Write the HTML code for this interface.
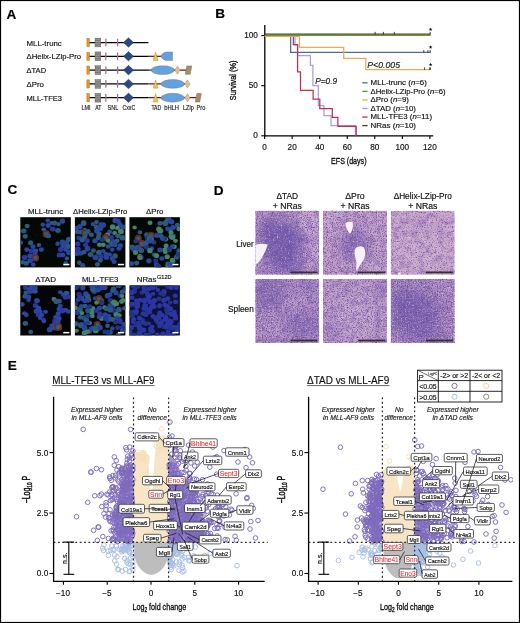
<!DOCTYPE html><html><head><meta charset="utf-8"><title>Figure</title><style>html,body{margin:0;padding:0;background:#fff;width:520px;height:623px;overflow:hidden}svg{display:block;font-family:"Liberation Sans",sans-serif;will-change:transform}</style></head><body><svg width="520" height="623" viewBox="0 0 520 623" font-family="Liberation Sans, sans-serif"><defs><filter id="soft" x="-5%" y="-5%" width="110%" height="110%"><feGaussianBlur stdDeviation="0.7"/></filter><clipPath id="tc00"><rect x="20.30" y="217.20" width="50.5" height="50.2"/></clipPath><clipPath id="tc01"><rect x="20.30" y="285.30" width="50.5" height="50.2"/></clipPath><clipPath id="tc10"><rect x="74.90" y="217.20" width="50.5" height="50.2"/></clipPath><clipPath id="tc11"><rect x="74.90" y="285.30" width="50.5" height="50.2"/></clipPath><clipPath id="tc20"><rect x="129.40" y="217.20" width="50.5" height="50.2"/></clipPath><clipPath id="tc21"><rect x="129.40" y="285.30" width="50.5" height="50.2"/></clipPath><filter id="hx0" x="0" y="0" width="100%" height="100%" color-interpolation-filters="sRGB"><feTurbulence type="fractalNoise" baseFrequency="0.8" numOctaves="1" seed="3" result="n"/><feColorMatrix in="n" type="matrix" values="0 0 0 0 0.44  0 0 0 0 0.30  0 0 0 0 0.64  3.4 0 0 0 -1.55"/><feGaussianBlur stdDeviation="0.3"/></filter><filter id="hy0" x="0" y="0" width="100%" height="100%" color-interpolation-filters="sRGB"><feTurbulence type="fractalNoise" baseFrequency="0.75" numOctaves="1" seed="5" result="n"/><feColorMatrix in="n" type="matrix" values="0 0 0 0 0.94  0 0 0 0 0.84  0 0 0 0 0.94  0 2.4 0 0 -1.35"/></filter><filter id="hz0" x="0" y="0" width="100%" height="100%" color-interpolation-filters="sRGB"><feTurbulence type="fractalNoise" baseFrequency="0.16" numOctaves="2" seed="9" result="n"/><feColorMatrix in="n" type="matrix" values="0 0 0 0 0.36  0 0 0 0 0.26  0 0 0 0 0.62  0 0 2.2 0 -0.95"/></filter><filter id="hx1" x="0" y="0" width="100%" height="100%" color-interpolation-filters="sRGB"><feTurbulence type="fractalNoise" baseFrequency="0.8" numOctaves="1" seed="14" result="n"/><feColorMatrix in="n" type="matrix" values="0 0 0 0 0.44  0 0 0 0 0.30  0 0 0 0 0.64  3.4 0 0 0 -1.6"/><feGaussianBlur stdDeviation="0.3"/></filter><filter id="hy1" x="0" y="0" width="100%" height="100%" color-interpolation-filters="sRGB"><feTurbulence type="fractalNoise" baseFrequency="0.75" numOctaves="1" seed="12" result="n"/><feColorMatrix in="n" type="matrix" values="0 0 0 0 0.94  0 0 0 0 0.84  0 0 0 0 0.94  0 2.4 0 0 -1.35"/></filter><filter id="hz1" x="0" y="0" width="100%" height="100%" color-interpolation-filters="sRGB"><feTurbulence type="fractalNoise" baseFrequency="0.16" numOctaves="2" seed="14" result="n"/><feColorMatrix in="n" type="matrix" values="0 0 0 0 0.36  0 0 0 0 0.26  0 0 0 0 0.62  0 0 2.2 0 -0.95"/></filter><filter id="hx2" x="0" y="0" width="100%" height="100%" color-interpolation-filters="sRGB"><feTurbulence type="fractalNoise" baseFrequency="0.8" numOctaves="1" seed="25" result="n"/><feColorMatrix in="n" type="matrix" values="0 0 0 0 0.44  0 0 0 0 0.30  0 0 0 0 0.64  3.4 0 0 0 -1.78"/><feGaussianBlur stdDeviation="0.3"/></filter><filter id="hy2" x="0" y="0" width="100%" height="100%" color-interpolation-filters="sRGB"><feTurbulence type="fractalNoise" baseFrequency="0.75" numOctaves="1" seed="19" result="n"/><feColorMatrix in="n" type="matrix" values="0 0 0 0 0.94  0 0 0 0 0.84  0 0 0 0 0.94  0 2.4 0 0 -1.35"/></filter><filter id="hz2" x="0" y="0" width="100%" height="100%" color-interpolation-filters="sRGB"><feTurbulence type="fractalNoise" baseFrequency="0.16" numOctaves="2" seed="19" result="n"/><feColorMatrix in="n" type="matrix" values="0 0 0 0 0.36  0 0 0 0 0.26  0 0 0 0 0.62  0 0 2.2 0 -0.95"/></filter><filter id="hx3" x="0" y="0" width="100%" height="100%" color-interpolation-filters="sRGB"><feTurbulence type="fractalNoise" baseFrequency="0.8" numOctaves="1" seed="36" result="n"/><feColorMatrix in="n" type="matrix" values="0 0 0 0 0.44  0 0 0 0 0.30  0 0 0 0 0.64  3.4 0 0 0 -1.55"/><feGaussianBlur stdDeviation="0.3"/></filter><filter id="hy3" x="0" y="0" width="100%" height="100%" color-interpolation-filters="sRGB"><feTurbulence type="fractalNoise" baseFrequency="0.75" numOctaves="1" seed="26" result="n"/><feColorMatrix in="n" type="matrix" values="0 0 0 0 0.94  0 0 0 0 0.84  0 0 0 0 0.94  0 2.4 0 0 -1.35"/></filter><filter id="hz3" x="0" y="0" width="100%" height="100%" color-interpolation-filters="sRGB"><feTurbulence type="fractalNoise" baseFrequency="0.16" numOctaves="2" seed="24" result="n"/><feColorMatrix in="n" type="matrix" values="0 0 0 0 0.36  0 0 0 0 0.26  0 0 0 0 0.62  0 0 2.2 0 -0.95"/></filter><filter id="hx4" x="0" y="0" width="100%" height="100%" color-interpolation-filters="sRGB"><feTurbulence type="fractalNoise" baseFrequency="0.8" numOctaves="1" seed="47" result="n"/><feColorMatrix in="n" type="matrix" values="0 0 0 0 0.44  0 0 0 0 0.30  0 0 0 0 0.64  3.4 0 0 0 -1.62"/><feGaussianBlur stdDeviation="0.3"/></filter><filter id="hy4" x="0" y="0" width="100%" height="100%" color-interpolation-filters="sRGB"><feTurbulence type="fractalNoise" baseFrequency="0.75" numOctaves="1" seed="33" result="n"/><feColorMatrix in="n" type="matrix" values="0 0 0 0 0.94  0 0 0 0 0.84  0 0 0 0 0.94  0 2.4 0 0 -1.35"/></filter><filter id="hz4" x="0" y="0" width="100%" height="100%" color-interpolation-filters="sRGB"><feTurbulence type="fractalNoise" baseFrequency="0.16" numOctaves="2" seed="29" result="n"/><feColorMatrix in="n" type="matrix" values="0 0 0 0 0.36  0 0 0 0 0.26  0 0 0 0 0.62  0 0 2.2 0 -0.95"/></filter><filter id="hx5" x="0" y="0" width="100%" height="100%" color-interpolation-filters="sRGB"><feTurbulence type="fractalNoise" baseFrequency="0.8" numOctaves="1" seed="58" result="n"/><feColorMatrix in="n" type="matrix" values="0 0 0 0 0.44  0 0 0 0 0.30  0 0 0 0 0.64  3.4 0 0 0 -1.5"/><feGaussianBlur stdDeviation="0.3"/></filter><filter id="hy5" x="0" y="0" width="100%" height="100%" color-interpolation-filters="sRGB"><feTurbulence type="fractalNoise" baseFrequency="0.75" numOctaves="1" seed="40" result="n"/><feColorMatrix in="n" type="matrix" values="0 0 0 0 0.94  0 0 0 0 0.84  0 0 0 0 0.94  0 2.4 0 0 -1.35"/></filter><filter id="hz5" x="0" y="0" width="100%" height="100%" color-interpolation-filters="sRGB"><feTurbulence type="fractalNoise" baseFrequency="0.16" numOctaves="2" seed="34" result="n"/><feColorMatrix in="n" type="matrix" values="0 0 0 0 0.36  0 0 0 0 0.26  0 0 0 0 0.62  0 0 2.2 0 -0.95"/></filter><filter id="blob" x="-50%" y="-50%" width="200%" height="200%"><feGaussianBlur stdDeviation="5"/></filter><filter id="wblur" x="-20%" y="-20%" width="140%" height="140%"><feGaussianBlur stdDeviation="0.6"/></filter><clipPath id="hd00"><rect x="255.30" y="210.80" width="63.9" height="64.0"/></clipPath><clipPath id="hd10"><rect x="323.00" y="210.80" width="63.9" height="64.0"/></clipPath><clipPath id="hd20"><rect x="390.80" y="210.80" width="63.9" height="64.0"/></clipPath><clipPath id="hd01"><rect x="255.30" y="278.90" width="63.9" height="64.0"/></clipPath><clipPath id="hd11"><rect x="323.00" y="278.90" width="63.9" height="64.0"/></clipPath><clipPath id="hd21"><rect x="390.80" y="278.90" width="63.9" height="64.0"/></clipPath><filter id="pblur" x="-2%" y="-2%" width="104%" height="104%"><feGaussianBlur stdDeviation="0.28"/></filter><clipPath id="pc0"><rect x="54.3" y="392" width="211.1" height="188.7"/></clipPath><clipPath id="pc1"><rect x="309.3" y="392" width="203.8" height="188.7"/></clipPath></defs><rect x="0.50" y="0.50" width="519.00" height="622.00" fill="#fff" stroke="#000" stroke-width="1.2"/>
<text x="6.60" y="18.50" font-size="13.6" stroke="#000" stroke-width="0.16" font-weight="bold">A</text>
<text x="215.20" y="18.10" font-size="13.6" stroke="#000" stroke-width="0.16" font-weight="bold">B</text>
<text x="7.40" y="194.40" font-size="13.6" stroke="#000" stroke-width="0.16" font-weight="bold">C</text>
<text x="213.80" y="195.00" font-size="13.6" stroke="#000" stroke-width="0.16" font-weight="bold">D</text>
<text x="7.80" y="369.80" font-size="13.6" stroke="#000" stroke-width="0.16" font-weight="bold">E</text>
<text x="26.50" y="45.50" font-size="7.8" fill="#111" stroke="#111" stroke-width="0.16" textLength="35.30" lengthAdjust="spacingAndGlyphs">MLL-trunc</text>
<text x="26.50" y="59.20" font-size="7.8" fill="#111" stroke="#111" stroke-width="0.16" textLength="54.60" lengthAdjust="spacingAndGlyphs">ΔHelix-LZip-Pro</text>
<text x="26.50" y="73.00" font-size="7.8" fill="#111" stroke="#111" stroke-width="0.16" textLength="19.60" lengthAdjust="spacingAndGlyphs">ΔTAD</text>
<text x="26.50" y="86.80" font-size="7.8" fill="#111" stroke="#111" stroke-width="0.16" textLength="17.40" lengthAdjust="spacingAndGlyphs">ΔPro</text>
<text x="26.50" y="100.60" font-size="7.8" fill="#111" stroke="#111" stroke-width="0.16" textLength="35.40" lengthAdjust="spacingAndGlyphs">MLL-TFE3</text>
<line x1="89.30" y1="42.50" x2="148.40" y2="42.50" stroke="#000" stroke-width="1.25"/>
<rect x="86.90" y="38.40" width="2.50" height="8.20" fill="#e8961c" stroke="#9a6010" stroke-width="0.4"/>
<rect x="95.00" y="38.10" width="5.80" height="8.80" fill="#7c7c7c" stroke="#5a5a5a" stroke-width="0.4"/>
<line x1="95.20" y1="39.30" x2="100.60" y2="39.30" stroke="#a8a8a8" stroke-width="0.55"/>
<line x1="95.20" y1="41.50" x2="100.60" y2="41.50" stroke="#a8a8a8" stroke-width="0.55"/>
<line x1="95.20" y1="43.70" x2="100.60" y2="43.70" stroke="#a8a8a8" stroke-width="0.55"/>
<line x1="95.20" y1="45.90" x2="100.60" y2="45.90" stroke="#a8a8a8" stroke-width="0.55"/>
<rect x="105.20" y="38.70" width="1.30" height="7.60" fill="#a87090"/>
<rect x="116.90" y="38.70" width="1.30" height="7.60" fill="#a87090"/>
<path d="M123.40 42.50L128.50 37.70L133.60 42.50L128.50 47.30Z" fill="#2a4a80" stroke="#1a2e55" stroke-width="0.4"/>
<line x1="89.30" y1="56.31" x2="148.80" y2="56.31" stroke="#000" stroke-width="1.25"/>
<line x1="148.80" y1="56.31" x2="161.50" y2="56.31" stroke="#6a1420" stroke-width="1.25"/>
<rect x="86.90" y="52.21" width="2.50" height="8.20" fill="#e8961c" stroke="#9a6010" stroke-width="0.4"/>
<rect x="95.00" y="51.91" width="5.80" height="8.80" fill="#7c7c7c" stroke="#5a5a5a" stroke-width="0.4"/>
<line x1="95.20" y1="53.11" x2="100.60" y2="53.11" stroke="#a8a8a8" stroke-width="0.55"/>
<line x1="95.20" y1="55.31" x2="100.60" y2="55.31" stroke="#a8a8a8" stroke-width="0.55"/>
<line x1="95.20" y1="57.51" x2="100.60" y2="57.51" stroke="#a8a8a8" stroke-width="0.55"/>
<line x1="95.20" y1="59.71" x2="100.60" y2="59.71" stroke="#a8a8a8" stroke-width="0.55"/>
<rect x="105.20" y="52.51" width="1.30" height="7.60" fill="#a87090"/>
<rect x="116.90" y="52.51" width="1.30" height="7.60" fill="#a87090"/>
<path d="M123.40 56.31L128.50 51.51L133.60 56.31L128.50 61.11Z" fill="#2a4a80" stroke="#1a2e55" stroke-width="0.4"/>
<path d="M155.6 52.11L158.1 60.51L153.2 60.51Z" fill="#f2c44a" stroke="#a08030" stroke-width="0.4"/>
<path d="M172.5 52.01L172.5 60.61L166.5 60.61C163.5 60.61 161.5 57.81 160.8 56.31C161.5 54.81 163.5 52.01 166.5 52.01Z" fill="#62a2e2" stroke="#7a6a50" stroke-width="0.4"/>
<line x1="89.30" y1="70.12" x2="149.50" y2="70.12" stroke="#000" stroke-width="1.25"/>
<line x1="149.50" y1="70.12" x2="186.00" y2="70.12" stroke="#6a1420" stroke-width="1.25"/>
<rect x="86.90" y="66.02" width="2.50" height="8.20" fill="#e8961c" stroke="#9a6010" stroke-width="0.4"/>
<rect x="95.00" y="65.72" width="5.80" height="8.80" fill="#7c7c7c" stroke="#5a5a5a" stroke-width="0.4"/>
<line x1="95.20" y1="66.92" x2="100.60" y2="66.92" stroke="#a8a8a8" stroke-width="0.55"/>
<line x1="95.20" y1="69.12" x2="100.60" y2="69.12" stroke="#a8a8a8" stroke-width="0.55"/>
<line x1="95.20" y1="71.32" x2="100.60" y2="71.32" stroke="#a8a8a8" stroke-width="0.55"/>
<line x1="95.20" y1="73.52" x2="100.60" y2="73.52" stroke="#a8a8a8" stroke-width="0.55"/>
<rect x="105.20" y="66.32" width="1.30" height="7.60" fill="#a87090"/>
<rect x="116.90" y="66.32" width="1.30" height="7.60" fill="#a87090"/>
<path d="M123.40 70.12L128.50 65.32L133.60 70.12L128.50 74.92Z" fill="#2a4a80" stroke="#1a2e55" stroke-width="0.4"/>
<ellipse cx="162.65" cy="70.12" rx="11.65" ry="4.4" fill="#62a2e2" stroke="#7a6a50" stroke-width="0.4"/>
<path d="M174.70 70.12L177.40 66.02L180.10 70.12L177.40 74.22Z" fill="#e2c08e" stroke="#9a7a50" stroke-width="0.4"/>
<path d="M186.80 65.92L191.80 65.92L190.20 74.32L185.20 74.32Z" fill="#a88e6a" stroke="#6a5a40" stroke-width="0.4"/>
<line x1="89.30" y1="83.93" x2="148.50" y2="83.93" stroke="#000" stroke-width="1.25"/>
<line x1="148.50" y1="83.93" x2="185.00" y2="83.93" stroke="#6a1420" stroke-width="1.25"/>
<rect x="86.90" y="79.83" width="2.50" height="8.20" fill="#e8961c" stroke="#9a6010" stroke-width="0.4"/>
<rect x="95.00" y="79.53" width="5.80" height="8.80" fill="#7c7c7c" stroke="#5a5a5a" stroke-width="0.4"/>
<line x1="95.20" y1="80.73" x2="100.60" y2="80.73" stroke="#a8a8a8" stroke-width="0.55"/>
<line x1="95.20" y1="82.93" x2="100.60" y2="82.93" stroke="#a8a8a8" stroke-width="0.55"/>
<line x1="95.20" y1="85.13" x2="100.60" y2="85.13" stroke="#a8a8a8" stroke-width="0.55"/>
<line x1="95.20" y1="87.33" x2="100.60" y2="87.33" stroke="#a8a8a8" stroke-width="0.55"/>
<rect x="105.20" y="80.13" width="1.30" height="7.60" fill="#a87090"/>
<rect x="116.90" y="80.13" width="1.30" height="7.60" fill="#a87090"/>
<path d="M123.40 83.93L128.50 79.13L133.60 83.93L128.50 88.73Z" fill="#2a4a80" stroke="#1a2e55" stroke-width="0.4"/>
<path d="M155.6 79.73L158.1 88.13L153.2 88.13Z" fill="#f2c44a" stroke="#a08030" stroke-width="0.4"/>
<ellipse cx="172.70" cy="83.93" rx="11.80" ry="4.4" fill="#62a2e2" stroke="#7a6a50" stroke-width="0.4"/>
<path d="M184.70 83.93L187.40 79.83L190.10 83.93L187.40 88.03Z" fill="#e2c08e" stroke="#9a7a50" stroke-width="0.4"/>
<line x1="89.30" y1="97.74" x2="148.50" y2="97.74" stroke="#000" stroke-width="1.25"/>
<line x1="148.50" y1="97.74" x2="196.00" y2="97.74" stroke="#6a1420" stroke-width="1.25"/>
<rect x="86.90" y="93.64" width="2.50" height="8.20" fill="#e8961c" stroke="#9a6010" stroke-width="0.4"/>
<rect x="95.00" y="93.34" width="5.80" height="8.80" fill="#7c7c7c" stroke="#5a5a5a" stroke-width="0.4"/>
<line x1="95.20" y1="94.54" x2="100.60" y2="94.54" stroke="#a8a8a8" stroke-width="0.55"/>
<line x1="95.20" y1="96.74" x2="100.60" y2="96.74" stroke="#a8a8a8" stroke-width="0.55"/>
<line x1="95.20" y1="98.94" x2="100.60" y2="98.94" stroke="#a8a8a8" stroke-width="0.55"/>
<line x1="95.20" y1="101.14" x2="100.60" y2="101.14" stroke="#a8a8a8" stroke-width="0.55"/>
<rect x="105.20" y="93.94" width="1.30" height="7.60" fill="#a87090"/>
<rect x="116.90" y="93.94" width="1.30" height="7.60" fill="#a87090"/>
<path d="M123.40 97.74L128.50 92.94L133.60 97.74L128.50 102.54Z" fill="#2a4a80" stroke="#1a2e55" stroke-width="0.4"/>
<path d="M155.6 93.54L158.1 101.94L153.2 101.94Z" fill="#f2c44a" stroke="#a08030" stroke-width="0.4"/>
<ellipse cx="172.70" cy="97.74" rx="11.80" ry="4.4" fill="#62a2e2" stroke="#7a6a50" stroke-width="0.4"/>
<path d="M184.70 97.74L187.40 93.64L190.10 97.74L187.40 101.84Z" fill="#e2c08e" stroke="#9a7a50" stroke-width="0.4"/>
<path d="M196.80 93.54L201.40 93.54L199.80 101.94L195.20 101.94Z" fill="#a88e6a" stroke="#6a5a40" stroke-width="0.4"/>
<text x="81.40" y="110.20" font-size="6.4" fill="#222" stroke="#222" stroke-width="0.16" textLength="9.20" lengthAdjust="spacingAndGlyphs">LMI</text>
<text x="95.20" y="110.20" font-size="6.4" fill="#222" stroke="#222" stroke-width="0.16" textLength="6.20" lengthAdjust="spacingAndGlyphs">AT</text>
<text x="107.60" y="110.20" font-size="6.4" fill="#222" stroke="#222" stroke-width="0.16" textLength="10.80" lengthAdjust="spacingAndGlyphs">SNL</text>
<text x="122.40" y="110.20" font-size="6.4" fill="#222" stroke="#222" stroke-width="0.16" textLength="12.80" lengthAdjust="spacingAndGlyphs">CxxC</text>
<text x="151.40" y="110.20" font-size="6.4" fill="#222" stroke="#222" stroke-width="0.16" textLength="9.80" lengthAdjust="spacingAndGlyphs">TAD</text>
<text x="164.20" y="110.20" font-size="6.4" fill="#222" stroke="#222" stroke-width="0.16" textLength="14.80" lengthAdjust="spacingAndGlyphs">bHLH</text>
<text x="183.00" y="110.20" font-size="6.4" fill="#222" stroke="#222" stroke-width="0.16" textLength="10.80" lengthAdjust="spacingAndGlyphs">LZip</text>
<text x="196.50" y="110.20" font-size="6.4" fill="#222" stroke="#222" stroke-width="0.16" textLength="8.80" lengthAdjust="spacingAndGlyphs">Pro</text>
<line x1="264.80" y1="25.00" x2="264.80" y2="136.40" stroke="#000" stroke-width="1.3"/>
<line x1="264.20" y1="135.80" x2="433.20" y2="135.80" stroke="#000" stroke-width="1.3"/>
<line x1="261.20" y1="35.60" x2="264.80" y2="35.60" stroke="#000" stroke-width="1.1"/>
<text x="257.90" y="38.10" font-size="8.2" fill="#111" stroke="#111" stroke-width="0.16" text-anchor="end">100</text>
<line x1="261.20" y1="85.70" x2="264.80" y2="85.70" stroke="#000" stroke-width="1.1"/>
<text x="257.90" y="88.20" font-size="8.2" fill="#111" stroke="#111" stroke-width="0.16" text-anchor="end">50</text>
<line x1="261.20" y1="135.80" x2="264.80" y2="135.80" stroke="#000" stroke-width="1.1"/>
<text x="257.90" y="138.30" font-size="8.2" fill="#111" stroke="#111" stroke-width="0.16" text-anchor="end">0</text>
<line x1="264.60" y1="135.80" x2="264.60" y2="139.00" stroke="#000" stroke-width="1.1"/>
<text x="264.60" y="150.30" font-size="8.2" fill="#111" stroke="#111" stroke-width="0.16" text-anchor="middle">0</text>
<line x1="292.15" y1="135.80" x2="292.15" y2="139.00" stroke="#000" stroke-width="1.1"/>
<text x="292.15" y="150.30" font-size="8.2" fill="#111" stroke="#111" stroke-width="0.16" text-anchor="middle">20</text>
<line x1="319.70" y1="135.80" x2="319.70" y2="139.00" stroke="#000" stroke-width="1.1"/>
<text x="319.70" y="150.30" font-size="8.2" fill="#111" stroke="#111" stroke-width="0.16" text-anchor="middle">40</text>
<line x1="347.25" y1="135.80" x2="347.25" y2="139.00" stroke="#000" stroke-width="1.1"/>
<text x="347.25" y="150.30" font-size="8.2" fill="#111" stroke="#111" stroke-width="0.16" text-anchor="middle">60</text>
<line x1="374.80" y1="135.80" x2="374.80" y2="139.00" stroke="#000" stroke-width="1.1"/>
<text x="374.80" y="150.30" font-size="8.2" fill="#111" stroke="#111" stroke-width="0.16" text-anchor="middle">80</text>
<line x1="402.35" y1="135.80" x2="402.35" y2="139.00" stroke="#000" stroke-width="1.1"/>
<text x="402.35" y="150.30" font-size="8.2" fill="#111" stroke="#111" stroke-width="0.16" text-anchor="middle">100</text>
<line x1="429.90" y1="135.80" x2="429.90" y2="139.00" stroke="#000" stroke-width="1.1"/>
<text x="429.90" y="150.30" font-size="8.2" fill="#111" stroke="#111" stroke-width="0.16" text-anchor="middle">120</text>
<text x="235.60" y="80.40" font-size="9.4" fill="#111" stroke="#111" stroke-width="0.35" text-anchor="middle" textLength="39.50" lengthAdjust="spacingAndGlyphs" transform="rotate(-90 235.60 80.40)">Survival (%)</text>
<text x="348.80" y="163.80" font-size="9.4" fill="#111" stroke="#111" stroke-width="0.35" text-anchor="middle" textLength="35.40" lengthAdjust="spacingAndGlyphs">EFS (days)</text>
<path d="M264.80 36.40 L295.00 36.40 L295.00 44.80 L297.50 44.80 L297.50 55.70 L310.40 55.70 L310.40 65.40 L312.90 65.40 L312.90 85.50 L318.30 85.50 L318.30 105.60 L324.00 105.60 L324.00 115.50 L331.00 115.50 L331.00 125.70 L355.40 125.70 L355.40 135.20" fill="none" stroke="#a4a0dc" stroke-width="1.25" stroke-linejoin="miter"/>
<path d="M264.80 36.40 L293.35 36.40 L293.35 44.60 L297.60 44.60 L297.60 71.80 L300.50 71.80 L300.50 90.30 L313.10 90.30 L313.10 99.20 L319.80 99.20 L319.80 108.50 L332.30 108.50 L332.30 117.40 L337.90 117.40 L337.90 126.30 L356.20 126.30 L356.20 135.20" fill="none" stroke="#c22e52" stroke-width="1.25" stroke-linejoin="miter"/>
<path d="M264.80 36.40 L290.65 36.40 L290.65 52.30 L430.50 52.30" fill="none" stroke="#4d6aa6" stroke-width="1.25" stroke-linejoin="miter"/>
<path d="M264.80 36.40 L299.50 36.40 L299.50 47.30 L343.70 47.30 L343.70 58.40 L365.80 58.40 L365.80 69.60 L430.30 69.60" fill="none" stroke="#f0a848" stroke-width="1.25" stroke-linejoin="miter"/>
<path d="M264.80 35.30 L430.50 35.30" fill="none" stroke="#4aa63a" stroke-width="1.25" stroke-linejoin="miter"/>
<path d="M264.80 34.10 L430.50 34.10" fill="none" stroke="#603a18" stroke-width="1.25" stroke-linejoin="miter"/>
<line x1="423.80" y1="50.10" x2="423.80" y2="52.60" stroke="#111" stroke-width="0.8"/>
<line x1="427.90" y1="50.10" x2="427.90" y2="52.60" stroke="#111" stroke-width="0.8"/>
<line x1="424.60" y1="67.40" x2="424.60" y2="69.90" stroke="#111" stroke-width="0.8"/>
<line x1="429.90" y1="67.40" x2="429.90" y2="69.90" stroke="#111" stroke-width="0.8"/>
<line x1="375.10" y1="31.90" x2="375.10" y2="34.40" stroke="#111" stroke-width="0.8"/>
<line x1="383.40" y1="31.90" x2="383.40" y2="34.40" stroke="#111" stroke-width="0.8"/>
<line x1="394.30" y1="31.90" x2="394.30" y2="34.40" stroke="#111" stroke-width="0.8"/>
<line x1="430.20" y1="31.90" x2="430.20" y2="34.40" stroke="#111" stroke-width="0.8"/>
<line x1="430.20" y1="50.10" x2="430.20" y2="52.60" stroke="#111" stroke-width="0.8"/>
<line x1="430.20" y1="67.40" x2="430.20" y2="69.90" stroke="#111" stroke-width="0.8"/>
<polygon points="430.60,27.50 431.07,28.75 432.41,28.81 431.36,29.65 431.72,30.94 430.60,30.20 429.48,30.94 429.84,29.65 428.79,28.81 430.13,28.75" fill="#111"/>
<polygon points="430.60,45.30 431.07,46.55 432.41,46.61 431.36,47.45 431.72,48.74 430.60,48.00 429.48,48.74 429.84,47.45 428.79,46.61 430.13,46.55" fill="#111"/>
<polygon points="430.60,62.70 431.07,63.95 432.41,64.01 431.36,64.85 431.72,66.14 430.60,65.40 429.48,66.14 429.84,64.85 428.79,64.01 430.13,63.95" fill="#111"/>
<text x="367.30" y="67.70" font-size="8.4" fill="#222" stroke="#222" stroke-width="0.16" font-style="italic" textLength="32.80" lengthAdjust="spacingAndGlyphs">P&lt;0.005</text>
<text x="315.20" y="83.90" font-size="8.4" fill="#222" stroke="#222" stroke-width="0.16" font-style="italic" textLength="22.00" lengthAdjust="spacingAndGlyphs">P=0.9</text>
<line x1="362.20" y1="82.80" x2="367.60" y2="82.80" stroke="#4d6aa6" stroke-width="1.3"/>
<text x="370.60" y="85.20" font-size="7.8" fill="#111" stroke="#111" stroke-width="0.16" textLength="56.30" lengthAdjust="spacingAndGlyphs">MLL-trunc (<tspan font-style="italic">n</tspan>=6)</text>
<line x1="362.20" y1="91.36" x2="367.60" y2="91.36" stroke="#4aa63a" stroke-width="1.3"/>
<text x="370.60" y="93.76" font-size="7.8" fill="#111" stroke="#111" stroke-width="0.16" textLength="75.00" lengthAdjust="spacingAndGlyphs">ΔHelix-LZip-Pro (<tspan font-style="italic">n</tspan>=6)</text>
<line x1="362.20" y1="99.92" x2="367.60" y2="99.92" stroke="#f0a848" stroke-width="1.3"/>
<text x="370.60" y="102.32" font-size="7.8" fill="#111" stroke="#111" stroke-width="0.16" textLength="38.40" lengthAdjust="spacingAndGlyphs">ΔPro (<tspan font-style="italic">n</tspan>=9)</text>
<line x1="362.20" y1="108.48" x2="367.60" y2="108.48" stroke="#a4a0dc" stroke-width="1.3"/>
<text x="370.60" y="110.88" font-size="7.8" fill="#111" stroke="#111" stroke-width="0.16" textLength="45.40" lengthAdjust="spacingAndGlyphs">ΔTAD (<tspan font-style="italic">n</tspan>=10)</text>
<line x1="362.20" y1="117.04" x2="367.60" y2="117.04" stroke="#c22e52" stroke-width="1.3"/>
<text x="370.60" y="119.44" font-size="7.8" fill="#111" stroke="#111" stroke-width="0.16" textLength="61.50" lengthAdjust="spacingAndGlyphs">MLL-TFE3 (<tspan font-style="italic">n</tspan>=11)</text>
<line x1="362.20" y1="125.60" x2="367.60" y2="125.60" stroke="#603a18" stroke-width="1.3"/>
<text x="370.60" y="128.00" font-size="7.8" fill="#111" stroke="#111" stroke-width="0.16" textLength="45.40" lengthAdjust="spacingAndGlyphs">NRas (<tspan font-style="italic">n</tspan>=10)</text>
<text x="45.55" y="214.30" font-size="7.8" fill="#111" stroke="#111" stroke-width="0.16" text-anchor="middle" textLength="35.20" lengthAdjust="spacingAndGlyphs">MLL-trunc</text>
<text x="100.15" y="214.30" font-size="7.8" fill="#111" stroke="#111" stroke-width="0.16" text-anchor="middle" textLength="54.20" lengthAdjust="spacingAndGlyphs">ΔHelix-LZip-Pro</text>
<text x="154.65" y="214.30" font-size="7.8" fill="#111" stroke="#111" stroke-width="0.16" text-anchor="middle" textLength="17.40" lengthAdjust="spacingAndGlyphs">ΔPro</text>
<text x="45.55" y="282.40" font-size="7.8" fill="#111" stroke="#111" stroke-width="0.16" text-anchor="middle" textLength="20.80" lengthAdjust="spacingAndGlyphs">ΔTAD</text>
<text x="100.15" y="282.40" font-size="7.8" fill="#111" stroke="#111" stroke-width="0.16" text-anchor="middle" textLength="36.40" lengthAdjust="spacingAndGlyphs">MLL-TFE3</text>
<text x="136.80" y="282.40" font-size="7.8" fill="#111" stroke="#111" stroke-width="0.16" textLength="19.60" lengthAdjust="spacingAndGlyphs">NRas</text>
<text x="157.00" y="279.20" font-size="5.4" fill="#111" stroke="#111" stroke-width="0.16" textLength="14.60" lengthAdjust="spacingAndGlyphs">G12D</text>
<rect x="20.30" y="217.20" width="50.50" height="50.20" fill="#040804"/>
<g clip-path="url(#tc00)"><g filter="url(#soft)"><ellipse cx="27.2" cy="226.0" rx="2.5" ry="2.2" fill="#2c587e"/><ellipse cx="23.7" cy="230.9" rx="2.7" ry="2.3" fill="#2c587e"/><ellipse cx="25.2" cy="236.3" rx="2.6" ry="2.4" fill="#2c587e"/><ellipse cx="42.8" cy="224.6" rx="2.3" ry="2.2" fill="#2a449c"/><ellipse cx="47.8" cy="220.6" rx="2.3" ry="2.1" fill="#2a449c"/><ellipse cx="51.7" cy="223.1" rx="2.3" ry="2.0" fill="#2c587e"/><ellipse cx="54.6" cy="223.1" rx="2.6" ry="2.5" fill="#2c587e"/><ellipse cx="58.5" cy="224.1" rx="2.4" ry="2.1" fill="#2c587e"/><ellipse cx="62.5" cy="221.1" rx="2.7" ry="2.7" fill="#2a449c"/><ellipse cx="48.2" cy="225.5" rx="2.6" ry="2.4" fill="#2a449c"/><ellipse cx="52.7" cy="229.0" rx="2.9" ry="2.5" fill="#2e36a2"/><ellipse cx="58.0" cy="230.4" rx="2.8" ry="2.5" fill="#2c587e"/><ellipse cx="43.8" cy="229.5" rx="2.4" ry="2.1" fill="#2c587e"/><circle cx="46.3" cy="233.9" r="3.7" fill="#6a2c1c"/><circle cx="46.3" cy="233.9" r="2.1" fill="#3a5a70"/><ellipse cx="48.2" cy="235.8" rx="2.8" ry="2.4" fill="#2c587e"/><ellipse cx="30.6" cy="242.7" rx="2.6" ry="2.5" fill="#2c587e"/><ellipse cx="33.0" cy="246.6" rx="2.5" ry="2.4" fill="#2a449c"/><ellipse cx="38.9" cy="245.1" rx="2.3" ry="2.0" fill="#2c587e"/><ellipse cx="26.7" cy="249.6" rx="2.4" ry="2.3" fill="#2a449c"/><ellipse cx="31.1" cy="251.0" rx="2.6" ry="2.3" fill="#2e36a2"/><ellipse cx="35.5" cy="251.0" rx="2.7" ry="2.4" fill="#2a449c"/><ellipse cx="41.4" cy="249.6" rx="2.5" ry="2.4" fill="#2a449c"/><ellipse cx="30.1" cy="255.9" rx="2.7" ry="2.4" fill="#2a449c"/><ellipse cx="35.0" cy="254.5" rx="2.6" ry="2.5" fill="#2a449c"/><ellipse cx="24.7" cy="257.4" rx="2.8" ry="2.7" fill="#2e36a2"/><circle cx="35.5" cy="257.9" r="3.7" fill="#6a2c1c"/><circle cx="35.5" cy="257.9" r="2.1" fill="#3a5a70"/><ellipse cx="30.1" cy="260.8" rx="2.9" ry="2.5" fill="#2a449c"/><ellipse cx="26.2" cy="263.3" rx="2.6" ry="2.5" fill="#2c587e"/><ellipse cx="22.8" cy="262.3" rx="2.4" ry="2.2" fill="#2c587e"/><ellipse cx="57.6" cy="243.7" rx="2.3" ry="2.2" fill="#2a449c"/><ellipse cx="62.5" cy="242.2" rx="2.8" ry="2.6" fill="#2a449c"/><ellipse cx="66.4" cy="242.7" rx="2.8" ry="2.5" fill="#2a449c"/><ellipse cx="68.8" cy="239.3" rx="2.7" ry="2.6" fill="#2c587e"/><ellipse cx="62.9" cy="246.1" rx="2.6" ry="2.4" fill="#2a449c"/><ellipse cx="67.8" cy="246.6" rx="2.8" ry="2.8" fill="#2c587e"/><ellipse cx="60.5" cy="249.6" rx="2.6" ry="2.5" fill="#2e36a2"/><ellipse cx="65.4" cy="249.6" rx="2.3" ry="2.2" fill="#2a449c"/><ellipse cx="68.8" cy="252.5" rx="2.7" ry="2.7" fill="#2a449c"/><ellipse cx="59.5" cy="254.9" rx="2.8" ry="2.5" fill="#2e36a2"/><ellipse cx="62.9" cy="254.9" rx="2.5" ry="2.4" fill="#2a449c"/><ellipse cx="66.9" cy="258.4" rx="2.3" ry="2.1" fill="#2c587e"/><ellipse cx="20.8" cy="242.7" rx="2.4" ry="2.1" fill="#2a449c"/><ellipse cx="65.8" cy="263.2" rx="2.3" ry="2.3" fill="#2a449c"/><ellipse cx="33.3" cy="264.7" rx="2.4" ry="2.1" fill="#2a449c"/></g></g>
<rect x="63.30" y="263.80" width="6.00" height="1.50" fill="#fff"/>
<rect x="20.30" y="285.30" width="50.50" height="50.20" fill="#050406"/>
<g clip-path="url(#tc01)"><g filter="url(#soft)"><ellipse cx="25.4" cy="287.4" rx="2.5" ry="2.5" fill="#2e36a2"/><ellipse cx="28.6" cy="289.0" rx="2.3" ry="2.2" fill="#2a449c"/><ellipse cx="31.7" cy="287.4" rx="2.6" ry="2.6" fill="#2a449c"/><ellipse cx="34.9" cy="287.9" rx="2.8" ry="2.7" fill="#2a449c"/><ellipse cx="25.9" cy="292.7" rx="2.5" ry="2.3" fill="#2c587e"/><ellipse cx="29.6" cy="291.6" rx="2.5" ry="2.5" fill="#2a449c"/><ellipse cx="32.8" cy="291.1" rx="2.9" ry="2.5" fill="#2a449c"/><ellipse cx="35.4" cy="291.6" rx="2.4" ry="2.1" fill="#2c587e"/><ellipse cx="24.8" cy="296.4" rx="2.4" ry="2.3" fill="#2c587e"/><ellipse cx="28.6" cy="296.9" rx="2.7" ry="2.4" fill="#2a449c"/><ellipse cx="28.6" cy="300.1" rx="2.3" ry="2.1" fill="#2a449c"/><ellipse cx="22.2" cy="304.3" rx="2.5" ry="2.4" fill="#2a449c"/><ellipse cx="37.0" cy="300.6" rx="2.9" ry="2.7" fill="#2a449c"/><ellipse cx="35.4" cy="305.4" rx="2.6" ry="2.5" fill="#2e36a2"/><ellipse cx="38.6" cy="308.1" rx="2.7" ry="2.3" fill="#2a449c"/><ellipse cx="36.5" cy="311.2" rx="2.8" ry="2.7" fill="#2a449c"/><ellipse cx="39.7" cy="311.8" rx="2.8" ry="2.7" fill="#2a449c"/><ellipse cx="38.1" cy="314.9" rx="2.5" ry="2.3" fill="#2e36a2"/><ellipse cx="41.8" cy="314.9" rx="2.4" ry="2.2" fill="#2a449c"/><ellipse cx="40.2" cy="318.1" rx="2.3" ry="2.0" fill="#2a449c"/><ellipse cx="43.4" cy="319.7" rx="2.4" ry="2.1" fill="#2e36a2"/><ellipse cx="45.5" cy="311.8" rx="2.5" ry="2.1" fill="#2a449c"/><ellipse cx="43.9" cy="321.3" rx="2.3" ry="2.0" fill="#2a449c"/><ellipse cx="24.3" cy="313.3" rx="2.4" ry="2.1" fill="#2a449c"/><ellipse cx="26.4" cy="314.9" rx="2.3" ry="2.3" fill="#2a449c"/><ellipse cx="25.4" cy="323.4" rx="2.7" ry="2.3" fill="#2c587e"/><ellipse cx="30.7" cy="331.9" rx="2.5" ry="2.2" fill="#2c587e"/><ellipse cx="54.0" cy="299.1" rx="2.5" ry="2.2" fill="#44826c"/><ellipse cx="56.1" cy="301.2" rx="2.8" ry="2.8" fill="#2c587e"/><ellipse cx="59.2" cy="301.2" rx="2.6" ry="2.4" fill="#2c587e"/><ellipse cx="60.3" cy="292.2" rx="2.4" ry="2.0" fill="#2a449c"/><ellipse cx="63.5" cy="294.8" rx="2.5" ry="2.2" fill="#2a449c"/><ellipse cx="66.6" cy="293.2" rx="2.8" ry="2.4" fill="#2c587e"/><ellipse cx="65.1" cy="297.5" rx="2.3" ry="2.3" fill="#2e36a2"/><ellipse cx="68.2" cy="296.9" rx="2.6" ry="2.3" fill="#2e36a2"/><ellipse cx="60.3" cy="305.9" rx="2.6" ry="2.2" fill="#2a449c"/><ellipse cx="59.2" cy="309.1" rx="2.6" ry="2.6" fill="#2a449c"/><ellipse cx="62.4" cy="310.7" rx="2.8" ry="2.7" fill="#2e36a2"/><ellipse cx="65.6" cy="310.0" rx="2.5" ry="2.2" fill="#2a449c"/><ellipse cx="68.2" cy="311.5" rx="2.4" ry="2.3" fill="#2a449c"/><ellipse cx="58.2" cy="313.7" rx="2.6" ry="2.5" fill="#2a449c"/><ellipse cx="55.5" cy="317.1" rx="2.5" ry="2.2" fill="#2a449c"/><ellipse cx="58.7" cy="318.6" rx="2.8" ry="2.8" fill="#2a449c"/><ellipse cx="55.0" cy="321.3" rx="2.8" ry="2.7" fill="#2e36a2"/><ellipse cx="57.7" cy="322.9" rx="2.8" ry="2.7" fill="#2a449c"/><ellipse cx="54.0" cy="325.0" rx="2.4" ry="2.3" fill="#2a449c"/><ellipse cx="51.8" cy="325.5" rx="2.5" ry="2.1" fill="#2a449c"/><ellipse cx="50.8" cy="328.2" rx="2.3" ry="2.1" fill="#2a449c"/><ellipse cx="55.0" cy="328.2" rx="2.5" ry="2.3" fill="#2c587e"/><ellipse cx="49.7" cy="329.7" rx="2.9" ry="2.6" fill="#2a449c"/><circle cx="58.2" cy="327.1" r="4.1" fill="#6a2c1c"/><circle cx="58.2" cy="327.1" r="2.5" fill="#3a5a70"/></g></g>
<rect x="63.30" y="331.90" width="6.00" height="1.50" fill="#fff"/>
<rect x="74.90" y="217.20" width="50.50" height="50.20" fill="#050a05"/>
<g clip-path="url(#tc10)"><g filter="url(#soft)"><ellipse cx="83.7" cy="223.1" rx="2.9" ry="2.9" fill="#2c587e"/><ellipse cx="93.0" cy="224.1" rx="2.5" ry="2.2" fill="#2a449c"/><ellipse cx="96.5" cy="222.1" rx="2.4" ry="2.1" fill="#2c587e"/><ellipse cx="100.9" cy="224.6" rx="2.4" ry="2.3" fill="#2a449c"/><ellipse cx="103.3" cy="225.0" rx="2.8" ry="2.8" fill="#2a449c"/><ellipse cx="96.5" cy="227.0" rx="2.6" ry="2.5" fill="#2c587e"/><ellipse cx="100.4" cy="228.5" rx="2.8" ry="2.4" fill="#2a449c"/><ellipse cx="115.1" cy="220.6" rx="2.7" ry="2.7" fill="#2a449c"/><ellipse cx="118.0" cy="221.1" rx="2.8" ry="2.7" fill="#2a449c"/><ellipse cx="120.0" cy="224.6" rx="2.6" ry="2.3" fill="#2a449c"/><ellipse cx="122.9" cy="227.0" rx="2.8" ry="2.5" fill="#2a449c"/><ellipse cx="112.6" cy="227.0" rx="2.8" ry="2.8" fill="#44826c"/><ellipse cx="117.5" cy="228.0" rx="2.5" ry="2.3" fill="#44826c"/><ellipse cx="121.0" cy="231.4" rx="2.9" ry="2.7" fill="#44826c"/><ellipse cx="114.6" cy="232.9" rx="2.4" ry="2.1" fill="#44826c"/><ellipse cx="109.7" cy="231.9" rx="2.4" ry="2.4" fill="#2a449c"/><ellipse cx="118.0" cy="235.8" rx="2.8" ry="2.4" fill="#2c587e"/><ellipse cx="107.3" cy="235.3" rx="2.8" ry="2.8" fill="#44826c"/><ellipse cx="111.2" cy="237.3" rx="2.7" ry="2.4" fill="#2e36a2"/><circle cx="105.8" cy="237.8" r="3.8" fill="#6a2c1c"/><circle cx="105.8" cy="237.8" r="2.2" fill="#3a5a70"/><ellipse cx="108.2" cy="240.7" rx="2.4" ry="2.0" fill="#44826c"/><ellipse cx="96.9" cy="230.9" rx="2.9" ry="2.7" fill="#2a449c"/><ellipse cx="98.9" cy="233.9" rx="2.6" ry="2.6" fill="#2c587e"/><ellipse cx="98.4" cy="237.8" rx="2.6" ry="2.5" fill="#2c587e"/><ellipse cx="95.0" cy="240.7" rx="2.8" ry="2.5" fill="#2a449c"/><ellipse cx="101.9" cy="239.7" rx="2.5" ry="2.2" fill="#223684"/><ellipse cx="99.4" cy="244.7" rx="2.4" ry="2.3" fill="#44826c"/><ellipse cx="103.3" cy="244.7" rx="2.5" ry="2.2" fill="#44826c"/><ellipse cx="113.1" cy="241.2" rx="2.4" ry="2.3" fill="#2a449c"/><ellipse cx="117.1" cy="240.7" rx="2.5" ry="2.3" fill="#2c587e"/><ellipse cx="111.2" cy="244.2" rx="2.7" ry="2.6" fill="#2c587e"/><ellipse cx="115.1" cy="244.7" rx="2.6" ry="2.5" fill="#2a449c"/><ellipse cx="120.5" cy="245.6" rx="2.6" ry="2.4" fill="#2a449c"/><ellipse cx="119.0" cy="248.6" rx="2.6" ry="2.2" fill="#2a449c"/><ellipse cx="108.2" cy="246.6" rx="2.6" ry="2.2" fill="#2a449c"/><ellipse cx="112.2" cy="249.6" rx="2.3" ry="2.2" fill="#2a449c"/><ellipse cx="76.9" cy="228.0" rx="2.4" ry="2.2" fill="#2a449c"/><ellipse cx="79.8" cy="226.5" rx="2.7" ry="2.6" fill="#2a449c"/><ellipse cx="77.4" cy="231.9" rx="2.5" ry="2.3" fill="#2c587e"/><ellipse cx="80.8" cy="231.9" rx="2.6" ry="2.5" fill="#2c587e"/><ellipse cx="84.7" cy="229.9" rx="2.4" ry="2.2" fill="#2c587e"/><circle cx="85.2" cy="232.9" r="3.6" fill="#6a2c1c"/><circle cx="85.2" cy="232.9" r="2.0" fill="#3a5a70"/><ellipse cx="88.1" cy="231.4" rx="2.5" ry="2.4" fill="#2c587e"/><ellipse cx="78.8" cy="237.8" rx="2.6" ry="2.4" fill="#2e36a2"/><ellipse cx="82.3" cy="239.7" rx="2.8" ry="2.7" fill="#2c587e"/><ellipse cx="84.7" cy="236.8" rx="2.6" ry="2.4" fill="#2c587e"/><ellipse cx="87.2" cy="240.7" rx="2.6" ry="2.4" fill="#2e36a2"/><ellipse cx="77.8" cy="243.7" rx="2.7" ry="2.5" fill="#2e36a2"/><ellipse cx="85.7" cy="245.1" rx="2.6" ry="2.4" fill="#2e36a2"/><ellipse cx="77.8" cy="249.1" rx="2.9" ry="2.7" fill="#2e36a2"/><ellipse cx="87.6" cy="248.6" rx="2.8" ry="2.8" fill="#2a449c"/><ellipse cx="93.5" cy="250.5" rx="2.5" ry="2.3" fill="#2c587e"/><ellipse cx="98.9" cy="252.5" rx="2.9" ry="2.8" fill="#2c587e"/><ellipse cx="103.3" cy="251.0" rx="2.4" ry="2.1" fill="#2a449c"/><ellipse cx="105.8" cy="254.0" rx="2.6" ry="2.2" fill="#2a449c"/><ellipse cx="109.7" cy="254.5" rx="2.4" ry="2.1" fill="#2a449c"/><ellipse cx="115.1" cy="255.9" rx="2.7" ry="2.6" fill="#2c587e"/><ellipse cx="76.9" cy="253.5" rx="2.8" ry="2.5" fill="#2a449c"/><ellipse cx="80.8" cy="253.0" rx="2.7" ry="2.6" fill="#2a449c"/><ellipse cx="84.2" cy="252.0" rx="2.4" ry="2.3" fill="#2c587e"/><ellipse cx="90.6" cy="254.5" rx="2.9" ry="2.5" fill="#2c587e"/><ellipse cx="95.5" cy="257.4" rx="2.9" ry="2.6" fill="#2a449c"/><ellipse cx="100.9" cy="256.4" rx="2.6" ry="2.6" fill="#2e36a2"/><ellipse cx="106.3" cy="257.4" rx="2.8" ry="2.4" fill="#2a449c"/><ellipse cx="112.2" cy="258.4" rx="2.6" ry="2.4" fill="#2a449c"/><ellipse cx="114.1" cy="261.8" rx="2.5" ry="2.2" fill="#2a449c"/><ellipse cx="100.4" cy="260.3" rx="2.5" ry="2.4" fill="#2c587e"/><ellipse cx="79.3" cy="262.8" rx="2.3" ry="2.2" fill="#2c587e"/><ellipse cx="82.7" cy="265.2" rx="2.6" ry="2.2" fill="#2a449c"/><ellipse cx="97.4" cy="264.3" rx="2.5" ry="2.4" fill="#2c587e"/><ellipse cx="91.4" cy="234.7" rx="2.6" ry="2.2" fill="#2c587e"/><ellipse cx="122.4" cy="237.7" rx="2.9" ry="2.8" fill="#2c587e"/></g></g>
<rect x="117.90" y="263.80" width="6.00" height="1.50" fill="#fff"/>
<rect x="74.90" y="285.30" width="50.50" height="50.20" fill="#060806"/>
<g clip-path="url(#tc11)"><g filter="url(#soft)"><ellipse cx="76.0" cy="288.0" rx="2.4" ry="2.1" fill="#2a449c"/><ellipse cx="82.8" cy="288.0" rx="2.6" ry="2.4" fill="#2a449c"/><ellipse cx="79.2" cy="294.5" rx="2.9" ry="2.5" fill="#223684"/><ellipse cx="77.5" cy="286.8" rx="2.5" ry="2.2" fill="#223684"/><ellipse cx="92.1" cy="286.2" rx="2.9" ry="2.5" fill="#2a449c"/><ellipse cx="92.0" cy="289.6" rx="2.3" ry="2.0" fill="#2a449c"/><ellipse cx="94.5" cy="291.7" rx="2.5" ry="2.5" fill="#223684"/><ellipse cx="85.8" cy="293.9" rx="2.8" ry="2.7" fill="#2a449c"/><ellipse cx="93.7" cy="289.9" rx="2.9" ry="2.9" fill="#2c587e"/><ellipse cx="104.5" cy="288.0" rx="2.5" ry="2.2" fill="#2a449c"/><ellipse cx="100.4" cy="287.7" rx="2.9" ry="2.8" fill="#2a449c"/><ellipse cx="96.7" cy="285.8" rx="2.3" ry="2.2" fill="#2a449c"/><ellipse cx="98.3" cy="288.4" rx="2.5" ry="2.3" fill="#223684"/><ellipse cx="98.0" cy="290.3" rx="2.5" ry="2.2" fill="#2a449c"/><ellipse cx="105.4" cy="287.8" rx="2.3" ry="2.1" fill="#2a449c"/><ellipse cx="112.6" cy="290.8" rx="2.5" ry="2.5" fill="#2a449c"/><ellipse cx="110.0" cy="294.7" rx="2.4" ry="2.4" fill="#2a449c"/><ellipse cx="113.5" cy="289.6" rx="2.4" ry="2.2" fill="#2c587e"/><ellipse cx="113.6" cy="289.2" rx="2.8" ry="2.7" fill="#2c587e"/><ellipse cx="125.2" cy="288.7" rx="2.6" ry="2.2" fill="#223684"/><ellipse cx="122.4" cy="291.7" rx="2.6" ry="2.3" fill="#2c587e"/><ellipse cx="118.8" cy="285.8" rx="2.9" ry="2.5" fill="#2a449c"/><ellipse cx="116.0" cy="292.7" rx="2.5" ry="2.5" fill="#2a449c"/><ellipse cx="75.8" cy="303.8" rx="2.3" ry="2.1" fill="#223684"/><ellipse cx="81.7" cy="298.2" rx="2.8" ry="2.7" fill="#2a449c"/><ellipse cx="77.9" cy="300.0" rx="2.3" ry="2.0" fill="#2a449c"/><ellipse cx="79.4" cy="298.0" rx="2.3" ry="2.3" fill="#2e36a2"/><ellipse cx="84.7" cy="300.8" rx="2.5" ry="2.4" fill="#2a449c"/><ellipse cx="88.1" cy="298.9" rx="2.8" ry="2.6" fill="#2a449c"/><ellipse cx="88.9" cy="300.1" rx="2.5" ry="2.4" fill="#2c587e"/><ellipse cx="87.0" cy="300.4" rx="2.7" ry="2.4" fill="#2a449c"/><ellipse cx="87.7" cy="296.2" rx="2.7" ry="2.5" fill="#2c587e"/><ellipse cx="95.3" cy="298.4" rx="2.5" ry="2.1" fill="#2a449c"/><ellipse cx="101.0" cy="300.7" rx="2.8" ry="2.7" fill="#44826c"/><ellipse cx="101.7" cy="302.5" rx="2.7" ry="2.7" fill="#223684"/><circle cx="99.0" cy="298.6" r="3.5" fill="#6a2c1c"/><circle cx="99.0" cy="298.6" r="1.9" fill="#3a5a70"/><ellipse cx="96.6" cy="302.6" rx="2.4" ry="2.2" fill="#44826c"/><ellipse cx="113.6" cy="304.3" rx="2.9" ry="2.9" fill="#44826c"/><ellipse cx="112.6" cy="303.5" rx="2.5" ry="2.2" fill="#2a449c"/><ellipse cx="110.5" cy="300.4" rx="2.6" ry="2.4" fill="#223684"/><ellipse cx="113.3" cy="303.6" rx="2.9" ry="2.5" fill="#44826c"/><ellipse cx="114.2" cy="302.2" rx="2.8" ry="2.7" fill="#44826c"/><ellipse cx="107.5" cy="295.7" rx="2.8" ry="2.7" fill="#2a449c"/><ellipse cx="116.4" cy="303.7" rx="2.7" ry="2.4" fill="#44826c"/><ellipse cx="121.6" cy="301.6" rx="2.5" ry="2.3" fill="#44826c"/><ellipse cx="120.2" cy="295.4" rx="2.8" ry="2.4" fill="#223684"/><ellipse cx="122.9" cy="300.4" rx="2.4" ry="2.3" fill="#44826c"/><ellipse cx="122.0" cy="296.0" rx="2.4" ry="2.1" fill="#44826c"/><ellipse cx="75.7" cy="308.0" rx="2.3" ry="2.2" fill="#44826c"/><ellipse cx="77.0" cy="312.8" rx="2.5" ry="2.5" fill="#2e36a2"/><ellipse cx="79.9" cy="309.2" rx="2.8" ry="2.8" fill="#2c587e"/><ellipse cx="81.8" cy="313.1" rx="2.5" ry="2.1" fill="#44826c"/><ellipse cx="81.4" cy="306.2" rx="2.4" ry="2.2" fill="#2a449c"/><ellipse cx="92.5" cy="308.4" rx="2.7" ry="2.5" fill="#44826c"/><ellipse cx="85.1" cy="306.0" rx="2.4" ry="2.2" fill="#2c587e"/><ellipse cx="91.8" cy="312.3" rx="2.7" ry="2.5" fill="#44826c"/><ellipse cx="87.9" cy="310.6" rx="2.7" ry="2.7" fill="#2c587e"/><ellipse cx="89.7" cy="306.6" rx="2.7" ry="2.3" fill="#223684"/><ellipse cx="105.0" cy="314.8" rx="2.8" ry="2.5" fill="#2a449c"/><ellipse cx="99.7" cy="313.6" rx="2.6" ry="2.4" fill="#2e36a2"/><ellipse cx="99.6" cy="308.1" rx="2.7" ry="2.4" fill="#2a449c"/><ellipse cx="104.7" cy="307.5" rx="2.4" ry="2.2" fill="#44826c"/><ellipse cx="96.5" cy="310.6" rx="2.4" ry="2.4" fill="#2e36a2"/><ellipse cx="113.5" cy="310.5" rx="2.6" ry="2.4" fill="#223684"/><ellipse cx="112.3" cy="307.7" rx="2.5" ry="2.5" fill="#223684"/><ellipse cx="110.1" cy="305.6" rx="2.6" ry="2.3" fill="#2a449c"/><ellipse cx="110.2" cy="309.9" rx="2.8" ry="2.6" fill="#2c587e"/><ellipse cx="106.6" cy="308.8" rx="2.9" ry="2.5" fill="#2c587e"/><ellipse cx="115.3" cy="312.9" rx="2.6" ry="2.5" fill="#223684"/><ellipse cx="116.5" cy="314.7" rx="2.8" ry="2.8" fill="#44826c"/><ellipse cx="124.4" cy="308.3" rx="2.3" ry="2.1" fill="#2c587e"/><ellipse cx="119.3" cy="315.4" rx="2.4" ry="2.1" fill="#44826c"/><ellipse cx="118.9" cy="309.7" rx="2.9" ry="2.7" fill="#2c587e"/><ellipse cx="75.9" cy="323.8" rx="2.9" ry="2.6" fill="#2c587e"/><ellipse cx="84.3" cy="317.9" rx="2.8" ry="2.6" fill="#2a449c"/><ellipse cx="80.1" cy="317.3" rx="2.5" ry="2.4" fill="#2c587e"/><ellipse cx="84.6" cy="324.3" rx="2.9" ry="2.5" fill="#223684"/><ellipse cx="81.3" cy="324.6" rx="2.7" ry="2.5" fill="#2e36a2"/><ellipse cx="92.3" cy="315.9" rx="2.4" ry="2.2" fill="#44826c"/><ellipse cx="89.6" cy="323.0" rx="2.4" ry="2.1" fill="#44826c"/><ellipse cx="87.9" cy="315.9" rx="2.5" ry="2.3" fill="#223684"/><ellipse cx="86.3" cy="320.2" rx="2.7" ry="2.4" fill="#2c587e"/><ellipse cx="88.0" cy="322.8" rx="2.3" ry="2.1" fill="#2e36a2"/><ellipse cx="101.7" cy="318.4" rx="2.7" ry="2.4" fill="#44826c"/><ellipse cx="99.1" cy="317.1" rx="2.5" ry="2.2" fill="#2a449c"/><ellipse cx="97.2" cy="324.5" rx="2.8" ry="2.6" fill="#2c587e"/><circle cx="97.3" cy="324.5" r="3.5" fill="#6a2c1c"/><circle cx="97.3" cy="324.5" r="1.9" fill="#3a5a70"/><ellipse cx="99.6" cy="316.8" rx="2.4" ry="2.1" fill="#2a449c"/><ellipse cx="108.7" cy="316.3" rx="2.6" ry="2.5" fill="#2a449c"/><ellipse cx="107.8" cy="321.1" rx="2.4" ry="2.1" fill="#223684"/><ellipse cx="112.8" cy="319.6" rx="2.7" ry="2.5" fill="#2c587e"/><ellipse cx="110.5" cy="319.2" rx="2.5" ry="2.2" fill="#2c587e"/><ellipse cx="105.8" cy="318.2" rx="2.9" ry="2.6" fill="#2e36a2"/><ellipse cx="120.4" cy="321.7" rx="2.6" ry="2.4" fill="#223684"/><ellipse cx="117.5" cy="318.1" rx="2.5" ry="2.5" fill="#2a449c"/><ellipse cx="119.3" cy="319.9" rx="2.9" ry="2.6" fill="#2e36a2"/><ellipse cx="123.9" cy="324.2" rx="2.4" ry="2.3" fill="#2a449c"/><ellipse cx="115.6" cy="322.5" rx="2.4" ry="2.1" fill="#223684"/><ellipse cx="80.8" cy="325.5" rx="2.8" ry="2.6" fill="#2c587e"/><ellipse cx="84.3" cy="333.7" rx="2.8" ry="2.5" fill="#223684"/><ellipse cx="84.7" cy="328.0" rx="2.8" ry="2.6" fill="#2a449c"/><ellipse cx="76.5" cy="330.7" rx="2.4" ry="2.0" fill="#44826c"/><ellipse cx="84.4" cy="332.7" rx="2.6" ry="2.5" fill="#44826c"/><ellipse cx="89.6" cy="331.0" rx="2.8" ry="2.5" fill="#2a449c"/><ellipse cx="92.9" cy="327.8" rx="2.7" ry="2.4" fill="#223684"/><ellipse cx="91.5" cy="328.5" rx="2.6" ry="2.3" fill="#2a449c"/><ellipse cx="87.5" cy="331.8" rx="2.5" ry="2.3" fill="#44826c"/><ellipse cx="95.8" cy="330.7" rx="2.9" ry="2.5" fill="#44826c"/><ellipse cx="99.0" cy="327.7" rx="2.6" ry="2.5" fill="#44826c"/><ellipse cx="95.2" cy="328.5" rx="2.9" ry="2.5" fill="#2c587e"/><ellipse cx="104.8" cy="331.9" rx="2.4" ry="2.4" fill="#223684"/><ellipse cx="99.9" cy="327.8" rx="2.9" ry="2.7" fill="#2a449c"/><ellipse cx="112.3" cy="328.5" rx="2.3" ry="2.3" fill="#2a449c"/><ellipse cx="110.2" cy="332.2" rx="2.5" ry="2.5" fill="#2c587e"/><ellipse cx="107.8" cy="332.2" rx="2.7" ry="2.6" fill="#223684"/><ellipse cx="107.5" cy="325.8" rx="2.4" ry="2.3" fill="#2c587e"/><ellipse cx="122.2" cy="327.4" rx="2.4" ry="2.2" fill="#223684"/><ellipse cx="122.8" cy="330.5" rx="2.8" ry="2.7" fill="#2a449c"/><ellipse cx="125.1" cy="328.6" rx="2.4" ry="2.1" fill="#223684"/><ellipse cx="117.6" cy="327.7" rx="2.5" ry="2.4" fill="#223684"/><ellipse cx="118.3" cy="335.0" rx="2.5" ry="2.2" fill="#2c587e"/></g></g>
<rect x="117.90" y="331.90" width="6.00" height="1.50" fill="#fff"/>
<rect x="129.40" y="217.20" width="50.50" height="50.20" fill="#040804"/>
<g clip-path="url(#tc20)"><g filter="url(#soft)"><ellipse cx="150.0" cy="222.8" rx="2.5" ry="2.3" fill="#44826c"/><ellipse cx="168.2" cy="218.4" rx="2.9" ry="2.7" fill="#2c587e"/><ellipse cx="165.3" cy="223.5" rx="2.8" ry="2.6" fill="#2c587e"/><ellipse cx="163.9" cy="223.0" rx="2.3" ry="2.1" fill="#2c587e"/><ellipse cx="166.4" cy="221.7" rx="2.6" ry="2.5" fill="#2c587e"/><ellipse cx="159.9" cy="223.4" rx="2.5" ry="2.4" fill="#2c587e"/><ellipse cx="177.5" cy="225.0" rx="2.6" ry="2.3" fill="#2c587e"/><ellipse cx="171.6" cy="222.0" rx="2.8" ry="2.4" fill="#2a449c"/><ellipse cx="171.1" cy="221.5" rx="2.8" ry="2.4" fill="#2a449c"/><ellipse cx="134.6" cy="227.6" rx="2.3" ry="2.0" fill="#44826c"/><ellipse cx="146.9" cy="235.0" rx="2.8" ry="2.7" fill="#2c587e"/><ellipse cx="140.0" cy="232.3" rx="2.3" ry="2.1" fill="#2c587e"/><circle cx="151.0" cy="235.8" r="3.8" fill="#6a2c1c"/><circle cx="151.0" cy="235.8" r="2.2" fill="#3a5a70"/><ellipse cx="157.0" cy="235.4" rx="2.8" ry="2.4" fill="#2a449c"/><ellipse cx="159.5" cy="232.2" rx="2.6" ry="2.3" fill="#223684"/><ellipse cx="158.9" cy="228.9" rx="2.8" ry="2.5" fill="#44826c"/><ellipse cx="160.4" cy="230.8" rx="2.9" ry="2.6" fill="#44826c"/><ellipse cx="161.3" cy="236.2" rx="2.4" ry="2.3" fill="#2c587e"/><ellipse cx="167.9" cy="228.7" rx="2.6" ry="2.3" fill="#2c587e"/><ellipse cx="169.0" cy="229.3" rx="2.7" ry="2.3" fill="#2a449c"/><ellipse cx="173.0" cy="227.6" rx="2.8" ry="2.6" fill="#2a449c"/><ellipse cx="171.4" cy="236.6" rx="2.8" ry="2.6" fill="#44826c"/><ellipse cx="178.8" cy="228.9" rx="2.5" ry="2.3" fill="#44826c"/><ellipse cx="171.0" cy="232.6" rx="2.5" ry="2.5" fill="#44826c"/><ellipse cx="173.4" cy="236.0" rx="2.4" ry="2.3" fill="#2c587e"/><circle cx="138.3" cy="238.3" r="3.5" fill="#6a2c1c"/><circle cx="138.3" cy="238.3" r="1.9" fill="#3a5a70"/><ellipse cx="135.8" cy="241.2" rx="2.4" ry="2.2" fill="#223684"/><ellipse cx="132.1" cy="247.2" rx="2.8" ry="2.6" fill="#2c587e"/><ellipse cx="147.2" cy="241.7" rx="2.5" ry="2.5" fill="#2a449c"/><ellipse cx="147.0" cy="237.8" rx="2.4" ry="2.2" fill="#223684"/><circle cx="142.1" cy="243.7" r="3.8" fill="#6a2c1c"/><circle cx="142.1" cy="243.7" r="2.2" fill="#3a5a70"/><ellipse cx="145.4" cy="243.9" rx="2.8" ry="2.7" fill="#2c587e"/><ellipse cx="149.9" cy="238.8" rx="2.7" ry="2.4" fill="#44826c"/><ellipse cx="154.0" cy="242.4" rx="2.5" ry="2.2" fill="#223684"/><ellipse cx="150.9" cy="239.6" rx="2.8" ry="2.7" fill="#44826c"/><ellipse cx="149.8" cy="237.3" rx="2.7" ry="2.4" fill="#2c587e"/><ellipse cx="150.7" cy="240.9" rx="2.6" ry="2.5" fill="#2a449c"/><ellipse cx="165.6" cy="239.3" rx="2.6" ry="2.3" fill="#44826c"/><ellipse cx="164.5" cy="238.6" rx="2.6" ry="2.5" fill="#223684"/><ellipse cx="162.2" cy="238.8" rx="2.4" ry="2.1" fill="#2a449c"/><ellipse cx="166.1" cy="246.0" rx="2.5" ry="2.4" fill="#44826c"/><ellipse cx="172.5" cy="237.4" rx="2.8" ry="2.5" fill="#44826c"/><ellipse cx="175.5" cy="240.8" rx="2.4" ry="2.1" fill="#44826c"/><ellipse cx="174.3" cy="246.7" rx="2.5" ry="2.3" fill="#44826c"/><ellipse cx="172.3" cy="246.4" rx="2.4" ry="2.2" fill="#2a449c"/><ellipse cx="133.5" cy="249.7" rx="2.4" ry="2.4" fill="#2a449c"/><ellipse cx="137.3" cy="247.4" rx="2.7" ry="2.4" fill="#2c587e"/><ellipse cx="138.9" cy="248.7" rx="2.9" ry="2.5" fill="#2a449c"/><ellipse cx="135.5" cy="252.4" rx="2.5" ry="2.5" fill="#44826c"/><ellipse cx="141.3" cy="250.4" rx="2.8" ry="2.7" fill="#2c587e"/><ellipse cx="140.0" cy="256.2" rx="2.6" ry="2.3" fill="#44826c"/><ellipse cx="146.7" cy="247.4" rx="2.7" ry="2.3" fill="#223684"/><ellipse cx="154.3" cy="254.8" rx="2.4" ry="2.2" fill="#2c587e"/><ellipse cx="151.9" cy="248.4" rx="2.3" ry="2.1" fill="#2a449c"/><ellipse cx="150.0" cy="250.7" rx="2.8" ry="2.6" fill="#44826c"/><ellipse cx="156.6" cy="255.8" rx="2.6" ry="2.5" fill="#44826c"/><ellipse cx="165.3" cy="251.7" rx="2.6" ry="2.2" fill="#44826c"/><ellipse cx="165.0" cy="250.0" rx="2.7" ry="2.4" fill="#44826c"/><ellipse cx="169.4" cy="249.5" rx="2.7" ry="2.7" fill="#223684"/><ellipse cx="159.9" cy="249.9" rx="2.6" ry="2.4" fill="#2a449c"/><ellipse cx="167.2" cy="256.8" rx="2.7" ry="2.5" fill="#44826c"/><ellipse cx="178.7" cy="250.6" rx="2.4" ry="2.3" fill="#2a449c"/><ellipse cx="179.0" cy="253.7" rx="2.8" ry="2.7" fill="#44826c"/><ellipse cx="176.5" cy="257.1" rx="2.7" ry="2.7" fill="#2c587e"/><ellipse cx="178.3" cy="254.3" rx="2.7" ry="2.6" fill="#223684"/><ellipse cx="136.7" cy="263.1" rx="2.6" ry="2.3" fill="#2c587e"/><ellipse cx="131.5" cy="263.6" rx="2.7" ry="2.3" fill="#2a449c"/><ellipse cx="141.0" cy="257.6" rx="2.6" ry="2.5" fill="#2a449c"/><ellipse cx="148.9" cy="260.8" rx="2.7" ry="2.6" fill="#2a449c"/><ellipse cx="139.8" cy="257.8" rx="2.5" ry="2.2" fill="#44826c"/><ellipse cx="156.6" cy="264.8" rx="2.6" ry="2.4" fill="#2a449c"/><ellipse cx="155.6" cy="261.0" rx="2.5" ry="2.4" fill="#223684"/><ellipse cx="157.9" cy="266.3" rx="2.9" ry="2.5" fill="#2a449c"/><ellipse cx="158.4" cy="266.5" rx="2.7" ry="2.6" fill="#223684"/><ellipse cx="161.8" cy="258.5" rx="2.5" ry="2.3" fill="#2a449c"/><ellipse cx="168.3" cy="265.5" rx="2.9" ry="2.5" fill="#44826c"/><ellipse cx="168.0" cy="263.7" rx="2.6" ry="2.3" fill="#2c587e"/><ellipse cx="170.8" cy="265.0" rx="2.8" ry="2.7" fill="#2a449c"/><ellipse cx="173.0" cy="261.6" rx="2.6" ry="2.3" fill="#2a449c"/><ellipse cx="172.4" cy="260.2" rx="2.6" ry="2.5" fill="#44826c"/></g></g>
<rect x="172.40" y="263.80" width="6.00" height="1.50" fill="#fff"/>
<rect x="129.40" y="285.30" width="50.50" height="50.20" fill="#0e1238"/>
<g clip-path="url(#tc21)"><g filter="url(#soft)"><ellipse cx="134.6" cy="291.7" rx="2.4" ry="2.1" fill="#223684"/><ellipse cx="134.7" cy="289.4" rx="2.3" ry="2.1" fill="#223684"/><ellipse cx="131.5" cy="292.2" rx="2.8" ry="2.8" fill="#2a36a4"/><ellipse cx="137.1" cy="286.5" rx="2.8" ry="2.4" fill="#223684"/><ellipse cx="133.0" cy="285.9" rx="2.4" ry="2.3" fill="#2a36a4"/><ellipse cx="133.4" cy="285.4" rx="2.2" ry="2.1" fill="#2a36a4"/><ellipse cx="146.6" cy="288.8" rx="2.4" ry="2.4" fill="#2a36a4"/><ellipse cx="141.8" cy="292.7" rx="2.2" ry="2.1" fill="#223684"/><ellipse cx="144.8" cy="287.5" rx="2.4" ry="2.1" fill="#223684"/><ellipse cx="143.5" cy="287.4" rx="2.2" ry="2.1" fill="#2a36a4"/><ellipse cx="147.3" cy="293.4" rx="2.5" ry="2.2" fill="#2e36a2"/><ellipse cx="144.2" cy="290.9" rx="2.5" ry="2.4" fill="#2a36a4"/><ellipse cx="149.2" cy="288.8" rx="2.3" ry="2.2" fill="#2e36a2"/><ellipse cx="157.8" cy="290.0" rx="2.3" ry="2.0" fill="#2a36a4"/><ellipse cx="155.1" cy="286.6" rx="2.7" ry="2.5" fill="#223684"/><ellipse cx="153.2" cy="293.8" rx="2.3" ry="2.0" fill="#2a36a4"/><ellipse cx="153.4" cy="287.8" rx="2.3" ry="2.1" fill="#2a36a4"/><ellipse cx="151.5" cy="285.3" rx="2.5" ry="2.2" fill="#2e36a2"/><ellipse cx="152.4" cy="287.8" rx="2.3" ry="2.2" fill="#2a36a4"/><ellipse cx="164.0" cy="291.7" rx="2.6" ry="2.6" fill="#2e36a2"/><ellipse cx="163.4" cy="294.6" rx="2.5" ry="2.2" fill="#223684"/><ellipse cx="160.3" cy="293.6" rx="2.2" ry="2.1" fill="#223684"/><ellipse cx="167.6" cy="286.7" rx="2.4" ry="2.3" fill="#223684"/><ellipse cx="170.0" cy="285.4" rx="2.2" ry="2.2" fill="#223684"/><ellipse cx="176.4" cy="287.8" rx="2.4" ry="2.3" fill="#2a36a4"/><ellipse cx="171.2" cy="287.6" rx="2.7" ry="2.5" fill="#2e36a2"/><ellipse cx="130.9" cy="304.4" rx="2.2" ry="2.2" fill="#2e36a2"/><ellipse cx="131.1" cy="304.3" rx="2.5" ry="2.4" fill="#2e36a2"/><ellipse cx="137.3" cy="302.1" rx="2.4" ry="2.1" fill="#223684"/><ellipse cx="137.4" cy="303.8" rx="2.7" ry="2.4" fill="#2a36a4"/><ellipse cx="136.4" cy="300.7" rx="2.3" ry="2.1" fill="#2e36a2"/><ellipse cx="133.8" cy="304.2" rx="2.6" ry="2.2" fill="#2e36a2"/><ellipse cx="132.1" cy="297.7" rx="2.5" ry="2.3" fill="#2a36a4"/><ellipse cx="140.1" cy="300.0" rx="2.5" ry="2.2" fill="#2a36a4"/><ellipse cx="144.5" cy="300.3" rx="2.6" ry="2.6" fill="#2e36a2"/><ellipse cx="148.2" cy="295.4" rx="2.7" ry="2.4" fill="#223684"/><ellipse cx="144.2" cy="301.0" rx="2.6" ry="2.4" fill="#2e36a2"/><ellipse cx="148.0" cy="299.1" rx="2.7" ry="2.3" fill="#2a36a4"/><ellipse cx="149.2" cy="296.1" rx="2.7" ry="2.7" fill="#2e36a2"/><ellipse cx="149.9" cy="301.5" rx="2.5" ry="2.3" fill="#2e36a2"/><ellipse cx="159.0" cy="298.7" rx="2.5" ry="2.3" fill="#223684"/><ellipse cx="154.8" cy="300.2" rx="2.2" ry="2.2" fill="#223684"/><ellipse cx="149.9" cy="302.6" rx="2.3" ry="2.0" fill="#2e36a2"/><ellipse cx="153.0" cy="304.0" rx="2.3" ry="2.0" fill="#2a36a4"/><ellipse cx="154.4" cy="300.6" rx="2.7" ry="2.3" fill="#2e36a2"/><ellipse cx="164.1" cy="299.6" rx="2.3" ry="2.2" fill="#2e36a2"/><ellipse cx="168.0" cy="298.3" rx="2.3" ry="2.0" fill="#223684"/><ellipse cx="163.8" cy="300.4" rx="2.6" ry="2.4" fill="#2a36a4"/><ellipse cx="164.8" cy="305.1" rx="2.5" ry="2.4" fill="#2e36a2"/><ellipse cx="167.7" cy="298.7" rx="2.3" ry="2.2" fill="#2a36a4"/><ellipse cx="175.7" cy="301.7" rx="2.6" ry="2.3" fill="#2e36a2"/><ellipse cx="170.2" cy="302.6" rx="2.3" ry="2.1" fill="#223684"/><ellipse cx="175.3" cy="295.8" rx="2.5" ry="2.2" fill="#2a36a4"/><ellipse cx="131.3" cy="314.6" rx="2.3" ry="2.1" fill="#2e36a2"/><ellipse cx="136.0" cy="313.3" rx="2.3" ry="2.1" fill="#223684"/><ellipse cx="135.6" cy="311.6" rx="2.7" ry="2.4" fill="#2e36a2"/><ellipse cx="136.4" cy="311.4" rx="2.5" ry="2.4" fill="#2e36a2"/><ellipse cx="131.5" cy="312.1" rx="2.3" ry="2.2" fill="#2a36a4"/><ellipse cx="137.1" cy="306.4" rx="2.8" ry="2.5" fill="#2a36a4"/><ellipse cx="129.8" cy="313.2" rx="2.5" ry="2.4" fill="#223684"/><ellipse cx="143.2" cy="313.6" rx="2.5" ry="2.3" fill="#2e36a2"/><ellipse cx="145.2" cy="308.0" rx="2.8" ry="2.7" fill="#2a36a4"/><ellipse cx="143.8" cy="308.6" rx="2.4" ry="2.1" fill="#2a36a4"/><ellipse cx="146.0" cy="314.8" rx="2.4" ry="2.2" fill="#2a36a4"/><ellipse cx="145.2" cy="305.8" rx="2.8" ry="2.7" fill="#2a36a4"/><ellipse cx="147.7" cy="311.2" rx="2.7" ry="2.7" fill="#223684"/><ellipse cx="149.7" cy="309.3" rx="2.7" ry="2.3" fill="#2e36a2"/><ellipse cx="159.1" cy="315.2" rx="2.5" ry="2.5" fill="#2a36a4"/><ellipse cx="153.8" cy="306.4" rx="2.8" ry="2.4" fill="#2e36a2"/><ellipse cx="151.7" cy="306.9" rx="2.5" ry="2.3" fill="#2a36a4"/><ellipse cx="149.6" cy="312.2" rx="2.4" ry="2.2" fill="#2a36a4"/><ellipse cx="159.4" cy="306.3" rx="2.2" ry="2.1" fill="#223684"/><ellipse cx="159.9" cy="312.6" rx="2.5" ry="2.1" fill="#2a36a4"/><ellipse cx="167.1" cy="307.3" rx="2.3" ry="2.3" fill="#2a36a4"/><ellipse cx="167.5" cy="312.5" rx="2.7" ry="2.6" fill="#223684"/><ellipse cx="167.1" cy="306.2" rx="2.6" ry="2.5" fill="#2e36a2"/><ellipse cx="166.9" cy="310.0" rx="2.7" ry="2.7" fill="#223684"/><ellipse cx="162.3" cy="315.1" rx="2.2" ry="2.1" fill="#2e36a2"/><ellipse cx="159.8" cy="305.5" rx="2.4" ry="2.2" fill="#2e36a2"/><ellipse cx="170.6" cy="308.5" rx="2.4" ry="2.2" fill="#2e36a2"/><ellipse cx="171.5" cy="314.0" rx="2.8" ry="2.6" fill="#2a36a4"/><ellipse cx="170.4" cy="309.1" rx="2.4" ry="2.2" fill="#2e36a2"/><ellipse cx="174.2" cy="312.2" rx="2.5" ry="2.4" fill="#2a36a4"/><ellipse cx="133.1" cy="321.9" rx="2.4" ry="2.1" fill="#2e36a2"/><ellipse cx="133.6" cy="319.3" rx="2.6" ry="2.2" fill="#2e36a2"/><ellipse cx="138.9" cy="323.3" rx="2.6" ry="2.5" fill="#2e36a2"/><ellipse cx="132.4" cy="316.0" rx="2.5" ry="2.2" fill="#223684"/><ellipse cx="136.5" cy="323.7" rx="2.5" ry="2.3" fill="#2a36a4"/><ellipse cx="135.5" cy="325.2" rx="2.3" ry="2.0" fill="#223684"/><ellipse cx="142.6" cy="319.7" rx="2.3" ry="2.0" fill="#223684"/><ellipse cx="143.3" cy="322.3" rx="2.4" ry="2.2" fill="#2e36a2"/><ellipse cx="148.6" cy="323.5" rx="2.3" ry="2.0" fill="#2a36a4"/><ellipse cx="139.5" cy="318.1" rx="2.5" ry="2.5" fill="#2a36a4"/><ellipse cx="145.4" cy="323.6" rx="2.6" ry="2.4" fill="#223684"/><ellipse cx="139.9" cy="323.8" rx="2.6" ry="2.3" fill="#223684"/><ellipse cx="155.4" cy="318.2" rx="2.6" ry="2.4" fill="#223684"/><ellipse cx="157.8" cy="322.3" rx="2.5" ry="2.4" fill="#223684"/><ellipse cx="153.1" cy="316.3" rx="2.5" ry="2.2" fill="#2e36a2"/><ellipse cx="157.7" cy="317.4" rx="2.3" ry="2.1" fill="#2e36a2"/><ellipse cx="159.0" cy="317.8" rx="2.5" ry="2.3" fill="#2e36a2"/><ellipse cx="156.4" cy="320.1" rx="2.6" ry="2.2" fill="#2a36a4"/><ellipse cx="167.3" cy="323.4" rx="2.4" ry="2.4" fill="#2a36a4"/><ellipse cx="160.6" cy="323.5" rx="2.3" ry="2.2" fill="#2e36a2"/><ellipse cx="162.1" cy="321.2" rx="2.5" ry="2.2" fill="#223684"/><ellipse cx="168.6" cy="320.7" rx="2.8" ry="2.5" fill="#2a36a4"/><ellipse cx="165.7" cy="317.3" rx="2.7" ry="2.3" fill="#2a36a4"/><ellipse cx="161.5" cy="322.5" rx="2.2" ry="2.2" fill="#2a36a4"/><ellipse cx="165.4" cy="319.5" rx="2.5" ry="2.1" fill="#2e36a2"/><ellipse cx="170.3" cy="325.4" rx="2.4" ry="2.2" fill="#2a36a4"/><ellipse cx="170.9" cy="321.8" rx="2.6" ry="2.3" fill="#2e36a2"/><ellipse cx="171.4" cy="321.4" rx="2.3" ry="2.3" fill="#2a36a4"/><ellipse cx="175.0" cy="315.6" rx="2.6" ry="2.3" fill="#2a36a4"/><ellipse cx="179.8" cy="324.1" rx="2.4" ry="2.2" fill="#2a36a4"/><ellipse cx="175.5" cy="318.0" rx="2.6" ry="2.5" fill="#2e36a2"/><ellipse cx="139.0" cy="333.2" rx="2.7" ry="2.6" fill="#223684"/><ellipse cx="139.1" cy="328.0" rx="2.5" ry="2.4" fill="#2a36a4"/><ellipse cx="131.4" cy="327.3" rx="2.6" ry="2.6" fill="#2a36a4"/><ellipse cx="129.9" cy="331.1" rx="2.5" ry="2.4" fill="#223684"/><ellipse cx="134.0" cy="335.0" rx="2.6" ry="2.6" fill="#223684"/><ellipse cx="130.0" cy="331.5" rx="2.3" ry="2.2" fill="#2a36a4"/><ellipse cx="130.6" cy="335.1" rx="2.2" ry="2.1" fill="#2a36a4"/><ellipse cx="146.0" cy="335.1" rx="2.6" ry="2.4" fill="#2e36a2"/><ellipse cx="143.5" cy="330.0" rx="2.8" ry="2.6" fill="#2a36a4"/><ellipse cx="149.3" cy="335.4" rx="2.5" ry="2.4" fill="#2a36a4"/><ellipse cx="139.9" cy="328.0" rx="2.7" ry="2.6" fill="#2a36a4"/><ellipse cx="148.6" cy="334.5" rx="2.4" ry="2.2" fill="#223684"/><ellipse cx="140.0" cy="333.4" rx="2.5" ry="2.4" fill="#2e36a2"/><ellipse cx="159.6" cy="326.0" rx="2.4" ry="2.2" fill="#2a36a4"/><ellipse cx="157.2" cy="334.9" rx="2.5" ry="2.3" fill="#2e36a2"/><ellipse cx="152.6" cy="331.4" rx="2.4" ry="2.3" fill="#2e36a2"/><ellipse cx="150.7" cy="328.7" rx="2.7" ry="2.5" fill="#2a36a4"/><ellipse cx="150.9" cy="330.3" rx="2.5" ry="2.2" fill="#2a36a4"/><ellipse cx="152.0" cy="326.9" rx="2.4" ry="2.1" fill="#2e36a2"/><ellipse cx="166.9" cy="327.4" rx="2.5" ry="2.4" fill="#2a36a4"/><ellipse cx="169.1" cy="327.7" rx="2.3" ry="2.2" fill="#223684"/><ellipse cx="168.5" cy="334.4" rx="2.4" ry="2.3" fill="#2a36a4"/><ellipse cx="164.2" cy="326.4" rx="2.7" ry="2.7" fill="#223684"/><ellipse cx="168.2" cy="331.8" rx="2.3" ry="2.1" fill="#2a36a4"/><ellipse cx="163.1" cy="333.7" rx="2.7" ry="2.3" fill="#2a36a4"/><ellipse cx="166.0" cy="326.9" rx="2.2" ry="2.1" fill="#2a36a4"/><ellipse cx="177.0" cy="331.0" rx="2.5" ry="2.5" fill="#2a36a4"/><ellipse cx="178.6" cy="328.1" rx="2.7" ry="2.5" fill="#2a36a4"/><ellipse cx="171.4" cy="328.2" rx="2.8" ry="2.6" fill="#223684"/><ellipse cx="173.2" cy="327.1" rx="2.5" ry="2.4" fill="#2a36a4"/><ellipse cx="173.0" cy="334.5" rx="2.4" ry="2.2" fill="#2a36a4"/><ellipse cx="179.7" cy="326.0" rx="2.6" ry="2.3" fill="#223684"/><ellipse cx="176.5" cy="327.6" rx="2.8" ry="2.6" fill="#2a36a4"/></g></g>
<rect x="172.40" y="331.90" width="6.00" height="1.50" fill="#fff"/>
<text x="287.30" y="199.30" font-size="8.2" fill="#111" stroke="#111" stroke-width="0.16" text-anchor="middle" textLength="21.60" lengthAdjust="spacingAndGlyphs">ΔTAD</text>
<text x="287.30" y="209.40" font-size="8.2" fill="#111" stroke="#111" stroke-width="0.16" text-anchor="middle" textLength="29.10" lengthAdjust="spacingAndGlyphs">+ NRas</text>
<text x="355.00" y="199.30" font-size="8.2" fill="#111" stroke="#111" stroke-width="0.16" text-anchor="middle" textLength="19.40" lengthAdjust="spacingAndGlyphs">ΔPro</text>
<text x="355.00" y="209.40" font-size="8.2" fill="#111" stroke="#111" stroke-width="0.16" text-anchor="middle" textLength="29.10" lengthAdjust="spacingAndGlyphs">+ NRas</text>
<text x="422.80" y="199.30" font-size="8.2" fill="#111" stroke="#111" stroke-width="0.16" text-anchor="middle" textLength="58.30" lengthAdjust="spacingAndGlyphs">ΔHelix-LZip-Pro</text>
<text x="422.80" y="209.40" font-size="8.2" fill="#111" stroke="#111" stroke-width="0.16" text-anchor="middle" textLength="29.10" lengthAdjust="spacingAndGlyphs">+ NRas</text>
<text x="253.80" y="247.20" font-size="8.2" fill="#111" stroke="#111" stroke-width="0.16" text-anchor="end" textLength="17.50" lengthAdjust="spacingAndGlyphs">Liver</text>
<text x="253.80" y="311.90" font-size="8.2" fill="#111" stroke="#111" stroke-width="0.16" text-anchor="end" textLength="25.80" lengthAdjust="spacingAndGlyphs">Spleen</text>
<g clip-path="url(#hd00)"><rect x="255.30" y="210.80" width="63.9" height="64.0" fill="#b898c4"/><ellipse cx="279.3" cy="242.8" rx="20" ry="22" fill="#6c58ac" opacity="0.75" filter="url(#blob)"/><ellipse cx="267.3" cy="224.8" rx="10" ry="9" fill="#6c58ac" opacity="0.5" filter="url(#blob)"/><ellipse cx="289.3" cy="264.8" rx="18" ry="10" fill="#6c58ac" opacity="0.6" filter="url(#blob)"/><ellipse cx="295.3" cy="238.8" rx="10" ry="14" fill="#6c58ac" opacity="0.4" filter="url(#blob)"/><ellipse cx="311.3" cy="222.8" rx="12" ry="14" fill="#dcc2e0" opacity="0.55" filter="url(#blob)"/><ellipse cx="315.3" cy="256.8" rx="8" ry="16" fill="#dcc2e0" opacity="0.45" filter="url(#blob)"/><ellipse cx="259.3" cy="214.8" rx="6" ry="6" fill="#dcc2e0" opacity="0.3" filter="url(#blob)"/><rect x="255.30" y="210.80" width="63.9" height="64.0" fill="#000" filter="url(#hz0)" opacity="0.45"/><rect x="255.30" y="210.80" width="63.9" height="64.0" fill="#000" filter="url(#hx0)"/><rect x="255.30" y="210.80" width="63.9" height="64.0" fill="#000" filter="url(#hy0)"/><path d="M255.3 245.0 C258.5 243.8 263.5 243.2 267.8 244.6 C266 250.5 262.5 257.5 258.3 262.8 L255.3 264.6 Z" fill="#fbf8fc" opacity="0.95" filter="url(#wblur)"/></g>
<rect x="290.30" y="271.50" width="27.20" height="1.80" fill="#333"/>
<g clip-path="url(#hd10)"><rect x="323.00" y="210.80" width="63.9" height="64.0" fill="#c2a0c6"/><ellipse cx="355.0" cy="246.8" rx="14" ry="16" fill="#6c58ac" opacity="0.55" filter="url(#blob)"/><ellipse cx="349.0" cy="230.8" rx="8" ry="8" fill="#6c58ac" opacity="0.3" filter="url(#blob)"/><ellipse cx="331.0" cy="222.8" rx="12" ry="14" fill="#dcc2e0" opacity="0.35" filter="url(#blob)"/><ellipse cx="379.0" cy="266.8" rx="10" ry="10" fill="#dcc2e0" opacity="0.3" filter="url(#blob)"/><ellipse cx="379.0" cy="224.8" rx="10" ry="12" fill="#dcc2e0" opacity="0.25" filter="url(#blob)"/><rect x="323.00" y="210.80" width="63.9" height="64.0" fill="#000" filter="url(#hz1)" opacity="0.45"/><rect x="323.00" y="210.80" width="63.9" height="64.0" fill="#000" filter="url(#hx1)"/><rect x="323.00" y="210.80" width="63.9" height="64.0" fill="#000" filter="url(#hy1)"/><path d="M345.5 223.5 C346.5 221.5 350.5 221 352.5 222.5 C353.5 226 352.5 231 350 233.5 C347.8 232 346 228 345.5 223.5 Z" fill="#fbf8fc" opacity="0.97" filter="url(#wblur)"/><path d="M355 249 C357 246 361.5 245.5 364 247.5 C366 251 365.5 257 363 261 C361 264 359.5 266 358.3 268 C357.6 269.5 357 270.5 356.3 271 C356 269 356.5 266 356.5 262 C355.5 258 353.5 253 355 249 Z" fill="#fbf8fc" opacity="0.95" filter="url(#wblur)"/></g>
<rect x="358.00" y="271.50" width="27.20" height="1.80" fill="#333"/>
<g clip-path="url(#hd20)"><rect x="390.80" y="210.80" width="63.9" height="64.0" fill="#caa8ca"/><ellipse cx="420.8" cy="225.8" rx="6" ry="5" fill="#6c58ac" opacity="0.3" filter="url(#blob)"/><ellipse cx="422.8" cy="250.8" rx="26" ry="20" fill="#dcc2e0" opacity="0.15" filter="url(#blob)"/><rect x="390.80" y="210.80" width="63.9" height="64.0" fill="#000" filter="url(#hz2)" opacity="0.45"/><rect x="390.80" y="210.80" width="63.9" height="64.0" fill="#000" filter="url(#hx2)"/><rect x="390.80" y="210.80" width="63.9" height="64.0" fill="#000" filter="url(#hy2)"/><path d="M399.2 274 m-1.6 0 a1.6 1.6 0 1 0 3.2 0 a1.6 1.6 0 1 0 -3.2 0 Z" fill="#fbf8fc" opacity="0.9" filter="url(#wblur)"/></g>
<rect x="425.80" y="271.50" width="27.20" height="1.80" fill="#333"/>
<g clip-path="url(#hd01)"><rect x="255.30" y="278.90" width="63.9" height="64.0" fill="#b294c2"/><ellipse cx="269.3" cy="292.9" rx="18" ry="16" fill="#6c58ac" opacity="0.45" filter="url(#blob)"/><ellipse cx="301.3" cy="324.9" rx="18" ry="16" fill="#6c58ac" opacity="0.35" filter="url(#blob)"/><ellipse cx="305.3" cy="288.9" rx="10" ry="8" fill="#6c58ac" opacity="0.3" filter="url(#blob)"/><ellipse cx="295.3" cy="300.9" rx="14" ry="12" fill="#dcc2e0" opacity="0.25" filter="url(#blob)"/><ellipse cx="275.3" cy="328.9" rx="12" ry="10" fill="#dcc2e0" opacity="0.2" filter="url(#blob)"/><rect x="255.30" y="278.90" width="63.9" height="64.0" fill="#000" filter="url(#hz3)" opacity="0.45"/><rect x="255.30" y="278.90" width="63.9" height="64.0" fill="#000" filter="url(#hx3)"/><rect x="255.30" y="278.90" width="63.9" height="64.0" fill="#000" filter="url(#hy3)"/></g>
<rect x="290.30" y="339.60" width="27.20" height="1.80" fill="#333"/>
<g clip-path="url(#hd11)"><rect x="323.00" y="278.90" width="63.9" height="64.0" fill="#be9ec6"/><ellipse cx="381.0" cy="286.9" rx="8" ry="8" fill="#6c58ac" opacity="0.35" filter="url(#blob)"/><ellipse cx="333.0" cy="328.9" rx="12" ry="12" fill="#6c58ac" opacity="0.25" filter="url(#blob)"/><ellipse cx="353.0" cy="318.9" rx="22" ry="20" fill="#dcc2e0" opacity="0.3" filter="url(#blob)"/><rect x="323.00" y="278.90" width="63.9" height="64.0" fill="#000" filter="url(#hz4)" opacity="0.45"/><rect x="323.00" y="278.90" width="63.9" height="64.0" fill="#000" filter="url(#hx4)"/><rect x="323.00" y="278.90" width="63.9" height="64.0" fill="#000" filter="url(#hy4)"/></g>
<rect x="358.00" y="339.60" width="27.20" height="1.80" fill="#333"/>
<g clip-path="url(#hd21)"><rect x="390.80" y="278.90" width="63.9" height="64.0" fill="#ae90c0"/><ellipse cx="414.8" cy="314.9" rx="24" ry="22" fill="#6c58ac" opacity="0.6" filter="url(#blob)"/><ellipse cx="402.8" cy="298.9" rx="12" ry="12" fill="#6c58ac" opacity="0.4" filter="url(#blob)"/><ellipse cx="430.8" cy="336.9" rx="18" ry="8" fill="#6c58ac" opacity="0.4" filter="url(#blob)"/><ellipse cx="446.8" cy="286.9" rx="10" ry="10" fill="#dcc2e0" opacity="0.3" filter="url(#blob)"/><ellipse cx="448.8" cy="334.9" rx="8" ry="8" fill="#dcc2e0" opacity="0.2" filter="url(#blob)"/><rect x="390.80" y="278.90" width="63.9" height="64.0" fill="#000" filter="url(#hz5)" opacity="0.45"/><rect x="390.80" y="278.90" width="63.9" height="64.0" fill="#000" filter="url(#hx5)"/><rect x="390.80" y="278.90" width="63.9" height="64.0" fill="#000" filter="url(#hy5)"/></g>
<rect x="425.80" y="339.60" width="27.20" height="1.80" fill="#333"/>
<g clip-path="url(#pc0)">
<path d="M133.9 542.3 L133.9 455 C135.5 451 139.5 452 141.5 452 C144.5 451 146 452 148.2 456 L149.6 480 L151.4 505 L153.1 480 L154.6 458 C155.5 448 156.5 440 158.5 436.5 C160.5 434 164.5 434.5 166.5 437.5 L168.2 440 L168.2 542.3 Z" fill="#f8e5c6"/>
<g fill="none" stroke="#f6dfbb" stroke-width="0.9" filter="url(#pblur)"><circle cx="140.9" cy="457.6" r="2.3"/><circle cx="146.6" cy="456.7" r="2.3"/><circle cx="141.6" cy="457.9" r="2.3"/><circle cx="137.7" cy="457.1" r="2.3"/><circle cx="143.1" cy="459.9" r="2.3"/><circle cx="136.6" cy="455.0" r="2.3"/><circle cx="136.6" cy="460.1" r="2.3"/><circle cx="143.8" cy="452.4" r="2.3"/><circle cx="147.3" cy="461.6" r="2.3"/><circle cx="143.3" cy="458.2" r="2.3"/><circle cx="137.4" cy="452.2" r="2.3"/><circle cx="141.8" cy="452.6" r="2.3"/><circle cx="137.8" cy="454.4" r="2.3"/><circle cx="135.9" cy="456.6" r="2.3"/><circle cx="160.3" cy="449.6" r="2.3"/><circle cx="161.2" cy="446.6" r="2.3"/><circle cx="161.0" cy="446.9" r="2.3"/><circle cx="160.5" cy="441.2" r="2.3"/><circle cx="166.5" cy="451.9" r="2.3"/><circle cx="164.7" cy="447.6" r="2.3"/><circle cx="159.0" cy="440.4" r="2.3"/><circle cx="158.7" cy="438.1" r="2.3"/><circle cx="163.9" cy="443.0" r="2.3"/><circle cx="164.8" cy="442.8" r="2.3"/><circle cx="166.0" cy="449.7" r="2.3"/><circle cx="155.5" cy="440.1" r="2.3"/><circle cx="165.5" cy="444.0" r="2.3"/><circle cx="166.3" cy="443.0" r="2.3"/><circle cx="156.3" cy="446.4" r="2.3"/><circle cx="164.1" cy="441.0" r="2.3"/><circle cx="161.5" cy="428.8" r="2.3"/><circle cx="168.5" cy="422.0" r="2.3"/><circle cx="143.6" cy="453.6" r="2.3"/><circle cx="147.0" cy="458.0" r="2.3"/></g>
<path d="M133.8 542.3 L168.29999999999998 542.3 L167.6 558 C166.2 566.5 158.5 574.8 151.2 574.8 C144.0 574.8 136.6 566.5 135.0 558 Z" fill="#bdbdbd"/>
<g fill="none" stroke="#a9bfe2" stroke-width="0.95" filter="url(#pblur)"><circle cx="124.2" cy="547.1" r="2.3"/><circle cx="128.2" cy="549.0" r="2.3"/><circle cx="122.8" cy="545.7" r="2.3"/><circle cx="122.1" cy="571.0" r="2.3"/><circle cx="121.2" cy="549.5" r="2.3"/><circle cx="132.5" cy="556.6" r="2.3"/><circle cx="125.4" cy="544.3" r="2.3"/><circle cx="125.5" cy="569.4" r="2.3"/><circle cx="130.7" cy="564.2" r="2.3"/><circle cx="125.3" cy="547.8" r="2.3"/><circle cx="131.3" cy="546.2" r="2.3"/><circle cx="114.7" cy="560.9" r="2.3"/><circle cx="125.0" cy="544.4" r="2.3"/><circle cx="129.6" cy="552.7" r="2.3"/><circle cx="129.0" cy="547.6" r="2.3"/><circle cx="123.0" cy="551.1" r="2.3"/><circle cx="129.9" cy="571.1" r="2.3"/><circle cx="121.5" cy="549.1" r="2.3"/><circle cx="132.8" cy="569.9" r="2.3"/><circle cx="113.0" cy="549.5" r="2.3"/><circle cx="123.3" cy="550.5" r="2.3"/><circle cx="124.0" cy="549.2" r="2.3"/><circle cx="116.1" cy="545.8" r="2.3"/><circle cx="121.8" cy="551.8" r="2.3"/><circle cx="129.3" cy="550.8" r="2.3"/><circle cx="128.8" cy="551.7" r="2.3"/><circle cx="132.9" cy="554.4" r="2.3"/><circle cx="132.1" cy="545.5" r="2.3"/><circle cx="117.7" cy="569.4" r="2.3"/><circle cx="114.0" cy="550.0" r="2.3"/><circle cx="132.8" cy="562.3" r="2.3"/><circle cx="126.6" cy="546.1" r="2.3"/><circle cx="126.9" cy="562.2" r="2.3"/><circle cx="117.0" cy="556.7" r="2.3"/><circle cx="132.9" cy="566.3" r="2.3"/><circle cx="127.1" cy="560.5" r="2.3"/><circle cx="108.3" cy="555.4" r="2.3"/><circle cx="119.3" cy="549.4" r="2.3"/><circle cx="116.4" cy="546.0" r="2.3"/><circle cx="125.9" cy="544.3" r="2.3"/><circle cx="114.7" cy="555.0" r="2.3"/><circle cx="131.4" cy="543.8" r="2.3"/><circle cx="128.7" cy="545.2" r="2.3"/><circle cx="128.3" cy="563.9" r="2.3"/><circle cx="122.4" cy="549.3" r="2.3"/><circle cx="129.4" cy="571.7" r="2.3"/><circle cx="130.6" cy="557.9" r="2.3"/><circle cx="102.7" cy="548.1" r="2.3"/><circle cx="125.4" cy="550.5" r="2.3"/><circle cx="111.8" cy="546.0" r="2.3"/><circle cx="128.1" cy="549.6" r="2.3"/><circle cx="124.7" cy="558.4" r="2.3"/><circle cx="110.7" cy="550.5" r="2.3"/><circle cx="104.0" cy="544.9" r="2.3"/><circle cx="108.1" cy="550.9" r="2.3"/><circle cx="168.9" cy="559.1" r="2.3"/><circle cx="173.6" cy="545.6" r="2.3"/><circle cx="172.7" cy="563.7" r="2.3"/><circle cx="170.9" cy="551.0" r="2.3"/><circle cx="195.4" cy="547.1" r="2.3"/><circle cx="173.4" cy="553.1" r="2.3"/><circle cx="174.3" cy="548.7" r="2.3"/><circle cx="173.4" cy="552.9" r="2.3"/><circle cx="182.5" cy="551.1" r="2.3"/><circle cx="171.8" cy="548.9" r="2.3"/><circle cx="175.4" cy="544.6" r="2.3"/><circle cx="173.3" cy="545.9" r="2.3"/><circle cx="175.5" cy="546.8" r="2.3"/><circle cx="181.9" cy="555.9" r="2.3"/><circle cx="179.3" cy="562.0" r="2.3"/><circle cx="172.6" cy="544.8" r="2.3"/><circle cx="193.7" cy="555.9" r="2.3"/><circle cx="186.2" cy="547.4" r="2.3"/><circle cx="171.3" cy="555.6" r="2.3"/><circle cx="172.2" cy="554.1" r="2.3"/><circle cx="176.7" cy="554.2" r="2.3"/><circle cx="173.7" cy="546.3" r="2.3"/><circle cx="204.7" cy="555.5" r="2.3"/><circle cx="170.0" cy="546.9" r="2.3"/><circle cx="170.6" cy="555.5" r="2.3"/><circle cx="170.7" cy="567.4" r="2.3"/><circle cx="196.7" cy="557.5" r="2.3"/><circle cx="184.0" cy="571.0" r="2.3"/><circle cx="170.9" cy="546.4" r="2.3"/><circle cx="171.0" cy="565.3" r="2.3"/><circle cx="196.8" cy="560.2" r="2.3"/><circle cx="170.1" cy="556.0" r="2.3"/><circle cx="172.8" cy="564.7" r="2.3"/><circle cx="169.7" cy="558.9" r="2.3"/><circle cx="179.8" cy="550.9" r="2.3"/><circle cx="172.7" cy="559.7" r="2.3"/><circle cx="171.2" cy="562.6" r="2.3"/><circle cx="184.4" cy="557.5" r="2.3"/><circle cx="168.9" cy="545.7" r="2.3"/><circle cx="181.3" cy="553.6" r="2.3"/><circle cx="175.4" cy="548.0" r="2.3"/><circle cx="175.7" cy="550.3" r="2.3"/><circle cx="169.4" cy="557.9" r="2.3"/><circle cx="171.3" cy="569.6" r="2.3"/><circle cx="179.0" cy="570.3" r="2.3"/><circle cx="175.8" cy="553.6" r="2.3"/><circle cx="180.3" cy="549.0" r="2.3"/><circle cx="171.9" cy="550.1" r="2.3"/><circle cx="176.8" cy="544.4" r="2.3"/><circle cx="186.2" cy="548.9" r="2.3"/><circle cx="180.2" cy="545.0" r="2.3"/><circle cx="169.0" cy="557.8" r="2.3"/><circle cx="171.3" cy="562.6" r="2.3"/><circle cx="188.3" cy="557.6" r="2.3"/><circle cx="171.5" cy="545.3" r="2.3"/><circle cx="170.6" cy="563.8" r="2.3"/><circle cx="170.9" cy="557.2" r="2.3"/><circle cx="182.0" cy="565.2" r="2.3"/><circle cx="182.2" cy="559.0" r="2.3"/><circle cx="178.2" cy="548.8" r="2.3"/><circle cx="177.3" cy="554.1" r="2.3"/><circle cx="190.5" cy="546.5" r="2.3"/><circle cx="169.7" cy="563.5" r="2.3"/><circle cx="169.7" cy="552.3" r="2.3"/><circle cx="169.4" cy="548.0" r="2.3"/><circle cx="174.1" cy="549.5" r="2.3"/><circle cx="175.8" cy="550.5" r="2.3"/><circle cx="170.1" cy="549.1" r="2.3"/><circle cx="183.0" cy="546.2" r="2.3"/><circle cx="170.3" cy="547.0" r="2.3"/><circle cx="176.0" cy="547.0" r="2.3"/><circle cx="176.1" cy="553.3" r="2.3"/><circle cx="173.8" cy="565.8" r="2.3"/><circle cx="181.5" cy="543.8" r="2.3"/><circle cx="169.0" cy="553.1" r="2.3"/><circle cx="174.9" cy="544.8" r="2.3"/><circle cx="172.5" cy="544.8" r="2.3"/><circle cx="170.0" cy="548.4" r="2.3"/><circle cx="169.3" cy="557.2" r="2.3"/><circle cx="171.1" cy="547.5" r="2.3"/><circle cx="182.2" cy="572.0" r="2.3"/><circle cx="174.5" cy="548.0" r="2.3"/><circle cx="176.6" cy="561.9" r="2.3"/><circle cx="173.3" cy="546.5" r="2.3"/><circle cx="178.2" cy="552.7" r="2.3"/><circle cx="182.9" cy="547.1" r="2.3"/><circle cx="179.2" cy="564.4" r="2.3"/><circle cx="176.0" cy="547.2" r="2.3"/><circle cx="198.3" cy="560.8" r="2.3"/><circle cx="170.2" cy="555.7" r="2.3"/><circle cx="172.5" cy="546.4" r="2.3"/><circle cx="168.9" cy="559.2" r="2.3"/><circle cx="172.9" cy="547.7" r="2.3"/><circle cx="188.7" cy="560.2" r="2.3"/><circle cx="170.6" cy="554.7" r="2.3"/><circle cx="237.0" cy="565.6" r="2.3"/><circle cx="116.6" cy="564.2" r="2.3"/><circle cx="210.2" cy="553.2" r="2.3"/><circle cx="103.5" cy="550.4" r="2.3"/><circle cx="118.6" cy="569.5" r="2.3"/><circle cx="182.5" cy="567.6" r="2.3"/><circle cx="189.4" cy="561.0" r="2.3"/></g>
<path d="M168.9 541.8 L168.9 452 C172 456 176 462 180 470 C186 482 194 494 200 506 C204 516 206 530 205 541.8 Z" fill="#a395d0"/>
<path d="M133.2 541.8 L133.2 462 C130 466 127 472 124 480 C120 490 117 500 116 512 C115.5 524 116 534 117 541.8 Z" fill="#a395d0"/>
<g fill="none" stroke="#7d6abd" stroke-width="0.95" filter="url(#pblur)"><circle cx="114.2" cy="523.1" r="2.3"/><circle cx="126.2" cy="519.8" r="2.3"/><circle cx="126.6" cy="478.9" r="2.3"/><circle cx="129.8" cy="447.0" r="2.3"/><circle cx="127.3" cy="465.3" r="2.3"/><circle cx="116.1" cy="507.7" r="2.3"/><circle cx="132.8" cy="469.3" r="2.3"/><circle cx="128.2" cy="541.7" r="2.3"/><circle cx="125.9" cy="490.4" r="2.3"/><circle cx="130.8" cy="530.7" r="2.3"/><circle cx="110.0" cy="518.0" r="2.3"/><circle cx="111.8" cy="494.5" r="2.3"/><circle cx="114.3" cy="456.9" r="2.3"/><circle cx="123.8" cy="476.6" r="2.3"/><circle cx="128.7" cy="467.2" r="2.3"/><circle cx="132.3" cy="501.3" r="2.3"/><circle cx="132.3" cy="503.2" r="2.3"/><circle cx="116.8" cy="508.3" r="2.3"/><circle cx="101.8" cy="506.6" r="2.3"/><circle cx="125.1" cy="482.6" r="2.3"/><circle cx="117.4" cy="539.7" r="2.3"/><circle cx="122.6" cy="534.4" r="2.3"/><circle cx="123.0" cy="513.5" r="2.3"/><circle cx="115.6" cy="513.0" r="2.3"/><circle cx="130.9" cy="488.8" r="2.3"/><circle cx="129.7" cy="487.7" r="2.3"/><circle cx="121.9" cy="471.3" r="2.3"/><circle cx="125.2" cy="474.0" r="2.3"/><circle cx="113.1" cy="530.0" r="2.3"/><circle cx="122.0" cy="489.3" r="2.3"/><circle cx="122.5" cy="469.6" r="2.3"/><circle cx="125.4" cy="488.3" r="2.3"/><circle cx="126.3" cy="530.8" r="2.3"/><circle cx="125.2" cy="510.0" r="2.3"/><circle cx="122.4" cy="485.8" r="2.3"/><circle cx="127.9" cy="489.4" r="2.3"/><circle cx="118.8" cy="538.8" r="2.3"/><circle cx="122.2" cy="468.5" r="2.3"/><circle cx="119.5" cy="514.7" r="2.3"/><circle cx="121.8" cy="473.6" r="2.3"/><circle cx="130.9" cy="526.5" r="2.3"/><circle cx="121.3" cy="499.7" r="2.3"/><circle cx="126.5" cy="480.6" r="2.3"/><circle cx="126.7" cy="489.8" r="2.3"/><circle cx="126.1" cy="531.7" r="2.3"/><circle cx="126.3" cy="522.9" r="2.3"/><circle cx="126.6" cy="449.9" r="2.3"/><circle cx="122.9" cy="487.8" r="2.3"/><circle cx="127.0" cy="486.6" r="2.3"/><circle cx="129.3" cy="458.0" r="2.3"/><circle cx="116.3" cy="499.4" r="2.3"/><circle cx="120.6" cy="496.1" r="2.3"/><circle cx="124.6" cy="499.7" r="2.3"/><circle cx="126.5" cy="519.4" r="2.3"/><circle cx="132.9" cy="450.9" r="2.3"/><circle cx="122.0" cy="469.9" r="2.3"/><circle cx="122.3" cy="473.0" r="2.3"/><circle cx="114.6" cy="516.7" r="2.3"/><circle cx="114.7" cy="497.8" r="2.3"/><circle cx="115.5" cy="514.3" r="2.3"/><circle cx="111.2" cy="480.3" r="2.3"/><circle cx="124.9" cy="534.6" r="2.3"/><circle cx="129.4" cy="470.0" r="2.3"/><circle cx="131.9" cy="455.2" r="2.3"/><circle cx="118.7" cy="526.1" r="2.3"/><circle cx="127.7" cy="531.4" r="2.3"/><circle cx="118.9" cy="473.9" r="2.3"/><circle cx="130.3" cy="541.6" r="2.3"/><circle cx="112.8" cy="499.1" r="2.3"/><circle cx="115.4" cy="537.2" r="2.3"/><circle cx="131.5" cy="491.6" r="2.3"/><circle cx="131.8" cy="532.0" r="2.3"/><circle cx="130.4" cy="497.3" r="2.3"/><circle cx="112.1" cy="539.5" r="2.3"/><circle cx="122.5" cy="528.6" r="2.3"/><circle cx="124.0" cy="526.4" r="2.3"/><circle cx="122.2" cy="531.4" r="2.3"/><circle cx="127.7" cy="456.1" r="2.3"/><circle cx="106.0" cy="502.7" r="2.3"/><circle cx="128.6" cy="534.2" r="2.3"/><circle cx="115.3" cy="478.0" r="2.3"/><circle cx="131.9" cy="521.5" r="2.3"/><circle cx="113.9" cy="527.3" r="2.3"/><circle cx="124.8" cy="490.3" r="2.3"/><circle cx="114.3" cy="539.3" r="2.3"/><circle cx="127.5" cy="508.8" r="2.3"/><circle cx="129.1" cy="474.2" r="2.3"/><circle cx="131.1" cy="516.2" r="2.3"/><circle cx="121.1" cy="513.8" r="2.3"/><circle cx="123.1" cy="481.7" r="2.3"/><circle cx="129.4" cy="461.3" r="2.3"/><circle cx="118.9" cy="481.9" r="2.3"/><circle cx="132.1" cy="497.6" r="2.3"/><circle cx="125.8" cy="531.4" r="2.3"/><circle cx="119.6" cy="472.0" r="2.3"/><circle cx="116.7" cy="525.0" r="2.3"/><circle cx="121.7" cy="527.4" r="2.3"/><circle cx="131.7" cy="510.8" r="2.3"/><circle cx="123.7" cy="483.9" r="2.3"/><circle cx="113.4" cy="486.9" r="2.3"/><circle cx="130.3" cy="517.2" r="2.3"/><circle cx="112.3" cy="515.1" r="2.3"/><circle cx="119.2" cy="530.6" r="2.3"/><circle cx="132.3" cy="530.2" r="2.3"/><circle cx="129.9" cy="500.4" r="2.3"/><circle cx="129.7" cy="520.3" r="2.3"/><circle cx="111.1" cy="530.7" r="2.3"/><circle cx="123.9" cy="486.0" r="2.3"/><circle cx="123.1" cy="529.4" r="2.3"/><circle cx="132.5" cy="470.3" r="2.3"/><circle cx="109.1" cy="513.6" r="2.3"/><circle cx="115.9" cy="526.5" r="2.3"/><circle cx="112.3" cy="491.9" r="2.3"/><circle cx="131.2" cy="517.4" r="2.3"/><circle cx="131.4" cy="453.8" r="2.3"/><circle cx="120.0" cy="486.2" r="2.3"/><circle cx="119.9" cy="508.4" r="2.3"/><circle cx="121.5" cy="531.8" r="2.3"/><circle cx="117.7" cy="492.8" r="2.3"/><circle cx="111.9" cy="487.4" r="2.3"/><circle cx="119.0" cy="494.6" r="2.3"/><circle cx="117.0" cy="470.0" r="2.3"/><circle cx="120.0" cy="504.7" r="2.3"/><circle cx="124.5" cy="468.3" r="2.3"/><circle cx="127.5" cy="497.2" r="2.3"/><circle cx="125.8" cy="519.9" r="2.3"/><circle cx="129.8" cy="519.9" r="2.3"/><circle cx="131.8" cy="483.8" r="2.3"/><circle cx="115.0" cy="512.0" r="2.3"/><circle cx="126.6" cy="523.3" r="2.3"/><circle cx="123.3" cy="485.8" r="2.3"/><circle cx="123.1" cy="522.1" r="2.3"/><circle cx="114.3" cy="516.2" r="2.3"/><circle cx="98.7" cy="527.1" r="2.3"/><circle cx="131.0" cy="477.0" r="2.3"/><circle cx="120.8" cy="535.1" r="2.3"/><circle cx="125.1" cy="529.3" r="2.3"/><circle cx="126.3" cy="480.3" r="2.3"/><circle cx="126.8" cy="463.3" r="2.3"/><circle cx="129.3" cy="482.0" r="2.3"/><circle cx="106.9" cy="494.2" r="2.3"/><circle cx="117.6" cy="501.7" r="2.3"/><circle cx="114.7" cy="532.7" r="2.3"/><circle cx="129.5" cy="510.8" r="2.3"/><circle cx="131.4" cy="496.3" r="2.3"/><circle cx="117.0" cy="517.0" r="2.3"/><circle cx="127.1" cy="503.2" r="2.3"/><circle cx="119.5" cy="532.8" r="2.3"/><circle cx="127.8" cy="529.5" r="2.3"/><circle cx="119.4" cy="509.5" r="2.3"/><circle cx="114.3" cy="465.3" r="2.3"/><circle cx="127.5" cy="473.1" r="2.3"/><circle cx="118.1" cy="508.8" r="2.3"/><circle cx="102.8" cy="536.5" r="2.3"/><circle cx="126.9" cy="511.7" r="2.3"/><circle cx="131.7" cy="530.6" r="2.3"/><circle cx="126.0" cy="473.6" r="2.3"/><circle cx="129.1" cy="466.1" r="2.3"/><circle cx="121.7" cy="494.7" r="2.3"/><circle cx="126.2" cy="475.1" r="2.3"/><circle cx="119.4" cy="509.7" r="2.3"/><circle cx="122.2" cy="511.4" r="2.3"/><circle cx="125.5" cy="507.7" r="2.3"/><circle cx="113.4" cy="531.0" r="2.3"/><circle cx="127.2" cy="499.7" r="2.3"/><circle cx="127.6" cy="535.6" r="2.3"/><circle cx="115.3" cy="516.8" r="2.3"/><circle cx="123.2" cy="478.2" r="2.3"/><circle cx="127.2" cy="479.8" r="2.3"/><circle cx="128.7" cy="474.5" r="2.3"/><circle cx="122.9" cy="490.5" r="2.3"/><circle cx="129.3" cy="521.2" r="2.3"/><circle cx="119.8" cy="501.9" r="2.3"/><circle cx="122.6" cy="508.0" r="2.3"/><circle cx="119.3" cy="533.4" r="2.3"/><circle cx="121.9" cy="519.7" r="2.3"/><circle cx="122.9" cy="487.2" r="2.3"/><circle cx="120.4" cy="508.2" r="2.3"/><circle cx="121.3" cy="483.8" r="2.3"/><circle cx="116.0" cy="514.7" r="2.3"/><circle cx="132.4" cy="535.6" r="2.3"/><circle cx="117.1" cy="520.8" r="2.3"/><circle cx="128.1" cy="539.2" r="2.3"/><circle cx="119.0" cy="526.0" r="2.3"/><circle cx="130.8" cy="473.9" r="2.3"/><circle cx="117.7" cy="541.5" r="2.3"/><circle cx="126.5" cy="514.4" r="2.3"/><circle cx="129.6" cy="484.9" r="2.3"/><circle cx="128.3" cy="516.2" r="2.3"/><circle cx="125.6" cy="526.3" r="2.3"/><circle cx="130.3" cy="498.7" r="2.3"/><circle cx="126.4" cy="526.7" r="2.3"/><circle cx="124.4" cy="507.4" r="2.3"/><circle cx="87.7" cy="502.3" r="2.3"/><circle cx="130.7" cy="486.5" r="2.3"/><circle cx="125.1" cy="505.0" r="2.3"/><circle cx="113.8" cy="490.0" r="2.3"/><circle cx="104.0" cy="513.7" r="2.3"/><circle cx="122.0" cy="517.1" r="2.3"/><circle cx="128.4" cy="512.5" r="2.3"/><circle cx="121.5" cy="472.4" r="2.3"/><circle cx="97.4" cy="540.4" r="2.3"/><circle cx="130.3" cy="539.1" r="2.3"/><circle cx="130.1" cy="519.6" r="2.3"/><circle cx="115.3" cy="487.6" r="2.3"/><circle cx="124.5" cy="538.6" r="2.3"/><circle cx="126.5" cy="539.8" r="2.3"/><circle cx="126.1" cy="482.6" r="2.3"/><circle cx="123.2" cy="539.2" r="2.3"/><circle cx="117.3" cy="520.4" r="2.3"/><circle cx="127.9" cy="483.1" r="2.3"/><circle cx="115.2" cy="519.0" r="2.3"/><circle cx="128.2" cy="472.4" r="2.3"/><circle cx="126.2" cy="519.3" r="2.3"/><circle cx="119.5" cy="507.9" r="2.3"/><circle cx="129.7" cy="517.0" r="2.3"/><circle cx="119.6" cy="510.1" r="2.3"/><circle cx="131.5" cy="505.8" r="2.3"/><circle cx="117.8" cy="530.5" r="2.3"/><circle cx="120.9" cy="533.9" r="2.3"/><circle cx="126.2" cy="496.3" r="2.3"/><circle cx="124.3" cy="468.8" r="2.3"/><circle cx="131.9" cy="484.4" r="2.3"/><circle cx="109.9" cy="478.4" r="2.3"/><circle cx="122.7" cy="500.0" r="2.3"/><circle cx="132.3" cy="484.1" r="2.3"/><circle cx="123.8" cy="521.7" r="2.3"/><circle cx="122.2" cy="504.2" r="2.3"/><circle cx="112.5" cy="522.0" r="2.3"/><circle cx="115.4" cy="518.5" r="2.3"/><circle cx="112.0" cy="499.8" r="2.3"/><circle cx="115.2" cy="515.4" r="2.3"/><circle cx="122.4" cy="509.1" r="2.3"/><circle cx="115.1" cy="494.6" r="2.3"/><circle cx="117.5" cy="479.8" r="2.3"/><circle cx="118.7" cy="466.7" r="2.3"/><circle cx="109.5" cy="520.2" r="2.3"/><circle cx="127.6" cy="511.7" r="2.3"/><circle cx="131.8" cy="506.5" r="2.3"/><circle cx="127.2" cy="512.4" r="2.3"/><circle cx="131.9" cy="531.9" r="2.3"/><circle cx="125.1" cy="499.7" r="2.3"/><circle cx="129.2" cy="529.5" r="2.3"/><circle cx="110.4" cy="500.5" r="2.3"/><circle cx="127.3" cy="459.2" r="2.3"/><circle cx="116.5" cy="531.6" r="2.3"/><circle cx="121.7" cy="468.2" r="2.3"/><circle cx="115.9" cy="522.6" r="2.3"/><circle cx="125.8" cy="529.8" r="2.3"/><circle cx="125.0" cy="501.5" r="2.3"/><circle cx="124.1" cy="483.1" r="2.3"/><circle cx="112.9" cy="475.5" r="2.3"/><circle cx="122.6" cy="504.1" r="2.3"/><circle cx="125.8" cy="447.7" r="2.3"/><circle cx="121.8" cy="534.4" r="2.3"/><circle cx="128.5" cy="483.8" r="2.3"/><circle cx="120.5" cy="514.5" r="2.3"/><circle cx="127.6" cy="471.3" r="2.3"/><circle cx="121.0" cy="519.4" r="2.3"/><circle cx="131.4" cy="509.3" r="2.3"/><circle cx="116.5" cy="506.4" r="2.3"/><circle cx="123.5" cy="486.2" r="2.3"/><circle cx="110.0" cy="509.8" r="2.3"/><circle cx="132.6" cy="458.3" r="2.3"/><circle cx="132.8" cy="533.2" r="2.3"/><circle cx="123.1" cy="475.6" r="2.3"/><circle cx="118.6" cy="492.0" r="2.3"/><circle cx="127.4" cy="496.6" r="2.3"/><circle cx="106.0" cy="509.8" r="2.3"/><circle cx="127.9" cy="480.6" r="2.3"/><circle cx="117.3" cy="529.2" r="2.3"/><circle cx="116.0" cy="489.0" r="2.3"/><circle cx="126.0" cy="492.9" r="2.3"/><circle cx="108.7" cy="517.6" r="2.3"/><circle cx="130.6" cy="465.0" r="2.3"/><circle cx="114.7" cy="513.8" r="2.3"/><circle cx="120.3" cy="502.9" r="2.3"/><circle cx="116.7" cy="517.1" r="2.3"/><circle cx="126.7" cy="484.6" r="2.3"/><circle cx="129.2" cy="521.4" r="2.3"/><circle cx="122.1" cy="479.5" r="2.3"/><circle cx="132.6" cy="523.2" r="2.3"/><circle cx="116.3" cy="510.6" r="2.3"/><circle cx="118.7" cy="526.0" r="2.3"/><circle cx="126.3" cy="466.7" r="2.3"/><circle cx="132.8" cy="479.6" r="2.3"/><circle cx="128.3" cy="471.6" r="2.3"/><circle cx="108.4" cy="538.4" r="2.3"/><circle cx="126.8" cy="539.8" r="2.3"/><circle cx="127.7" cy="517.5" r="2.3"/><circle cx="112.8" cy="538.9" r="2.3"/><circle cx="119.6" cy="526.6" r="2.3"/><circle cx="129.5" cy="472.0" r="2.3"/><circle cx="108.0" cy="494.9" r="2.3"/><circle cx="132.9" cy="466.1" r="2.3"/><circle cx="126.8" cy="541.1" r="2.3"/><circle cx="131.4" cy="530.6" r="2.3"/><circle cx="130.3" cy="495.5" r="2.3"/><circle cx="123.5" cy="492.0" r="2.3"/><circle cx="129.4" cy="519.9" r="2.3"/><circle cx="129.2" cy="472.9" r="2.3"/><circle cx="185.9" cy="466.5" r="2.3"/><circle cx="197.9" cy="509.7" r="2.3"/><circle cx="180.6" cy="518.0" r="2.3"/><circle cx="173.9" cy="482.1" r="2.3"/><circle cx="175.1" cy="447.7" r="2.3"/><circle cx="196.7" cy="488.8" r="2.3"/><circle cx="201.0" cy="502.1" r="2.3"/><circle cx="194.7" cy="466.0" r="2.3"/><circle cx="203.3" cy="527.1" r="2.3"/><circle cx="171.4" cy="484.0" r="2.3"/><circle cx="173.8" cy="530.6" r="2.3"/><circle cx="182.8" cy="488.6" r="2.3"/><circle cx="169.8" cy="527.6" r="2.3"/><circle cx="174.9" cy="509.1" r="2.3"/><circle cx="172.3" cy="484.3" r="2.3"/><circle cx="180.9" cy="533.8" r="2.3"/><circle cx="198.8" cy="540.8" r="2.3"/><circle cx="173.1" cy="522.4" r="2.3"/><circle cx="189.2" cy="538.2" r="2.3"/><circle cx="176.2" cy="489.0" r="2.3"/><circle cx="221.2" cy="502.9" r="2.3"/><circle cx="170.5" cy="476.0" r="2.3"/><circle cx="206.6" cy="540.9" r="2.3"/><circle cx="178.3" cy="504.1" r="2.3"/><circle cx="187.7" cy="539.0" r="2.3"/><circle cx="196.8" cy="529.1" r="2.3"/><circle cx="193.2" cy="532.2" r="2.3"/><circle cx="219.2" cy="507.4" r="2.3"/><circle cx="174.9" cy="516.6" r="2.3"/><circle cx="203.9" cy="513.9" r="2.3"/><circle cx="225.1" cy="539.6" r="2.3"/><circle cx="219.7" cy="520.7" r="2.3"/><circle cx="202.7" cy="527.2" r="2.3"/><circle cx="174.4" cy="485.1" r="2.3"/><circle cx="194.0" cy="518.4" r="2.3"/><circle cx="208.7" cy="504.5" r="2.3"/><circle cx="169.5" cy="445.4" r="2.3"/><circle cx="180.0" cy="478.0" r="2.3"/><circle cx="189.6" cy="518.2" r="2.3"/><circle cx="196.6" cy="540.1" r="2.3"/><circle cx="175.1" cy="495.1" r="2.3"/><circle cx="217.2" cy="536.0" r="2.3"/><circle cx="175.3" cy="489.3" r="2.3"/><circle cx="207.9" cy="489.4" r="2.3"/><circle cx="175.1" cy="475.9" r="2.3"/><circle cx="184.3" cy="487.4" r="2.3"/><circle cx="173.7" cy="497.0" r="2.3"/><circle cx="193.7" cy="492.0" r="2.3"/><circle cx="188.6" cy="445.2" r="2.3"/><circle cx="195.7" cy="511.0" r="2.3"/><circle cx="190.5" cy="507.7" r="2.3"/><circle cx="191.5" cy="487.3" r="2.3"/><circle cx="185.4" cy="483.8" r="2.3"/><circle cx="197.2" cy="494.6" r="2.3"/><circle cx="189.6" cy="503.9" r="2.3"/><circle cx="205.6" cy="495.7" r="2.3"/><circle cx="185.3" cy="506.8" r="2.3"/><circle cx="177.5" cy="541.4" r="2.3"/><circle cx="179.9" cy="525.9" r="2.3"/><circle cx="194.9" cy="492.9" r="2.3"/><circle cx="173.5" cy="525.6" r="2.3"/><circle cx="196.5" cy="479.4" r="2.3"/><circle cx="194.8" cy="493.3" r="2.3"/><circle cx="194.2" cy="524.8" r="2.3"/><circle cx="170.6" cy="540.3" r="2.3"/><circle cx="195.3" cy="519.7" r="2.3"/><circle cx="190.7" cy="503.8" r="2.3"/><circle cx="186.0" cy="482.1" r="2.3"/><circle cx="178.9" cy="498.6" r="2.3"/><circle cx="169.7" cy="514.1" r="2.3"/><circle cx="183.9" cy="510.0" r="2.3"/><circle cx="173.4" cy="500.7" r="2.3"/><circle cx="191.3" cy="513.4" r="2.3"/><circle cx="211.7" cy="538.4" r="2.3"/><circle cx="170.1" cy="464.4" r="2.3"/><circle cx="186.2" cy="526.4" r="2.3"/><circle cx="180.4" cy="450.8" r="2.3"/><circle cx="192.3" cy="522.9" r="2.3"/><circle cx="186.0" cy="503.2" r="2.3"/><circle cx="183.1" cy="497.0" r="2.3"/><circle cx="211.8" cy="536.4" r="2.3"/><circle cx="176.7" cy="534.6" r="2.3"/><circle cx="177.9" cy="502.2" r="2.3"/><circle cx="180.0" cy="454.9" r="2.3"/><circle cx="214.6" cy="512.9" r="2.3"/><circle cx="169.3" cy="467.8" r="2.3"/><circle cx="179.0" cy="503.0" r="2.3"/><circle cx="205.9" cy="537.9" r="2.3"/><circle cx="171.5" cy="511.9" r="2.3"/><circle cx="186.1" cy="470.2" r="2.3"/><circle cx="218.1" cy="516.8" r="2.3"/><circle cx="226.1" cy="511.1" r="2.3"/><circle cx="185.8" cy="510.7" r="2.3"/><circle cx="190.9" cy="496.7" r="2.3"/><circle cx="194.6" cy="512.8" r="2.3"/><circle cx="177.2" cy="488.9" r="2.3"/><circle cx="185.1" cy="512.5" r="2.3"/><circle cx="189.6" cy="473.4" r="2.3"/><circle cx="175.8" cy="486.0" r="2.3"/><circle cx="198.0" cy="483.7" r="2.3"/><circle cx="193.6" cy="494.0" r="2.3"/><circle cx="176.7" cy="538.0" r="2.3"/><circle cx="170.5" cy="475.8" r="2.3"/><circle cx="189.3" cy="485.5" r="2.3"/><circle cx="211.7" cy="522.5" r="2.3"/><circle cx="190.1" cy="531.1" r="2.3"/><circle cx="182.7" cy="498.0" r="2.3"/><circle cx="191.8" cy="493.6" r="2.3"/><circle cx="189.3" cy="524.2" r="2.3"/><circle cx="191.3" cy="487.4" r="2.3"/><circle cx="175.5" cy="457.6" r="2.3"/><circle cx="202.5" cy="510.2" r="2.3"/><circle cx="175.9" cy="541.5" r="2.3"/><circle cx="177.7" cy="532.5" r="2.3"/><circle cx="195.7" cy="508.4" r="2.3"/><circle cx="183.2" cy="459.3" r="2.3"/><circle cx="183.3" cy="536.0" r="2.3"/><circle cx="174.0" cy="500.4" r="2.3"/><circle cx="185.3" cy="460.6" r="2.3"/><circle cx="181.2" cy="532.0" r="2.3"/><circle cx="190.4" cy="488.2" r="2.3"/><circle cx="178.0" cy="484.6" r="2.3"/><circle cx="200.9" cy="532.9" r="2.3"/><circle cx="181.7" cy="528.1" r="2.3"/><circle cx="250.8" cy="521.6" r="2.3"/><circle cx="189.1" cy="526.4" r="2.3"/><circle cx="190.0" cy="473.5" r="2.3"/><circle cx="190.7" cy="497.4" r="2.3"/><circle cx="227.3" cy="539.9" r="2.3"/><circle cx="232.0" cy="510.2" r="2.3"/><circle cx="197.4" cy="534.1" r="2.3"/><circle cx="185.7" cy="523.8" r="2.3"/><circle cx="175.0" cy="478.4" r="2.3"/><circle cx="197.0" cy="514.1" r="2.3"/><circle cx="176.6" cy="511.4" r="2.3"/><circle cx="181.4" cy="527.6" r="2.3"/><circle cx="202.9" cy="536.8" r="2.3"/><circle cx="175.6" cy="535.1" r="2.3"/><circle cx="189.8" cy="506.0" r="2.3"/><circle cx="187.6" cy="527.6" r="2.3"/><circle cx="184.1" cy="472.4" r="2.3"/><circle cx="202.8" cy="508.8" r="2.3"/><circle cx="213.2" cy="494.5" r="2.3"/><circle cx="169.2" cy="531.0" r="2.3"/><circle cx="206.1" cy="495.9" r="2.3"/><circle cx="188.7" cy="510.3" r="2.3"/><circle cx="189.8" cy="477.9" r="2.3"/><circle cx="182.1" cy="531.3" r="2.3"/><circle cx="170.6" cy="527.1" r="2.3"/><circle cx="199.3" cy="522.9" r="2.3"/><circle cx="171.5" cy="489.6" r="2.3"/><circle cx="251.7" cy="505.4" r="2.3"/><circle cx="184.0" cy="521.3" r="2.3"/><circle cx="199.5" cy="523.1" r="2.3"/><circle cx="208.4" cy="492.0" r="2.3"/><circle cx="171.3" cy="519.4" r="2.3"/><circle cx="191.9" cy="524.6" r="2.3"/><circle cx="187.5" cy="502.9" r="2.3"/><circle cx="188.7" cy="514.3" r="2.3"/><circle cx="216.9" cy="524.6" r="2.3"/><circle cx="177.1" cy="465.3" r="2.3"/><circle cx="184.9" cy="484.9" r="2.3"/><circle cx="173.7" cy="492.2" r="2.3"/><circle cx="217.3" cy="495.2" r="2.3"/><circle cx="187.8" cy="509.0" r="2.3"/><circle cx="214.7" cy="528.5" r="2.3"/><circle cx="175.3" cy="527.3" r="2.3"/><circle cx="179.8" cy="497.9" r="2.3"/><circle cx="196.6" cy="536.9" r="2.3"/><circle cx="179.2" cy="534.0" r="2.3"/><circle cx="172.7" cy="465.0" r="2.3"/><circle cx="181.7" cy="472.5" r="2.3"/><circle cx="175.5" cy="525.9" r="2.3"/><circle cx="218.2" cy="506.3" r="2.3"/><circle cx="193.9" cy="539.6" r="2.3"/><circle cx="169.8" cy="483.1" r="2.3"/><circle cx="184.6" cy="527.6" r="2.3"/><circle cx="178.1" cy="500.9" r="2.3"/><circle cx="173.1" cy="532.2" r="2.3"/><circle cx="193.4" cy="523.1" r="2.3"/><circle cx="179.3" cy="512.0" r="2.3"/><circle cx="179.3" cy="532.3" r="2.3"/><circle cx="183.1" cy="517.0" r="2.3"/><circle cx="231.1" cy="509.1" r="2.3"/><circle cx="170.4" cy="485.3" r="2.3"/><circle cx="169.3" cy="507.5" r="2.3"/><circle cx="180.1" cy="488.1" r="2.3"/><circle cx="180.9" cy="509.0" r="2.3"/><circle cx="208.0" cy="533.5" r="2.3"/><circle cx="203.1" cy="521.1" r="2.3"/><circle cx="202.9" cy="494.4" r="2.3"/><circle cx="193.1" cy="541.0" r="2.3"/><circle cx="177.8" cy="541.6" r="2.3"/><circle cx="173.3" cy="511.2" r="2.3"/><circle cx="207.9" cy="525.5" r="2.3"/><circle cx="180.5" cy="479.0" r="2.3"/><circle cx="184.7" cy="511.7" r="2.3"/><circle cx="170.4" cy="521.7" r="2.3"/><circle cx="196.4" cy="489.9" r="2.3"/><circle cx="184.4" cy="531.3" r="2.3"/><circle cx="171.0" cy="522.8" r="2.3"/><circle cx="186.3" cy="528.1" r="2.3"/><circle cx="173.6" cy="473.2" r="2.3"/><circle cx="184.8" cy="533.9" r="2.3"/><circle cx="169.6" cy="511.7" r="2.3"/><circle cx="199.3" cy="535.8" r="2.3"/><circle cx="186.4" cy="523.2" r="2.3"/><circle cx="207.5" cy="484.0" r="2.3"/><circle cx="177.0" cy="489.6" r="2.3"/><circle cx="177.3" cy="460.1" r="2.3"/><circle cx="204.0" cy="504.1" r="2.3"/><circle cx="186.0" cy="483.2" r="2.3"/><circle cx="217.2" cy="527.7" r="2.3"/><circle cx="203.3" cy="523.6" r="2.3"/><circle cx="186.3" cy="515.6" r="2.3"/><circle cx="187.5" cy="517.4" r="2.3"/><circle cx="210.5" cy="522.7" r="2.3"/><circle cx="181.8" cy="510.7" r="2.3"/><circle cx="187.1" cy="532.2" r="2.3"/><circle cx="216.7" cy="474.2" r="2.3"/><circle cx="181.7" cy="489.4" r="2.3"/><circle cx="195.7" cy="496.3" r="2.3"/><circle cx="178.4" cy="441.4" r="2.3"/><circle cx="220.1" cy="524.4" r="2.3"/><circle cx="169.6" cy="521.3" r="2.3"/><circle cx="181.5" cy="486.5" r="2.3"/><circle cx="171.3" cy="497.8" r="2.3"/><circle cx="170.4" cy="527.8" r="2.3"/><circle cx="185.8" cy="483.5" r="2.3"/><circle cx="177.5" cy="496.4" r="2.3"/><circle cx="217.4" cy="507.5" r="2.3"/><circle cx="171.5" cy="473.2" r="2.3"/><circle cx="179.7" cy="515.2" r="2.3"/><circle cx="175.8" cy="488.6" r="2.3"/><circle cx="190.9" cy="462.9" r="2.3"/><circle cx="197.4" cy="515.9" r="2.3"/><circle cx="236.3" cy="540.2" r="2.3"/><circle cx="180.1" cy="536.8" r="2.3"/><circle cx="171.9" cy="502.2" r="2.3"/><circle cx="183.3" cy="495.8" r="2.3"/><circle cx="211.4" cy="540.9" r="2.3"/><circle cx="184.7" cy="504.9" r="2.3"/><circle cx="176.3" cy="496.6" r="2.3"/><circle cx="206.2" cy="507.7" r="2.3"/><circle cx="173.3" cy="515.8" r="2.3"/><circle cx="178.5" cy="463.4" r="2.3"/><circle cx="181.9" cy="522.0" r="2.3"/><circle cx="193.6" cy="486.3" r="2.3"/><circle cx="170.3" cy="539.8" r="2.3"/><circle cx="175.4" cy="505.5" r="2.3"/><circle cx="187.9" cy="492.3" r="2.3"/><circle cx="215.6" cy="508.8" r="2.3"/><circle cx="171.5" cy="482.7" r="2.3"/><circle cx="169.7" cy="501.8" r="2.3"/><circle cx="202.4" cy="528.8" r="2.3"/><circle cx="173.3" cy="521.2" r="2.3"/><circle cx="198.0" cy="524.9" r="2.3"/><circle cx="191.5" cy="534.2" r="2.3"/><circle cx="174.9" cy="470.5" r="2.3"/><circle cx="192.5" cy="487.2" r="2.3"/><circle cx="179.7" cy="538.2" r="2.3"/><circle cx="173.8" cy="533.2" r="2.3"/><circle cx="171.3" cy="499.2" r="2.3"/><circle cx="200.4" cy="499.0" r="2.3"/><circle cx="171.4" cy="466.3" r="2.3"/><circle cx="173.3" cy="519.0" r="2.3"/><circle cx="192.3" cy="506.4" r="2.3"/><circle cx="194.3" cy="479.0" r="2.3"/><circle cx="180.9" cy="490.4" r="2.3"/><circle cx="169.4" cy="528.7" r="2.3"/><circle cx="191.1" cy="499.0" r="2.3"/><circle cx="211.3" cy="493.7" r="2.3"/><circle cx="235.0" cy="536.3" r="2.3"/><circle cx="185.3" cy="514.0" r="2.3"/><circle cx="180.7" cy="540.1" r="2.3"/><circle cx="171.7" cy="523.7" r="2.3"/><circle cx="191.6" cy="484.4" r="2.3"/><circle cx="222.0" cy="504.6" r="2.3"/><circle cx="219.3" cy="521.6" r="2.3"/><circle cx="189.4" cy="487.2" r="2.3"/><circle cx="198.4" cy="501.8" r="2.3"/><circle cx="225.9" cy="507.1" r="2.3"/><circle cx="177.9" cy="529.4" r="2.3"/><circle cx="185.5" cy="518.2" r="2.3"/><circle cx="202.1" cy="496.5" r="2.3"/><circle cx="178.1" cy="492.2" r="2.3"/><circle cx="190.8" cy="509.4" r="2.3"/><circle cx="236.9" cy="527.4" r="2.3"/><circle cx="172.0" cy="522.0" r="2.3"/><circle cx="187.8" cy="530.8" r="2.3"/><circle cx="171.8" cy="538.0" r="2.3"/><circle cx="199.7" cy="485.8" r="2.3"/><circle cx="176.7" cy="532.6" r="2.3"/><circle cx="198.6" cy="523.8" r="2.3"/><circle cx="186.7" cy="519.8" r="2.3"/><circle cx="201.8" cy="538.2" r="2.3"/><circle cx="172.2" cy="509.9" r="2.3"/><circle cx="193.6" cy="534.0" r="2.3"/><circle cx="194.9" cy="512.6" r="2.3"/><circle cx="183.7" cy="493.4" r="2.3"/><circle cx="172.6" cy="495.9" r="2.3"/><circle cx="175.0" cy="489.2" r="2.3"/><circle cx="189.1" cy="516.0" r="2.3"/><circle cx="191.1" cy="538.3" r="2.3"/><circle cx="205.5" cy="541.2" r="2.3"/><circle cx="191.9" cy="521.0" r="2.3"/><circle cx="172.9" cy="524.3" r="2.3"/><circle cx="189.2" cy="477.4" r="2.3"/><circle cx="169.2" cy="464.7" r="2.3"/><circle cx="177.6" cy="491.8" r="2.3"/><circle cx="196.8" cy="525.1" r="2.3"/><circle cx="189.1" cy="539.6" r="2.3"/><circle cx="202.5" cy="479.6" r="2.3"/><circle cx="180.9" cy="514.2" r="2.3"/><circle cx="174.8" cy="473.6" r="2.3"/><circle cx="209.2" cy="520.2" r="2.3"/><circle cx="174.7" cy="536.4" r="2.3"/><circle cx="187.5" cy="531.9" r="2.3"/><circle cx="183.3" cy="504.1" r="2.3"/><circle cx="208.1" cy="520.3" r="2.3"/><circle cx="220.7" cy="510.4" r="2.3"/><circle cx="187.5" cy="540.3" r="2.3"/><circle cx="195.4" cy="536.5" r="2.3"/><circle cx="198.0" cy="536.4" r="2.3"/><circle cx="206.8" cy="538.2" r="2.3"/><circle cx="198.8" cy="514.8" r="2.3"/><circle cx="176.7" cy="454.5" r="2.3"/><circle cx="216.8" cy="456.8" r="2.3"/><circle cx="207.3" cy="526.7" r="2.3"/><circle cx="187.7" cy="496.2" r="2.3"/><circle cx="182.4" cy="461.2" r="2.3"/><circle cx="175.8" cy="469.1" r="2.3"/><circle cx="209.5" cy="521.6" r="2.3"/><circle cx="194.8" cy="493.0" r="2.3"/><circle cx="174.9" cy="541.7" r="2.3"/><circle cx="188.5" cy="493.7" r="2.3"/><circle cx="171.7" cy="530.6" r="2.3"/><circle cx="175.0" cy="445.6" r="2.3"/><circle cx="195.1" cy="516.8" r="2.3"/><circle cx="169.5" cy="437.4" r="2.3"/><circle cx="199.8" cy="525.4" r="2.3"/><circle cx="175.2" cy="534.6" r="2.3"/><circle cx="171.7" cy="454.2" r="2.3"/><circle cx="206.1" cy="489.7" r="2.3"/><circle cx="194.0" cy="519.0" r="2.3"/><circle cx="184.9" cy="499.7" r="2.3"/><circle cx="173.8" cy="523.7" r="2.3"/><circle cx="187.4" cy="513.8" r="2.3"/><circle cx="179.5" cy="502.8" r="2.3"/><circle cx="197.3" cy="462.3" r="2.3"/><circle cx="191.8" cy="535.5" r="2.3"/><circle cx="176.2" cy="484.2" r="2.3"/><circle cx="169.4" cy="492.9" r="2.3"/><circle cx="201.1" cy="512.4" r="2.3"/><circle cx="179.6" cy="457.7" r="2.3"/><circle cx="195.8" cy="495.4" r="2.3"/><circle cx="195.7" cy="513.4" r="2.3"/><circle cx="223.8" cy="515.9" r="2.3"/><circle cx="229.5" cy="515.0" r="2.3"/><circle cx="188.2" cy="511.7" r="2.3"/><circle cx="203.7" cy="538.8" r="2.3"/><circle cx="202.4" cy="521.8" r="2.3"/><circle cx="203.4" cy="533.4" r="2.3"/><circle cx="206.4" cy="505.7" r="2.3"/><circle cx="200.2" cy="535.2" r="2.3"/><circle cx="177.3" cy="445.0" r="2.3"/><circle cx="202.0" cy="520.0" r="2.3"/><circle cx="171.3" cy="536.1" r="2.3"/><circle cx="180.4" cy="522.1" r="2.3"/><circle cx="189.0" cy="529.3" r="2.3"/><circle cx="197.9" cy="525.7" r="2.3"/><circle cx="220.0" cy="509.0" r="2.3"/><circle cx="195.5" cy="534.4" r="2.3"/><circle cx="184.7" cy="526.5" r="2.3"/><circle cx="174.7" cy="449.8" r="2.3"/><circle cx="173.1" cy="526.5" r="2.3"/><circle cx="189.4" cy="537.9" r="2.3"/><circle cx="192.9" cy="517.8" r="2.3"/><circle cx="198.9" cy="537.5" r="2.3"/><circle cx="192.0" cy="490.0" r="2.3"/><circle cx="193.5" cy="501.1" r="2.3"/><circle cx="177.4" cy="535.9" r="2.3"/><circle cx="236.1" cy="493.8" r="2.3"/><circle cx="181.6" cy="514.3" r="2.3"/><circle cx="209.8" cy="467.1" r="2.3"/><circle cx="223.1" cy="504.3" r="2.3"/><circle cx="194.9" cy="495.1" r="2.3"/><circle cx="206.2" cy="527.1" r="2.3"/><circle cx="186.3" cy="516.0" r="2.3"/><circle cx="171.8" cy="498.4" r="2.3"/><circle cx="199.7" cy="540.0" r="2.3"/><circle cx="192.6" cy="539.8" r="2.3"/><circle cx="194.7" cy="527.5" r="2.3"/><circle cx="246.9" cy="498.5" r="2.3"/><circle cx="194.1" cy="522.3" r="2.3"/><circle cx="178.7" cy="520.6" r="2.3"/><circle cx="207.4" cy="511.2" r="2.3"/><circle cx="203.4" cy="524.3" r="2.3"/><circle cx="180.8" cy="482.3" r="2.3"/><circle cx="173.1" cy="489.0" r="2.3"/><circle cx="198.6" cy="521.2" r="2.3"/><circle cx="197.6" cy="532.7" r="2.3"/><circle cx="225.1" cy="527.4" r="2.3"/><circle cx="193.4" cy="502.5" r="2.3"/><circle cx="175.7" cy="531.9" r="2.3"/><circle cx="175.8" cy="538.3" r="2.3"/><circle cx="253.3" cy="508.4" r="2.3"/><circle cx="200.5" cy="525.0" r="2.3"/><circle cx="218.1" cy="528.4" r="2.3"/><circle cx="184.6" cy="495.3" r="2.3"/><circle cx="246.0" cy="467.7" r="2.3"/><circle cx="176.3" cy="500.9" r="2.3"/><circle cx="172.9" cy="507.9" r="2.3"/><circle cx="197.1" cy="502.1" r="2.3"/><circle cx="179.4" cy="524.1" r="2.3"/><circle cx="192.4" cy="535.9" r="2.3"/><circle cx="177.7" cy="487.3" r="2.3"/><circle cx="176.5" cy="535.0" r="2.3"/><circle cx="188.8" cy="479.8" r="2.3"/><circle cx="188.7" cy="539.7" r="2.3"/><circle cx="180.9" cy="497.8" r="2.3"/><circle cx="196.3" cy="491.8" r="2.3"/><circle cx="204.1" cy="539.6" r="2.3"/><circle cx="172.1" cy="513.9" r="2.3"/><circle cx="202.1" cy="513.2" r="2.3"/><circle cx="170.1" cy="522.7" r="2.3"/><circle cx="173.0" cy="509.4" r="2.3"/><circle cx="175.7" cy="537.9" r="2.3"/><circle cx="196.1" cy="537.9" r="2.3"/><circle cx="169.5" cy="517.7" r="2.3"/><circle cx="171.4" cy="501.6" r="2.3"/><circle cx="210.4" cy="533.5" r="2.3"/><circle cx="190.8" cy="500.2" r="2.3"/><circle cx="199.2" cy="519.2" r="2.3"/><circle cx="217.9" cy="503.4" r="2.3"/><circle cx="217.5" cy="499.3" r="2.3"/><circle cx="177.8" cy="473.6" r="2.3"/><circle cx="190.0" cy="479.2" r="2.3"/><circle cx="181.9" cy="496.9" r="2.3"/><circle cx="192.0" cy="530.5" r="2.3"/><circle cx="193.0" cy="510.6" r="2.3"/><circle cx="171.1" cy="514.3" r="2.3"/><circle cx="170.9" cy="470.3" r="2.3"/><circle cx="189.2" cy="505.1" r="2.3"/><circle cx="215.0" cy="457.6" r="2.3"/><circle cx="175.7" cy="450.5" r="2.3"/><circle cx="174.6" cy="442.5" r="2.3"/><circle cx="209.5" cy="522.0" r="2.3"/><circle cx="185.4" cy="525.5" r="2.3"/><circle cx="189.7" cy="504.9" r="2.3"/><circle cx="171.5" cy="483.0" r="2.3"/><circle cx="196.8" cy="535.4" r="2.3"/><circle cx="209.8" cy="540.0" r="2.3"/><circle cx="182.3" cy="531.7" r="2.3"/><circle cx="183.4" cy="508.4" r="2.3"/><circle cx="198.8" cy="487.6" r="2.3"/><circle cx="201.2" cy="532.3" r="2.3"/><circle cx="196.2" cy="512.7" r="2.3"/><circle cx="176.0" cy="478.0" r="2.3"/><circle cx="169.9" cy="541.5" r="2.3"/><circle cx="198.3" cy="533.4" r="2.3"/><circle cx="208.1" cy="535.3" r="2.3"/><circle cx="204.4" cy="531.2" r="2.3"/><circle cx="83.2" cy="429.4" r="2.3"/><circle cx="130.6" cy="429.4" r="2.3"/><circle cx="116.2" cy="460.7" r="2.3"/><circle cx="91.1" cy="472.2" r="2.3"/><circle cx="96.4" cy="468.5" r="2.3"/><circle cx="101.4" cy="469.7" r="2.3"/><circle cx="109.7" cy="476.8" r="2.3"/><circle cx="115.6" cy="475.3" r="2.3"/><circle cx="94.7" cy="495.8" r="2.3"/><circle cx="99.9" cy="495.6" r="2.3"/><circle cx="101.4" cy="494.1" r="2.3"/><circle cx="106.2" cy="505.2" r="2.3"/><circle cx="76.5" cy="516.7" r="2.3"/><circle cx="105.5" cy="517.1" r="2.3"/><circle cx="110.3" cy="521.7" r="2.3"/><circle cx="93.6" cy="530.3" r="2.3"/><circle cx="113.5" cy="538.0" r="2.3"/><circle cx="112.4" cy="486.8" r="2.3"/><circle cx="109.7" cy="492.0" r="2.3"/><circle cx="98.1" cy="527.0" r="2.3"/><circle cx="90.8" cy="472.0" r="2.3"/><circle cx="170.0" cy="422.0" r="2.3"/><circle cx="172.0" cy="436.0" r="2.3"/><circle cx="249.6" cy="457.0" r="2.3"/><circle cx="252.5" cy="462.8" r="2.3"/><circle cx="238.0" cy="462.0" r="2.3"/><circle cx="244.8" cy="449.5" r="2.3"/><circle cx="258.0" cy="520.5" r="2.3"/><circle cx="255.5" cy="538.0" r="2.3"/><circle cx="250.0" cy="529.0" r="2.3"/><circle cx="247.0" cy="497.5" r="2.3"/><circle cx="224.0" cy="450.5" r="2.3"/><circle cx="213.0" cy="447.0" r="2.3"/><circle cx="203.0" cy="444.5" r="2.3"/><circle cx="192.5" cy="452.0" r="2.3"/></g>
</g>
<g clip-path="url(#pc1)">
<path d="M382.79999999999995 542.3 L382.79999999999995 473 C384.4 470 388.4 469.5 391.4 470 C393.4 469.5 395.5 469.5 396.4 471 L398.0 482 L400.2 492 L402.4 482 L404.6 468 C405.5 466 407.5 465.5 409.5 465.8 C411 466 412.5 466.5 414.20000000000005 467.5 L414.20000000000005 542.3 Z" fill="#f8e5c6"/>
<g fill="none" stroke="#f6dfbb" stroke-width="0.9" filter="url(#pblur)"><circle cx="391.9" cy="474.4" r="2.3"/><circle cx="393.7" cy="470.0" r="2.3"/><circle cx="391.6" cy="474.2" r="2.3"/><circle cx="390.6" cy="469.1" r="2.3"/><circle cx="385.4" cy="474.8" r="2.3"/><circle cx="385.1" cy="472.1" r="2.3"/><circle cx="389.9" cy="470.2" r="2.3"/><circle cx="387.9" cy="469.1" r="2.3"/><circle cx="389.5" cy="474.0" r="2.3"/><circle cx="387.1" cy="470.7" r="2.3"/><circle cx="403.0" cy="470.4" r="2.3"/><circle cx="410.3" cy="469.9" r="2.3"/><circle cx="411.2" cy="468.0" r="2.3"/><circle cx="409.3" cy="468.2" r="2.3"/><circle cx="404.2" cy="472.6" r="2.3"/><circle cx="411.2" cy="472.4" r="2.3"/><circle cx="407.8" cy="473.9" r="2.3"/><circle cx="404.9" cy="470.5" r="2.3"/><circle cx="407.4" cy="474.0" r="2.3"/><circle cx="408.0" cy="470.6" r="2.3"/><circle cx="386.0" cy="446.7" r="2.3"/><circle cx="408.7" cy="456.8" r="2.3"/><circle cx="411.2" cy="459.5" r="2.3"/><circle cx="389.5" cy="461.0" r="2.3"/></g>
<path d="M382.7 542.3 L414.3 542.3 L414 560 C412 570 405 578.5 399.0 578.5 C392.5 578.5 386 570 384 560 Z" fill="#bdbdbd"/>
<path d="M414.90000000000003 542.3 L426 542.3 C426 552 423 562 414.90000000000003 570 Z" fill="#bccbe6"/>
<g fill="none" stroke="#a9bfe2" stroke-width="0.95" filter="url(#pblur)"><circle cx="361.9" cy="550.1" r="2.3"/><circle cx="364.0" cy="553.1" r="2.3"/><circle cx="374.9" cy="550.9" r="2.3"/><circle cx="372.5" cy="561.9" r="2.3"/><circle cx="380.6" cy="547.2" r="2.3"/><circle cx="362.2" cy="547.2" r="2.3"/><circle cx="371.1" cy="552.8" r="2.3"/><circle cx="381.8" cy="545.9" r="2.3"/><circle cx="364.2" cy="549.5" r="2.3"/><circle cx="370.8" cy="554.7" r="2.3"/><circle cx="359.3" cy="552.4" r="2.3"/><circle cx="365.9" cy="548.2" r="2.3"/><circle cx="371.9" cy="555.4" r="2.3"/><circle cx="372.1" cy="562.8" r="2.3"/><circle cx="378.1" cy="545.0" r="2.3"/><circle cx="371.9" cy="546.6" r="2.3"/><circle cx="381.7" cy="549.1" r="2.3"/><circle cx="377.8" cy="553.1" r="2.3"/><circle cx="372.4" cy="553.9" r="2.3"/><circle cx="380.8" cy="548.2" r="2.3"/><circle cx="368.2" cy="549.7" r="2.3"/><circle cx="370.4" cy="558.8" r="2.3"/><circle cx="363.0" cy="556.8" r="2.3"/><circle cx="381.9" cy="548.8" r="2.3"/><circle cx="378.7" cy="550.4" r="2.3"/><circle cx="375.1" cy="543.9" r="2.3"/><circle cx="380.6" cy="548.5" r="2.3"/><circle cx="364.7" cy="550.2" r="2.3"/><circle cx="416.5" cy="544.2" r="2.3"/><circle cx="427.6" cy="566.9" r="2.3"/><circle cx="415.5" cy="554.7" r="2.3"/><circle cx="419.7" cy="559.7" r="2.3"/><circle cx="421.2" cy="570.5" r="2.3"/><circle cx="418.2" cy="546.5" r="2.3"/><circle cx="416.2" cy="568.2" r="2.3"/><circle cx="417.0" cy="565.8" r="2.3"/><circle cx="422.7" cy="561.0" r="2.3"/><circle cx="426.8" cy="545.5" r="2.3"/><circle cx="419.1" cy="554.7" r="2.3"/><circle cx="418.0" cy="546.1" r="2.3"/><circle cx="432.7" cy="544.9" r="2.3"/><circle cx="415.3" cy="552.3" r="2.3"/><circle cx="417.3" cy="545.7" r="2.3"/><circle cx="438.0" cy="548.0" r="2.3"/><circle cx="418.4" cy="545.0" r="2.3"/><circle cx="416.9" cy="547.4" r="2.3"/><circle cx="425.1" cy="546.4" r="2.3"/><circle cx="424.0" cy="551.2" r="2.3"/><circle cx="424.0" cy="550.2" r="2.3"/><circle cx="430.2" cy="550.8" r="2.3"/><circle cx="418.3" cy="551.6" r="2.3"/><circle cx="416.4" cy="547.7" r="2.3"/><circle cx="422.4" cy="573.5" r="2.3"/><circle cx="422.2" cy="573.8" r="2.3"/><circle cx="415.3" cy="552.7" r="2.3"/><circle cx="421.3" cy="556.4" r="2.3"/><circle cx="416.5" cy="545.7" r="2.3"/><circle cx="418.1" cy="548.0" r="2.3"/><circle cx="430.3" cy="561.6" r="2.3"/><circle cx="421.3" cy="552.9" r="2.3"/><circle cx="423.7" cy="553.9" r="2.3"/><circle cx="422.4" cy="548.3" r="2.3"/><circle cx="422.4" cy="549.9" r="2.3"/><circle cx="442.0" cy="557.0" r="2.3"/><circle cx="429.2" cy="554.3" r="2.3"/><circle cx="419.3" cy="568.7" r="2.3"/><circle cx="439.8" cy="553.1" r="2.3"/><circle cx="422.0" cy="558.2" r="2.3"/><circle cx="425.7" cy="555.1" r="2.3"/><circle cx="423.9" cy="552.3" r="2.3"/><circle cx="420.5" cy="559.7" r="2.3"/><circle cx="426.9" cy="559.5" r="2.3"/><circle cx="417.2" cy="560.7" r="2.3"/><circle cx="415.0" cy="559.4" r="2.3"/><circle cx="437.6" cy="548.5" r="2.3"/><circle cx="416.0" cy="548.8" r="2.3"/><circle cx="422.2" cy="553.8" r="2.3"/><circle cx="415.7" cy="565.2" r="2.3"/><circle cx="423.9" cy="553.9" r="2.3"/><circle cx="415.3" cy="561.8" r="2.3"/><circle cx="422.1" cy="547.5" r="2.3"/><circle cx="417.6" cy="544.6" r="2.3"/><circle cx="425.2" cy="545.5" r="2.3"/><circle cx="416.5" cy="552.0" r="2.3"/><circle cx="421.5" cy="556.3" r="2.3"/><circle cx="418.5" cy="548.0" r="2.3"/><circle cx="417.4" cy="569.9" r="2.3"/><circle cx="421.5" cy="561.9" r="2.3"/><circle cx="440.7" cy="546.5" r="2.3"/><circle cx="419.9" cy="565.9" r="2.3"/><circle cx="418.1" cy="573.2" r="2.3"/><circle cx="462.9" cy="559.3" r="2.3"/><circle cx="419.8" cy="547.0" r="2.3"/><circle cx="421.1" cy="561.2" r="2.3"/><circle cx="420.8" cy="549.8" r="2.3"/><circle cx="427.8" cy="557.3" r="2.3"/><circle cx="425.4" cy="546.9" r="2.3"/><circle cx="423.4" cy="561.8" r="2.3"/><circle cx="428.8" cy="544.3" r="2.3"/><circle cx="423.7" cy="546.4" r="2.3"/><circle cx="424.9" cy="563.2" r="2.3"/><circle cx="423.4" cy="543.9" r="2.3"/><circle cx="425.7" cy="544.3" r="2.3"/><circle cx="420.8" cy="573.1" r="2.3"/><circle cx="424.7" cy="549.9" r="2.3"/><circle cx="414.9" cy="551.3" r="2.3"/><circle cx="417.4" cy="562.3" r="2.3"/><circle cx="420.9" cy="556.0" r="2.3"/><circle cx="421.7" cy="560.8" r="2.3"/><circle cx="423.4" cy="546.7" r="2.3"/><circle cx="424.2" cy="558.9" r="2.3"/><circle cx="415.0" cy="562.8" r="2.3"/><circle cx="426.5" cy="549.2" r="2.3"/><circle cx="416.1" cy="547.8" r="2.3"/><circle cx="415.6" cy="544.0" r="2.3"/><circle cx="423.6" cy="549.4" r="2.3"/><circle cx="415.3" cy="553.0" r="2.3"/><circle cx="453.5" cy="565.0" r="2.3"/><circle cx="417.3" cy="549.6" r="2.3"/><circle cx="417.7" cy="571.5" r="2.3"/><circle cx="415.3" cy="562.6" r="2.3"/><circle cx="420.0" cy="553.8" r="2.3"/><circle cx="422.1" cy="562.5" r="2.3"/><circle cx="417.8" cy="544.2" r="2.3"/><circle cx="415.3" cy="562.9" r="2.3"/><circle cx="420.5" cy="550.7" r="2.3"/><circle cx="437.0" cy="551.3" r="2.3"/><circle cx="422.4" cy="544.6" r="2.3"/><circle cx="420.2" cy="556.7" r="2.3"/><circle cx="434.7" cy="560.0" r="2.3"/><circle cx="416.6" cy="544.0" r="2.3"/><circle cx="418.1" cy="550.9" r="2.3"/><circle cx="427.5" cy="547.5" r="2.3"/><circle cx="415.8" cy="570.8" r="2.3"/><circle cx="415.5" cy="555.9" r="2.3"/><circle cx="428.8" cy="545.3" r="2.3"/><circle cx="415.7" cy="554.4" r="2.3"/><circle cx="422.2" cy="550.2" r="2.3"/><circle cx="352.0" cy="557.4" r="2.3"/><circle cx="478.5" cy="563.0" r="2.3"/><circle cx="495.0" cy="545.5" r="2.3"/><circle cx="470.5" cy="551.0" r="2.3"/><circle cx="446.0" cy="546.5" r="2.3"/><circle cx="338.5" cy="560.5" r="2.3"/></g>
<path d="M414.90000000000003 542.3 L414.90000000000003 482 C418 484 423 490 426 498 C429 508 430 525 428 542.3 Z" fill="#a193d0"/>
<path d="M382.09999999999997 541.8 L382.09999999999997 478 C380 481 377 487 375 494 C372.5 504 371 516 371.5 541.8 Z" fill="#a395d0"/>
<g fill="none" stroke="#7d6abd" stroke-width="0.95" filter="url(#pblur)"><circle cx="381.3" cy="482.7" r="2.3"/><circle cx="371.7" cy="530.9" r="2.3"/><circle cx="375.0" cy="510.5" r="2.3"/><circle cx="376.0" cy="498.0" r="2.3"/><circle cx="375.5" cy="504.1" r="2.3"/><circle cx="380.4" cy="492.9" r="2.3"/><circle cx="377.5" cy="500.4" r="2.3"/><circle cx="373.7" cy="540.1" r="2.3"/><circle cx="378.1" cy="483.1" r="2.3"/><circle cx="378.5" cy="476.1" r="2.3"/><circle cx="377.8" cy="500.3" r="2.3"/><circle cx="373.0" cy="509.6" r="2.3"/><circle cx="369.1" cy="485.9" r="2.3"/><circle cx="371.2" cy="491.5" r="2.3"/><circle cx="374.8" cy="529.0" r="2.3"/><circle cx="380.9" cy="512.0" r="2.3"/><circle cx="371.3" cy="505.8" r="2.3"/><circle cx="372.5" cy="495.5" r="2.3"/><circle cx="381.3" cy="515.4" r="2.3"/><circle cx="365.2" cy="535.1" r="2.3"/><circle cx="362.2" cy="507.4" r="2.3"/><circle cx="377.0" cy="498.0" r="2.3"/><circle cx="366.2" cy="520.2" r="2.3"/><circle cx="379.0" cy="482.7" r="2.3"/><circle cx="365.8" cy="537.3" r="2.3"/><circle cx="378.1" cy="531.7" r="2.3"/><circle cx="372.7" cy="501.7" r="2.3"/><circle cx="381.0" cy="483.0" r="2.3"/><circle cx="377.9" cy="504.4" r="2.3"/><circle cx="375.3" cy="528.7" r="2.3"/><circle cx="372.6" cy="525.7" r="2.3"/><circle cx="374.1" cy="532.9" r="2.3"/><circle cx="367.0" cy="525.5" r="2.3"/><circle cx="370.3" cy="510.2" r="2.3"/><circle cx="377.2" cy="521.4" r="2.3"/><circle cx="369.3" cy="505.5" r="2.3"/><circle cx="373.7" cy="480.7" r="2.3"/><circle cx="377.6" cy="498.3" r="2.3"/><circle cx="380.0" cy="528.3" r="2.3"/><circle cx="365.9" cy="502.4" r="2.3"/><circle cx="369.2" cy="497.2" r="2.3"/><circle cx="375.9" cy="523.9" r="2.3"/><circle cx="374.6" cy="525.8" r="2.3"/><circle cx="378.1" cy="496.2" r="2.3"/><circle cx="373.4" cy="520.9" r="2.3"/><circle cx="365.6" cy="508.3" r="2.3"/><circle cx="373.8" cy="514.2" r="2.3"/><circle cx="370.3" cy="508.9" r="2.3"/><circle cx="373.7" cy="488.5" r="2.3"/><circle cx="365.0" cy="531.4" r="2.3"/><circle cx="376.4" cy="540.0" r="2.3"/><circle cx="371.6" cy="541.4" r="2.3"/><circle cx="378.0" cy="502.5" r="2.3"/><circle cx="368.3" cy="529.7" r="2.3"/><circle cx="381.3" cy="530.6" r="2.3"/><circle cx="378.9" cy="536.3" r="2.3"/><circle cx="355.0" cy="536.8" r="2.3"/><circle cx="379.8" cy="500.8" r="2.3"/><circle cx="366.3" cy="525.4" r="2.3"/><circle cx="372.7" cy="513.7" r="2.3"/><circle cx="370.2" cy="507.7" r="2.3"/><circle cx="372.6" cy="539.5" r="2.3"/><circle cx="371.7" cy="509.8" r="2.3"/><circle cx="380.6" cy="516.5" r="2.3"/><circle cx="373.0" cy="492.9" r="2.3"/><circle cx="378.9" cy="515.3" r="2.3"/><circle cx="375.2" cy="541.8" r="2.3"/><circle cx="381.8" cy="507.3" r="2.3"/><circle cx="376.7" cy="493.5" r="2.3"/><circle cx="367.7" cy="480.5" r="2.3"/><circle cx="372.0" cy="523.2" r="2.3"/><circle cx="377.3" cy="496.4" r="2.3"/><circle cx="380.2" cy="500.2" r="2.3"/><circle cx="373.1" cy="532.5" r="2.3"/><circle cx="376.4" cy="530.8" r="2.3"/><circle cx="380.8" cy="481.7" r="2.3"/><circle cx="377.6" cy="492.9" r="2.3"/><circle cx="369.7" cy="523.3" r="2.3"/><circle cx="377.9" cy="508.1" r="2.3"/><circle cx="377.2" cy="539.9" r="2.3"/><circle cx="349.6" cy="541.1" r="2.3"/><circle cx="363.4" cy="492.9" r="2.3"/><circle cx="363.3" cy="520.1" r="2.3"/><circle cx="375.4" cy="528.5" r="2.3"/><circle cx="362.7" cy="489.2" r="2.3"/><circle cx="377.5" cy="520.9" r="2.3"/><circle cx="375.6" cy="522.9" r="2.3"/><circle cx="372.9" cy="513.7" r="2.3"/><circle cx="373.2" cy="517.7" r="2.3"/><circle cx="377.1" cy="499.0" r="2.3"/><circle cx="370.7" cy="520.6" r="2.3"/><circle cx="381.2" cy="519.3" r="2.3"/><circle cx="373.1" cy="487.7" r="2.3"/><circle cx="379.9" cy="499.7" r="2.3"/><circle cx="368.7" cy="513.6" r="2.3"/><circle cx="372.8" cy="493.7" r="2.3"/><circle cx="376.4" cy="510.4" r="2.3"/><circle cx="376.4" cy="514.8" r="2.3"/><circle cx="368.6" cy="501.3" r="2.3"/><circle cx="372.6" cy="520.5" r="2.3"/><circle cx="376.2" cy="512.7" r="2.3"/><circle cx="377.4" cy="508.1" r="2.3"/><circle cx="379.0" cy="511.9" r="2.3"/><circle cx="378.7" cy="495.4" r="2.3"/><circle cx="369.4" cy="530.7" r="2.3"/><circle cx="374.6" cy="495.8" r="2.3"/><circle cx="379.1" cy="495.3" r="2.3"/><circle cx="377.2" cy="490.0" r="2.3"/><circle cx="360.3" cy="506.0" r="2.3"/><circle cx="378.5" cy="536.5" r="2.3"/><circle cx="375.4" cy="486.6" r="2.3"/><circle cx="377.2" cy="517.8" r="2.3"/><circle cx="381.7" cy="489.3" r="2.3"/><circle cx="369.1" cy="496.1" r="2.3"/><circle cx="379.8" cy="482.1" r="2.3"/><circle cx="380.6" cy="503.6" r="2.3"/><circle cx="377.4" cy="500.9" r="2.3"/><circle cx="373.2" cy="511.8" r="2.3"/><circle cx="368.4" cy="519.0" r="2.3"/><circle cx="377.1" cy="533.2" r="2.3"/><circle cx="374.5" cy="488.2" r="2.3"/><circle cx="368.0" cy="509.0" r="2.3"/><circle cx="367.8" cy="530.4" r="2.3"/><circle cx="380.1" cy="517.8" r="2.3"/><circle cx="375.6" cy="534.4" r="2.3"/><circle cx="374.4" cy="503.9" r="2.3"/><circle cx="379.5" cy="539.4" r="2.3"/><circle cx="378.1" cy="518.7" r="2.3"/><circle cx="372.9" cy="500.4" r="2.3"/><circle cx="381.6" cy="481.4" r="2.3"/><circle cx="370.3" cy="521.6" r="2.3"/><circle cx="364.3" cy="522.0" r="2.3"/><circle cx="370.1" cy="521.8" r="2.3"/><circle cx="373.3" cy="502.6" r="2.3"/><circle cx="367.0" cy="517.7" r="2.3"/><circle cx="371.8" cy="515.3" r="2.3"/><circle cx="380.0" cy="492.5" r="2.3"/><circle cx="364.4" cy="529.6" r="2.3"/><circle cx="373.1" cy="488.6" r="2.3"/><circle cx="371.0" cy="535.2" r="2.3"/><circle cx="376.5" cy="474.5" r="2.3"/><circle cx="369.7" cy="503.3" r="2.3"/><circle cx="366.7" cy="520.0" r="2.3"/><circle cx="375.2" cy="483.9" r="2.3"/><circle cx="375.9" cy="503.0" r="2.3"/><circle cx="379.3" cy="483.5" r="2.3"/><circle cx="376.3" cy="483.5" r="2.3"/><circle cx="370.8" cy="507.2" r="2.3"/><circle cx="365.5" cy="526.1" r="2.3"/><circle cx="371.9" cy="537.4" r="2.3"/><circle cx="372.0" cy="482.4" r="2.3"/><circle cx="367.1" cy="521.7" r="2.3"/><circle cx="380.1" cy="537.1" r="2.3"/><circle cx="367.6" cy="495.7" r="2.3"/><circle cx="375.4" cy="507.4" r="2.3"/><circle cx="378.5" cy="531.3" r="2.3"/><circle cx="374.9" cy="538.6" r="2.3"/><circle cx="370.1" cy="498.5" r="2.3"/><circle cx="372.2" cy="516.9" r="2.3"/><circle cx="372.0" cy="479.3" r="2.3"/><circle cx="381.4" cy="492.3" r="2.3"/><circle cx="379.5" cy="504.0" r="2.3"/><circle cx="379.1" cy="503.8" r="2.3"/><circle cx="345.5" cy="514.1" r="2.3"/><circle cx="378.0" cy="479.7" r="2.3"/><circle cx="367.5" cy="521.3" r="2.3"/><circle cx="370.1" cy="494.5" r="2.3"/><circle cx="370.9" cy="520.8" r="2.3"/><circle cx="372.5" cy="529.0" r="2.3"/><circle cx="379.9" cy="484.1" r="2.3"/><circle cx="376.3" cy="498.6" r="2.3"/><circle cx="374.2" cy="521.1" r="2.3"/><circle cx="367.3" cy="524.6" r="2.3"/><circle cx="371.3" cy="516.2" r="2.3"/><circle cx="376.1" cy="522.4" r="2.3"/><circle cx="380.0" cy="538.3" r="2.3"/><circle cx="364.9" cy="510.6" r="2.3"/><circle cx="371.1" cy="521.8" r="2.3"/><circle cx="371.8" cy="510.1" r="2.3"/><circle cx="375.6" cy="480.7" r="2.3"/><circle cx="380.9" cy="482.5" r="2.3"/><circle cx="371.7" cy="483.5" r="2.3"/><circle cx="375.4" cy="488.0" r="2.3"/><circle cx="357.2" cy="527.0" r="2.3"/><circle cx="372.4" cy="506.9" r="2.3"/><circle cx="379.9" cy="485.7" r="2.3"/><circle cx="380.2" cy="528.8" r="2.3"/><circle cx="374.1" cy="538.7" r="2.3"/><circle cx="372.5" cy="532.7" r="2.3"/><circle cx="372.7" cy="481.3" r="2.3"/><circle cx="374.3" cy="510.5" r="2.3"/><circle cx="370.8" cy="497.1" r="2.3"/><circle cx="373.3" cy="524.6" r="2.3"/><circle cx="369.2" cy="489.1" r="2.3"/><circle cx="375.6" cy="513.3" r="2.3"/><circle cx="379.5" cy="527.4" r="2.3"/><circle cx="381.7" cy="531.6" r="2.3"/><circle cx="381.1" cy="474.8" r="2.3"/><circle cx="373.1" cy="523.8" r="2.3"/><circle cx="373.5" cy="489.5" r="2.3"/><circle cx="379.4" cy="518.6" r="2.3"/><circle cx="379.6" cy="501.7" r="2.3"/><circle cx="378.9" cy="500.6" r="2.3"/><circle cx="365.2" cy="522.7" r="2.3"/><circle cx="376.6" cy="488.0" r="2.3"/><circle cx="372.2" cy="510.1" r="2.3"/><circle cx="379.8" cy="494.6" r="2.3"/><circle cx="372.3" cy="497.2" r="2.3"/><circle cx="378.9" cy="496.2" r="2.3"/><circle cx="369.7" cy="494.0" r="2.3"/><circle cx="372.6" cy="506.8" r="2.3"/><circle cx="379.0" cy="536.4" r="2.3"/><circle cx="374.3" cy="517.3" r="2.3"/><circle cx="369.9" cy="486.4" r="2.3"/><circle cx="370.6" cy="501.3" r="2.3"/><circle cx="377.4" cy="508.1" r="2.3"/><circle cx="378.3" cy="529.6" r="2.3"/><circle cx="381.1" cy="489.1" r="2.3"/><circle cx="374.9" cy="511.0" r="2.3"/><circle cx="374.2" cy="537.9" r="2.3"/><circle cx="357.4" cy="520.0" r="2.3"/><circle cx="381.0" cy="504.4" r="2.3"/><circle cx="361.6" cy="518.0" r="2.3"/><circle cx="367.8" cy="539.0" r="2.3"/><circle cx="381.8" cy="541.6" r="2.3"/><circle cx="440.5" cy="495.1" r="2.3"/><circle cx="421.6" cy="457.8" r="2.3"/><circle cx="436.7" cy="502.4" r="2.3"/><circle cx="457.3" cy="508.8" r="2.3"/><circle cx="442.3" cy="514.1" r="2.3"/><circle cx="416.6" cy="529.7" r="2.3"/><circle cx="419.0" cy="487.9" r="2.3"/><circle cx="456.0" cy="490.4" r="2.3"/><circle cx="430.3" cy="503.3" r="2.3"/><circle cx="424.6" cy="535.7" r="2.3"/><circle cx="425.7" cy="535.4" r="2.3"/><circle cx="448.1" cy="497.9" r="2.3"/><circle cx="426.8" cy="506.3" r="2.3"/><circle cx="455.9" cy="496.5" r="2.3"/><circle cx="417.5" cy="531.3" r="2.3"/><circle cx="435.6" cy="509.1" r="2.3"/><circle cx="426.7" cy="529.2" r="2.3"/><circle cx="429.4" cy="523.3" r="2.3"/><circle cx="428.3" cy="493.4" r="2.3"/><circle cx="438.6" cy="535.8" r="2.3"/><circle cx="443.0" cy="494.6" r="2.3"/><circle cx="441.0" cy="487.1" r="2.3"/><circle cx="433.5" cy="489.3" r="2.3"/><circle cx="451.2" cy="505.2" r="2.3"/><circle cx="452.1" cy="495.6" r="2.3"/><circle cx="442.8" cy="505.5" r="2.3"/><circle cx="465.0" cy="462.3" r="2.3"/><circle cx="464.2" cy="497.5" r="2.3"/><circle cx="432.1" cy="496.2" r="2.3"/><circle cx="430.0" cy="523.9" r="2.3"/><circle cx="433.2" cy="534.3" r="2.3"/><circle cx="426.2" cy="521.6" r="2.3"/><circle cx="433.5" cy="517.6" r="2.3"/><circle cx="452.5" cy="515.8" r="2.3"/><circle cx="442.5" cy="485.6" r="2.3"/><circle cx="423.3" cy="461.4" r="2.3"/><circle cx="418.7" cy="495.5" r="2.3"/><circle cx="435.3" cy="497.4" r="2.3"/><circle cx="419.0" cy="498.1" r="2.3"/><circle cx="422.7" cy="537.7" r="2.3"/><circle cx="492.3" cy="516.5" r="2.3"/><circle cx="494.2" cy="538.1" r="2.3"/><circle cx="437.7" cy="534.8" r="2.3"/><circle cx="431.7" cy="533.9" r="2.3"/><circle cx="428.5" cy="496.0" r="2.3"/><circle cx="441.3" cy="538.1" r="2.3"/><circle cx="417.2" cy="521.7" r="2.3"/><circle cx="432.0" cy="519.3" r="2.3"/><circle cx="432.7" cy="488.7" r="2.3"/><circle cx="423.6" cy="513.2" r="2.3"/><circle cx="467.9" cy="526.5" r="2.3"/><circle cx="441.5" cy="493.3" r="2.3"/><circle cx="445.7" cy="485.6" r="2.3"/><circle cx="441.2" cy="501.7" r="2.3"/><circle cx="427.6" cy="478.8" r="2.3"/><circle cx="433.5" cy="513.2" r="2.3"/><circle cx="441.7" cy="536.8" r="2.3"/><circle cx="417.4" cy="491.8" r="2.3"/><circle cx="416.2" cy="500.9" r="2.3"/><circle cx="430.2" cy="478.3" r="2.3"/><circle cx="428.8" cy="498.3" r="2.3"/><circle cx="428.3" cy="525.4" r="2.3"/><circle cx="454.0" cy="499.8" r="2.3"/><circle cx="428.6" cy="505.7" r="2.3"/><circle cx="443.1" cy="501.0" r="2.3"/><circle cx="436.5" cy="515.9" r="2.3"/><circle cx="427.6" cy="538.6" r="2.3"/><circle cx="431.7" cy="493.5" r="2.3"/><circle cx="452.4" cy="521.3" r="2.3"/><circle cx="435.2" cy="471.7" r="2.3"/><circle cx="442.5" cy="489.8" r="2.3"/><circle cx="447.1" cy="537.7" r="2.3"/><circle cx="423.5" cy="503.9" r="2.3"/><circle cx="422.7" cy="492.2" r="2.3"/><circle cx="475.2" cy="494.2" r="2.3"/><circle cx="421.5" cy="517.3" r="2.3"/><circle cx="438.3" cy="522.5" r="2.3"/><circle cx="432.4" cy="487.1" r="2.3"/><circle cx="430.7" cy="498.2" r="2.3"/><circle cx="422.2" cy="512.2" r="2.3"/><circle cx="417.5" cy="500.2" r="2.3"/><circle cx="451.1" cy="533.6" r="2.3"/><circle cx="424.8" cy="536.6" r="2.3"/><circle cx="423.8" cy="524.0" r="2.3"/><circle cx="418.2" cy="498.5" r="2.3"/><circle cx="418.7" cy="538.0" r="2.3"/><circle cx="424.5" cy="512.4" r="2.3"/><circle cx="415.8" cy="511.7" r="2.3"/><circle cx="417.7" cy="536.7" r="2.3"/><circle cx="440.3" cy="512.2" r="2.3"/><circle cx="431.6" cy="516.4" r="2.3"/><circle cx="442.9" cy="527.7" r="2.3"/><circle cx="435.1" cy="536.7" r="2.3"/><circle cx="439.4" cy="497.4" r="2.3"/><circle cx="420.7" cy="517.6" r="2.3"/><circle cx="471.9" cy="488.4" r="2.3"/><circle cx="432.2" cy="481.6" r="2.3"/><circle cx="426.6" cy="507.3" r="2.3"/><circle cx="422.1" cy="523.9" r="2.3"/><circle cx="433.6" cy="535.1" r="2.3"/><circle cx="426.2" cy="492.9" r="2.3"/><circle cx="421.0" cy="517.9" r="2.3"/><circle cx="440.0" cy="504.1" r="2.3"/><circle cx="421.3" cy="514.0" r="2.3"/><circle cx="435.4" cy="519.5" r="2.3"/><circle cx="442.8" cy="503.9" r="2.3"/><circle cx="423.5" cy="502.4" r="2.3"/><circle cx="440.2" cy="538.4" r="2.3"/><circle cx="425.1" cy="495.7" r="2.3"/><circle cx="453.2" cy="528.8" r="2.3"/><circle cx="420.9" cy="490.0" r="2.3"/><circle cx="454.7" cy="478.1" r="2.3"/><circle cx="441.0" cy="539.5" r="2.3"/><circle cx="418.8" cy="530.9" r="2.3"/><circle cx="447.2" cy="494.8" r="2.3"/><circle cx="419.0" cy="519.5" r="2.3"/><circle cx="416.1" cy="534.8" r="2.3"/><circle cx="424.6" cy="541.6" r="2.3"/><circle cx="430.0" cy="483.1" r="2.3"/><circle cx="461.7" cy="541.5" r="2.3"/><circle cx="455.1" cy="483.2" r="2.3"/><circle cx="429.8" cy="487.8" r="2.3"/><circle cx="416.9" cy="490.0" r="2.3"/><circle cx="430.5" cy="485.0" r="2.3"/><circle cx="473.0" cy="500.9" r="2.3"/><circle cx="433.4" cy="514.1" r="2.3"/><circle cx="425.6" cy="509.1" r="2.3"/><circle cx="445.1" cy="517.8" r="2.3"/><circle cx="420.4" cy="526.9" r="2.3"/><circle cx="452.6" cy="535.0" r="2.3"/><circle cx="446.0" cy="520.1" r="2.3"/><circle cx="415.8" cy="489.9" r="2.3"/><circle cx="419.6" cy="476.2" r="2.3"/><circle cx="438.5" cy="524.0" r="2.3"/><circle cx="427.0" cy="520.8" r="2.3"/><circle cx="435.1" cy="510.7" r="2.3"/><circle cx="418.4" cy="517.8" r="2.3"/><circle cx="447.9" cy="488.9" r="2.3"/><circle cx="469.6" cy="491.5" r="2.3"/><circle cx="453.8" cy="507.4" r="2.3"/><circle cx="444.6" cy="522.8" r="2.3"/><circle cx="434.1" cy="523.1" r="2.3"/><circle cx="433.1" cy="536.9" r="2.3"/><circle cx="453.9" cy="506.2" r="2.3"/><circle cx="426.1" cy="525.7" r="2.3"/><circle cx="451.3" cy="491.9" r="2.3"/><circle cx="440.6" cy="532.2" r="2.3"/><circle cx="476.5" cy="496.3" r="2.3"/><circle cx="422.3" cy="471.5" r="2.3"/><circle cx="437.7" cy="503.3" r="2.3"/><circle cx="429.8" cy="516.0" r="2.3"/><circle cx="423.5" cy="473.6" r="2.3"/><circle cx="432.7" cy="527.2" r="2.3"/><circle cx="437.2" cy="474.4" r="2.3"/><circle cx="439.5" cy="506.9" r="2.3"/><circle cx="425.7" cy="488.1" r="2.3"/><circle cx="429.1" cy="514.3" r="2.3"/><circle cx="454.9" cy="509.6" r="2.3"/><circle cx="432.0" cy="524.4" r="2.3"/><circle cx="430.2" cy="536.5" r="2.3"/><circle cx="436.8" cy="538.6" r="2.3"/><circle cx="423.5" cy="531.8" r="2.3"/><circle cx="435.0" cy="525.7" r="2.3"/><circle cx="510.9" cy="479.8" r="2.3"/><circle cx="418.0" cy="535.9" r="2.3"/><circle cx="427.0" cy="498.3" r="2.3"/><circle cx="430.5" cy="482.0" r="2.3"/><circle cx="435.0" cy="492.4" r="2.3"/><circle cx="417.8" cy="479.7" r="2.3"/><circle cx="424.4" cy="534.3" r="2.3"/><circle cx="433.2" cy="484.8" r="2.3"/><circle cx="430.6" cy="479.9" r="2.3"/><circle cx="494.2" cy="515.7" r="2.3"/><circle cx="435.6" cy="499.0" r="2.3"/><circle cx="428.4" cy="481.6" r="2.3"/><circle cx="443.6" cy="503.5" r="2.3"/><circle cx="430.6" cy="535.3" r="2.3"/><circle cx="424.0" cy="455.9" r="2.3"/><circle cx="432.5" cy="504.9" r="2.3"/><circle cx="438.4" cy="481.0" r="2.3"/><circle cx="421.5" cy="508.0" r="2.3"/><circle cx="452.2" cy="536.9" r="2.3"/><circle cx="427.9" cy="479.1" r="2.3"/><circle cx="433.7" cy="510.4" r="2.3"/><circle cx="464.5" cy="511.6" r="2.3"/><circle cx="424.2" cy="480.8" r="2.3"/><circle cx="456.5" cy="511.6" r="2.3"/><circle cx="427.7" cy="501.8" r="2.3"/><circle cx="461.5" cy="539.1" r="2.3"/><circle cx="417.2" cy="482.6" r="2.3"/><circle cx="417.1" cy="470.4" r="2.3"/><circle cx="437.2" cy="501.3" r="2.3"/><circle cx="439.9" cy="522.5" r="2.3"/><circle cx="450.8" cy="534.2" r="2.3"/><circle cx="436.1" cy="458.6" r="2.3"/><circle cx="426.1" cy="522.5" r="2.3"/><circle cx="417.0" cy="487.6" r="2.3"/><circle cx="437.6" cy="530.3" r="2.3"/><circle cx="448.1" cy="526.0" r="2.3"/><circle cx="416.4" cy="469.9" r="2.3"/><circle cx="427.6" cy="512.8" r="2.3"/><circle cx="445.4" cy="510.6" r="2.3"/><circle cx="434.4" cy="532.5" r="2.3"/><circle cx="416.2" cy="495.8" r="2.3"/><circle cx="430.5" cy="511.7" r="2.3"/><circle cx="430.2" cy="490.0" r="2.3"/><circle cx="448.1" cy="530.2" r="2.3"/><circle cx="428.8" cy="481.7" r="2.3"/><circle cx="438.3" cy="499.8" r="2.3"/><circle cx="431.1" cy="480.0" r="2.3"/><circle cx="426.9" cy="505.5" r="2.3"/><circle cx="438.5" cy="503.7" r="2.3"/><circle cx="418.3" cy="481.4" r="2.3"/><circle cx="435.6" cy="503.1" r="2.3"/><circle cx="435.8" cy="535.8" r="2.3"/><circle cx="423.0" cy="497.9" r="2.3"/><circle cx="432.5" cy="464.6" r="2.3"/><circle cx="433.5" cy="541.7" r="2.3"/><circle cx="450.4" cy="493.7" r="2.3"/><circle cx="418.6" cy="504.2" r="2.3"/><circle cx="435.1" cy="515.0" r="2.3"/><circle cx="440.9" cy="511.7" r="2.3"/><circle cx="443.6" cy="496.6" r="2.3"/><circle cx="416.9" cy="495.0" r="2.3"/><circle cx="437.0" cy="479.6" r="2.3"/><circle cx="419.6" cy="534.7" r="2.3"/><circle cx="416.0" cy="538.5" r="2.3"/><circle cx="432.2" cy="526.9" r="2.3"/><circle cx="415.1" cy="514.1" r="2.3"/><circle cx="417.8" cy="508.0" r="2.3"/><circle cx="435.7" cy="522.6" r="2.3"/><circle cx="444.4" cy="521.2" r="2.3"/><circle cx="481.5" cy="503.3" r="2.3"/><circle cx="427.0" cy="498.0" r="2.3"/><circle cx="417.9" cy="482.1" r="2.3"/><circle cx="440.5" cy="507.2" r="2.3"/><circle cx="428.3" cy="479.8" r="2.3"/><circle cx="417.0" cy="521.6" r="2.3"/><circle cx="437.1" cy="526.1" r="2.3"/><circle cx="425.0" cy="502.4" r="2.3"/><circle cx="438.0" cy="490.0" r="2.3"/><circle cx="442.8" cy="534.9" r="2.3"/><circle cx="429.9" cy="520.7" r="2.3"/><circle cx="434.1" cy="527.2" r="2.3"/><circle cx="425.9" cy="517.4" r="2.3"/><circle cx="421.3" cy="535.4" r="2.3"/><circle cx="420.3" cy="491.8" r="2.3"/><circle cx="422.6" cy="528.3" r="2.3"/><circle cx="433.3" cy="475.4" r="2.3"/><circle cx="420.4" cy="498.4" r="2.3"/><circle cx="425.1" cy="477.0" r="2.3"/><circle cx="425.1" cy="535.9" r="2.3"/><circle cx="440.6" cy="497.3" r="2.3"/><circle cx="415.5" cy="482.4" r="2.3"/><circle cx="425.5" cy="538.0" r="2.3"/><circle cx="473.8" cy="491.4" r="2.3"/><circle cx="433.7" cy="528.4" r="2.3"/><circle cx="432.8" cy="482.5" r="2.3"/><circle cx="421.3" cy="471.8" r="2.3"/><circle cx="434.0" cy="540.6" r="2.3"/><circle cx="416.2" cy="473.4" r="2.3"/><circle cx="464.9" cy="509.4" r="2.3"/><circle cx="432.9" cy="496.3" r="2.3"/><circle cx="420.3" cy="498.6" r="2.3"/><circle cx="415.1" cy="508.8" r="2.3"/><circle cx="437.7" cy="501.6" r="2.3"/><circle cx="428.4" cy="540.9" r="2.3"/><circle cx="435.9" cy="495.4" r="2.3"/><circle cx="451.3" cy="529.2" r="2.3"/><circle cx="416.7" cy="499.3" r="2.3"/><circle cx="506.1" cy="512.4" r="2.3"/><circle cx="441.2" cy="533.6" r="2.3"/><circle cx="441.0" cy="527.3" r="2.3"/><circle cx="428.3" cy="509.6" r="2.3"/><circle cx="455.1" cy="526.9" r="2.3"/><circle cx="416.1" cy="519.3" r="2.3"/><circle cx="444.3" cy="533.6" r="2.3"/><circle cx="487.6" cy="496.5" r="2.3"/><circle cx="464.1" cy="486.2" r="2.3"/><circle cx="446.0" cy="488.8" r="2.3"/><circle cx="463.9" cy="508.6" r="2.3"/><circle cx="454.5" cy="507.4" r="2.3"/><circle cx="420.1" cy="530.2" r="2.3"/><circle cx="433.4" cy="482.7" r="2.3"/><circle cx="496.1" cy="531.3" r="2.3"/><circle cx="421.0" cy="487.4" r="2.3"/><circle cx="434.9" cy="478.8" r="2.3"/><circle cx="459.2" cy="499.5" r="2.3"/><circle cx="419.6" cy="522.2" r="2.3"/><circle cx="423.0" cy="525.3" r="2.3"/><circle cx="449.3" cy="519.7" r="2.3"/><circle cx="443.8" cy="503.5" r="2.3"/><circle cx="435.0" cy="472.0" r="2.3"/><circle cx="426.3" cy="485.1" r="2.3"/><circle cx="449.6" cy="499.1" r="2.3"/><circle cx="417.3" cy="500.6" r="2.3"/><circle cx="431.6" cy="530.4" r="2.3"/><circle cx="418.0" cy="494.0" r="2.3"/><circle cx="455.1" cy="525.4" r="2.3"/><circle cx="482.8" cy="500.2" r="2.3"/><circle cx="462.7" cy="517.4" r="2.3"/><circle cx="432.7" cy="474.6" r="2.3"/><circle cx="464.1" cy="541.3" r="2.3"/><circle cx="431.5" cy="520.6" r="2.3"/><circle cx="430.3" cy="533.7" r="2.3"/><circle cx="420.0" cy="507.8" r="2.3"/><circle cx="430.7" cy="514.8" r="2.3"/><circle cx="415.4" cy="529.5" r="2.3"/><circle cx="424.8" cy="517.5" r="2.3"/><circle cx="450.4" cy="526.8" r="2.3"/><circle cx="431.6" cy="504.1" r="2.3"/><circle cx="435.1" cy="491.4" r="2.3"/><circle cx="488.2" cy="504.5" r="2.3"/><circle cx="426.7" cy="491.0" r="2.3"/><circle cx="449.3" cy="511.2" r="2.3"/><circle cx="443.0" cy="497.5" r="2.3"/><circle cx="449.0" cy="510.3" r="2.3"/><circle cx="425.0" cy="509.3" r="2.3"/><circle cx="450.4" cy="535.9" r="2.3"/><circle cx="340.4" cy="447.2" r="2.3"/><circle cx="323.0" cy="489.2" r="2.3"/><circle cx="355.4" cy="483.5" r="2.3"/><circle cx="351.2" cy="493.8" r="2.3"/><circle cx="362.3" cy="480.5" r="2.3"/><circle cx="417.7" cy="446.5" r="2.3"/><circle cx="421.5" cy="446.0" r="2.3"/><circle cx="414.8" cy="440.0" r="2.3"/><circle cx="474.0" cy="452.0" r="2.3"/><circle cx="478.0" cy="451.5" r="2.3"/><circle cx="500.5" cy="467.5" r="2.3"/><circle cx="505.0" cy="480.0" r="2.3"/><circle cx="502.0" cy="505.0" r="2.3"/><circle cx="486.0" cy="534.0" r="2.3"/><circle cx="474.0" cy="542.0" r="2.3"/><circle cx="495.5" cy="522.0" r="2.3"/></g>
</g>
<line x1="133.50" y1="397.50" x2="133.50" y2="581.40" stroke="#2a2a2a" stroke-width="1.25" stroke-dasharray="1.8 2.55"/>
<line x1="168.60" y1="397.50" x2="168.60" y2="581.40" stroke="#2a2a2a" stroke-width="1.25" stroke-dasharray="1.8 2.55"/>
<line x1="53.60" y1="542.30" x2="267.70" y2="542.30" stroke="#2a2a2a" stroke-width="1.25" stroke-dasharray="1.8 2.55"/>
<line x1="53.60" y1="396.80" x2="53.60" y2="582.00" stroke="#000" stroke-width="1.3"/>
<line x1="53.00" y1="581.40" x2="264.70" y2="581.40" stroke="#000" stroke-width="1.3"/>
<line x1="49.40" y1="452.60" x2="53.60" y2="452.60" stroke="#000" stroke-width="1.1"/>
<text x="48.20" y="455.50" font-size="8.2" fill="#111" stroke="#111" stroke-width="0.16" text-anchor="end">5.0</text>
<line x1="49.40" y1="513.05" x2="53.60" y2="513.05" stroke="#000" stroke-width="1.1"/>
<text x="48.20" y="515.95" font-size="8.2" fill="#111" stroke="#111" stroke-width="0.16" text-anchor="end">2.5</text>
<line x1="49.40" y1="573.50" x2="53.60" y2="573.50" stroke="#000" stroke-width="1.1"/>
<text x="48.20" y="576.40" font-size="8.2" fill="#111" stroke="#111" stroke-width="0.16" text-anchor="end">0.0</text>
<line x1="63.40" y1="581.40" x2="63.40" y2="584.70" stroke="#000" stroke-width="1.1"/>
<text x="63.00" y="596.30" font-size="8.2" fill="#111" stroke="#111" stroke-width="0.16" text-anchor="middle">−10</text>
<line x1="107.20" y1="581.40" x2="107.20" y2="584.70" stroke="#000" stroke-width="1.1"/>
<text x="106.80" y="596.30" font-size="8.2" fill="#111" stroke="#111" stroke-width="0.16" text-anchor="middle">−5</text>
<line x1="151.00" y1="581.40" x2="151.00" y2="584.70" stroke="#000" stroke-width="1.1"/>
<text x="151.00" y="596.30" font-size="8.2" fill="#111" stroke="#111" stroke-width="0.16" text-anchor="middle">0</text>
<line x1="194.80" y1="581.40" x2="194.80" y2="584.70" stroke="#000" stroke-width="1.1"/>
<text x="194.80" y="596.30" font-size="8.2" fill="#111" stroke="#111" stroke-width="0.16" text-anchor="middle">5</text>
<line x1="238.60" y1="581.40" x2="238.60" y2="584.70" stroke="#000" stroke-width="1.1"/>
<text x="238.60" y="596.30" font-size="8.2" fill="#111" stroke="#111" stroke-width="0.16" text-anchor="middle">10</text>
<line x1="68.80" y1="542.10" x2="68.80" y2="574.30" stroke="#000" stroke-width="1.1"/>
<line x1="63.50" y1="542.10" x2="74.20" y2="542.10" stroke="#000" stroke-width="1.1"/>
<line x1="63.50" y1="574.30" x2="74.20" y2="574.30" stroke="#000" stroke-width="1.1"/>
<text x="67.20" y="558.20" font-size="6.8" fill="#111" stroke="#111" stroke-width="0.16" text-anchor="middle" textLength="11.50" lengthAdjust="spacingAndGlyphs" transform="rotate(-90 67.20 558.20)">n.s.</text>
<text x="29.60" y="489.60" font-size="10.4" fill="#111" stroke="#111" stroke-width="0.45" text-anchor="middle" textLength="27.50" lengthAdjust="spacingAndGlyphs" transform="rotate(-90 29.60 489.60)">−Log<tspan font-size="7" dy="2.0">10</tspan><tspan dy="-2.0"> P</tspan></text>
<text x="159.30" y="610.20" font-size="9.8" fill="#111" stroke="#111" stroke-width="0.35" text-anchor="middle" textLength="53.80" lengthAdjust="spacingAndGlyphs">Log<tspan font-size="6.5" dy="1.8">2</tspan><tspan dy="-1.8"> fold change</tspan></text>
<line x1="382.40" y1="397.50" x2="382.40" y2="581.40" stroke="#2a2a2a" stroke-width="1.25" stroke-dasharray="1.8 2.55"/>
<line x1="414.60" y1="397.50" x2="414.60" y2="581.40" stroke="#2a2a2a" stroke-width="1.25" stroke-dasharray="1.8 2.55"/>
<line x1="308.60" y1="542.30" x2="515.40" y2="542.30" stroke="#2a2a2a" stroke-width="1.25" stroke-dasharray="1.8 2.55"/>
<line x1="308.60" y1="396.80" x2="308.60" y2="582.00" stroke="#000" stroke-width="1.3"/>
<line x1="308.00" y1="581.40" x2="512.40" y2="581.40" stroke="#000" stroke-width="1.3"/>
<line x1="304.40" y1="452.60" x2="308.60" y2="452.60" stroke="#000" stroke-width="1.1"/>
<text x="303.20" y="455.50" font-size="8.2" fill="#111" stroke="#111" stroke-width="0.16" text-anchor="end">5.0</text>
<line x1="304.40" y1="513.05" x2="308.60" y2="513.05" stroke="#000" stroke-width="1.1"/>
<text x="303.20" y="515.95" font-size="8.2" fill="#111" stroke="#111" stroke-width="0.16" text-anchor="end">2.5</text>
<line x1="304.40" y1="573.50" x2="308.60" y2="573.50" stroke="#000" stroke-width="1.1"/>
<text x="303.20" y="576.40" font-size="8.2" fill="#111" stroke="#111" stroke-width="0.16" text-anchor="end">0.0</text>
<line x1="318.10" y1="581.40" x2="318.10" y2="584.70" stroke="#000" stroke-width="1.1"/>
<text x="317.70" y="596.30" font-size="8.2" fill="#111" stroke="#111" stroke-width="0.16" text-anchor="middle">−10</text>
<line x1="358.30" y1="581.40" x2="358.30" y2="584.70" stroke="#000" stroke-width="1.1"/>
<text x="357.90" y="596.30" font-size="8.2" fill="#111" stroke="#111" stroke-width="0.16" text-anchor="middle">−5</text>
<line x1="398.50" y1="581.40" x2="398.50" y2="584.70" stroke="#000" stroke-width="1.1"/>
<text x="398.50" y="596.30" font-size="8.2" fill="#111" stroke="#111" stroke-width="0.16" text-anchor="middle">0</text>
<line x1="438.70" y1="581.40" x2="438.70" y2="584.70" stroke="#000" stroke-width="1.1"/>
<text x="438.70" y="596.30" font-size="8.2" fill="#111" stroke="#111" stroke-width="0.16" text-anchor="middle">5</text>
<line x1="478.90" y1="581.40" x2="478.90" y2="584.70" stroke="#000" stroke-width="1.1"/>
<text x="478.90" y="596.30" font-size="8.2" fill="#111" stroke="#111" stroke-width="0.16" text-anchor="middle">10</text>
<line x1="323.80" y1="542.10" x2="323.80" y2="574.30" stroke="#000" stroke-width="1.1"/>
<line x1="318.50" y1="542.10" x2="329.20" y2="542.10" stroke="#000" stroke-width="1.1"/>
<line x1="318.50" y1="574.30" x2="329.20" y2="574.30" stroke="#000" stroke-width="1.1"/>
<text x="322.20" y="558.20" font-size="6.8" fill="#111" stroke="#111" stroke-width="0.16" text-anchor="middle" textLength="11.50" lengthAdjust="spacingAndGlyphs" transform="rotate(-90 322.20 558.20)">n.s.</text>
<text x="284.60" y="489.60" font-size="10.4" fill="#111" stroke="#111" stroke-width="0.45" text-anchor="middle" textLength="27.50" lengthAdjust="spacingAndGlyphs" transform="rotate(-90 284.60 489.60)">−Log<tspan font-size="7" dy="2.0">10</tspan><tspan dy="-2.0"> P</tspan></text>
<text x="406.80" y="610.20" font-size="9.8" fill="#111" stroke="#111" stroke-width="0.35" text-anchor="middle" textLength="53.80" lengthAdjust="spacingAndGlyphs">Log<tspan font-size="6.5" dy="1.8">2</tspan><tspan dy="-1.8"> fold change</tspan></text>
<text x="52.20" y="383.60" font-size="10.6" fill="#111" stroke="#111" stroke-width="0.16" textLength="102.30" lengthAdjust="spacingAndGlyphs">MLL-TFE3 vs MLL-AF9</text>
<line x1="52.20" y1="385.60" x2="154.60" y2="385.60" stroke="#666" stroke-width="1.0"/>
<text x="307.10" y="383.60" font-size="10.6" fill="#111" stroke="#111" stroke-width="0.16" textLength="82.10" lengthAdjust="spacingAndGlyphs">ΔTAD vs MLL-AF9</text>
<line x1="307.10" y1="385.60" x2="389.30" y2="385.60" stroke="#666" stroke-width="1.0"/>
<text x="97.00" y="412.00" font-size="6.9" fill="#222" stroke="#222" stroke-width="0.16" font-style="italic" text-anchor="middle" textLength="52.00" lengthAdjust="spacingAndGlyphs">Expressed higher</text>
<text x="97.00" y="420.00" font-size="6.9" fill="#222" stroke="#222" stroke-width="0.16" font-style="italic" text-anchor="middle" textLength="51.00" lengthAdjust="spacingAndGlyphs">in MLL-AF9 cells</text>
<text x="152.20" y="412.00" font-size="6.9" fill="#222" stroke="#222" stroke-width="0.16" font-style="italic" text-anchor="middle" textLength="8.60" lengthAdjust="spacingAndGlyphs">No</text>
<text x="152.20" y="420.00" font-size="6.9" fill="#222" stroke="#222" stroke-width="0.16" font-style="italic" text-anchor="middle" textLength="29.50" lengthAdjust="spacingAndGlyphs">difference</text>
<text x="210.00" y="412.00" font-size="6.9" fill="#222" stroke="#222" stroke-width="0.16" font-style="italic" text-anchor="middle" textLength="53.10" lengthAdjust="spacingAndGlyphs">Expressed higher</text>
<text x="209.60" y="420.00" font-size="6.9" fill="#222" stroke="#222" stroke-width="0.16" font-style="italic" text-anchor="middle" textLength="54.00" lengthAdjust="spacingAndGlyphs">in MLL-TFE3 cells</text>
<text x="348.30" y="412.00" font-size="6.9" fill="#222" stroke="#222" stroke-width="0.16" font-style="italic" text-anchor="middle" textLength="53.10" lengthAdjust="spacingAndGlyphs">Expressed higher</text>
<text x="348.40" y="420.00" font-size="6.9" fill="#222" stroke="#222" stroke-width="0.16" font-style="italic" text-anchor="middle" textLength="50.80" lengthAdjust="spacingAndGlyphs">in MLL-AF9 cells</text>
<text x="399.20" y="412.00" font-size="6.9" fill="#222" stroke="#222" stroke-width="0.16" font-style="italic" text-anchor="middle" textLength="8.60" lengthAdjust="spacingAndGlyphs">No</text>
<text x="398.70" y="420.00" font-size="6.9" fill="#222" stroke="#222" stroke-width="0.16" font-style="italic" text-anchor="middle" textLength="28.60" lengthAdjust="spacingAndGlyphs">difference</text>
<text x="452.80" y="412.00" font-size="6.9" fill="#222" stroke="#222" stroke-width="0.16" font-style="italic" text-anchor="middle" textLength="51.70" lengthAdjust="spacingAndGlyphs">Expressed higher</text>
<text x="452.70" y="420.00" font-size="6.9" fill="#222" stroke="#222" stroke-width="0.16" font-style="italic" text-anchor="middle" textLength="40.60" lengthAdjust="spacingAndGlyphs">in ΔTAD cells</text>
<rect x="417.60" y="370.20" width="84.40" height="31.80" fill="#fff" stroke="#111" stroke-width="0.9"/>
<line x1="417.60" y1="380.60" x2="502.00" y2="380.60" stroke="#111" stroke-width="0.9"/>
<line x1="417.60" y1="391.30" x2="502.00" y2="391.30" stroke="#111" stroke-width="0.9"/>
<line x1="438.30" y1="370.20" x2="438.30" y2="402.00" stroke="#111" stroke-width="0.9"/>
<line x1="470.00" y1="370.20" x2="470.00" y2="402.00" stroke="#111" stroke-width="0.9"/>
<line x1="417.60" y1="370.20" x2="438.30" y2="380.60" stroke="#111" stroke-width="0.6"/>
<text x="418.60" y="379.60" font-size="8.0" fill="#111" stroke="#111" stroke-width="0.16" textLength="5.20" lengthAdjust="spacingAndGlyphs">P</text>
<text x="428.60" y="375.30" font-size="3.6" fill="#222" stroke="#222" stroke-width="0.16" textLength="8.00" lengthAdjust="spacingAndGlyphs">Log<tspan font-size="2.6" dy="0.8">2</tspan><tspan dy="-0.8">FC</tspan></text>
<text x="454.20" y="378.30" font-size="6.6" fill="#111" stroke="#111" stroke-width="0.16" text-anchor="middle" textLength="28.00" lengthAdjust="spacingAndGlyphs">-2&gt; or &gt;2</text>
<text x="486.00" y="378.30" font-size="6.6" fill="#111" stroke="#111" stroke-width="0.16" text-anchor="middle" textLength="28.00" lengthAdjust="spacingAndGlyphs">-2&lt; or &lt;2</text>
<text x="428.00" y="388.80" font-size="6.8" fill="#111" stroke="#111" stroke-width="0.16" text-anchor="middle" textLength="17.40" lengthAdjust="spacingAndGlyphs">&lt;0.05</text>
<text x="428.00" y="399.50" font-size="6.8" fill="#111" stroke="#111" stroke-width="0.16" text-anchor="middle" textLength="17.40" lengthAdjust="spacingAndGlyphs">&gt;0.05</text>
<circle cx="454.5" cy="385.9" r="2.6" fill="none" stroke="#7d6abd" stroke-width="1.0"/>
<circle cx="486.2" cy="385.9" r="2.6" fill="none" stroke="#f4cf98" stroke-width="1.0"/>
<circle cx="454.5" cy="396.7" r="2.6" fill="none" stroke="#a9bfe2" stroke-width="1.0"/>
<circle cx="486.2" cy="396.7" r="2.6" fill="none" stroke="#8a8a8a" stroke-width="1.0"/>
<rect x="135.2" y="432.8" width="23.6" height="8.1" rx="1.4" fill="#fff" stroke="#2a2a2a" stroke-width="0.75"/>
<text x="147.00" y="439.30" font-size="6.0" fill="#111" stroke="#111" stroke-width="0.16" text-anchor="middle" textLength="19.40" lengthAdjust="spacingAndGlyphs">Cdkn2c</text>
<rect x="163.5" y="438.6" width="20.5" height="8.1" rx="1.4" fill="#fff" stroke="#2a2a2a" stroke-width="0.75"/>
<text x="173.75" y="445.10" font-size="6.0" fill="#111" stroke="#111" stroke-width="0.16" text-anchor="middle" textLength="16.30" lengthAdjust="spacingAndGlyphs">Cpt1a</text>
<rect x="190.0" y="438.8" width="27.2" height="8.6" rx="1.4" fill="#fff" stroke="#2a2a2a" stroke-width="0.75"/>
<text x="203.60" y="445.90" font-size="6.9" fill="#e0282e" stroke="#e0282e" stroke-width="0.05" text-anchor="middle" textLength="25.00" lengthAdjust="spacingAndGlyphs">Bhlhe41</text>
<rect x="181.9" y="452.0" width="16.1" height="8.1" rx="1.4" fill="#fff" stroke="#2a2a2a" stroke-width="0.75"/>
<text x="189.95" y="458.50" font-size="6.0" fill="#111" stroke="#111" stroke-width="0.16" text-anchor="middle" textLength="11.90" lengthAdjust="spacingAndGlyphs">Ank2</text>
<rect x="203.4" y="456.2" width="18.4" height="8.5" rx="1.4" fill="#fff" stroke="#2a2a2a" stroke-width="0.75"/>
<text x="212.60" y="463.10" font-size="6.0" fill="#111" stroke="#111" stroke-width="0.16" text-anchor="middle" textLength="14.20" lengthAdjust="spacingAndGlyphs">Lzts2</text>
<rect x="225.6" y="447.8" width="23.4" height="8.4" rx="1.4" fill="#fff" stroke="#2a2a2a" stroke-width="0.75"/>
<text x="237.30" y="454.60" font-size="6.0" fill="#111" stroke="#111" stroke-width="0.16" text-anchor="middle" textLength="19.20" lengthAdjust="spacingAndGlyphs">Cnnm1</text>
<rect x="218.6" y="469.3" width="20.1" height="8.3" rx="1.4" fill="#fff" stroke="#2a2a2a" stroke-width="0.75"/>
<text x="228.65" y="476.10" font-size="6.9" fill="#e0282e" stroke="#e0282e" stroke-width="0.05" text-anchor="middle" textLength="17.90" lengthAdjust="spacingAndGlyphs">Sept3</text>
<rect x="245.6" y="469.8" width="15.8" height="7.7" rx="1.4" fill="#fff" stroke="#2a2a2a" stroke-width="0.75"/>
<text x="253.50" y="475.90" font-size="6.0" fill="#111" stroke="#111" stroke-width="0.16" text-anchor="middle" textLength="11.60" lengthAdjust="spacingAndGlyphs">Dlx2</text>
<rect x="142.5" y="476.4" width="20.0" height="8.4" rx="1.4" fill="#fff" stroke="#2a2a2a" stroke-width="0.75"/>
<text x="152.50" y="483.20" font-size="6.0" fill="#111" stroke="#111" stroke-width="0.16" text-anchor="middle" textLength="15.80" lengthAdjust="spacingAndGlyphs">Ogdhl</text>
<rect x="166.7" y="476.4" width="18.5" height="8.4" rx="1.4" fill="#fff" stroke="#2a2a2a" stroke-width="0.75"/>
<text x="175.95" y="483.30" font-size="6.9" fill="#e0282e" stroke="#e0282e" stroke-width="0.05" text-anchor="middle" textLength="16.30" lengthAdjust="spacingAndGlyphs">Eno3</text>
<rect x="188.9" y="482.7" width="26.1" height="8.1" rx="1.4" fill="#fff" stroke="#2a2a2a" stroke-width="0.75"/>
<text x="201.95" y="489.20" font-size="6.0" fill="#111" stroke="#111" stroke-width="0.16" text-anchor="middle" textLength="21.90" lengthAdjust="spacingAndGlyphs">Neurod2</text>
<rect x="226.5" y="482.7" width="19.7" height="8.1" rx="1.4" fill="#fff" stroke="#2a2a2a" stroke-width="0.75"/>
<text x="236.35" y="489.20" font-size="6.0" fill="#111" stroke="#111" stroke-width="0.16" text-anchor="middle" textLength="15.50" lengthAdjust="spacingAndGlyphs">Esrp2</text>
<rect x="148.8" y="490.3" width="14.3" height="7.9" rx="1.4" fill="#fff" stroke="#2a2a2a" stroke-width="0.75"/>
<text x="155.95" y="496.70" font-size="6.9" fill="#e0282e" stroke="#e0282e" stroke-width="0.05" text-anchor="middle" textLength="12.10" lengthAdjust="spacingAndGlyphs">Snn</text>
<rect x="167.7" y="490.8" width="15.0" height="8.0" rx="1.4" fill="#fff" stroke="#2a2a2a" stroke-width="0.75"/>
<text x="175.20" y="497.20" font-size="6.0" fill="#111" stroke="#111" stroke-width="0.16" text-anchor="middle" textLength="10.80" lengthAdjust="spacingAndGlyphs">Rgl1</text>
<rect x="205.1" y="495.8" width="26.1" height="8.4" rx="1.4" fill="#fff" stroke="#2a2a2a" stroke-width="0.75"/>
<text x="218.15" y="502.60" font-size="6.0" fill="#111" stroke="#111" stroke-width="0.16" text-anchor="middle" textLength="21.90" lengthAdjust="spacingAndGlyphs">Adamts2</text>
<rect x="184.5" y="503.8" width="20.5" height="8.7" rx="1.4" fill="#fff" stroke="#2a2a2a" stroke-width="0.75"/>
<text x="194.75" y="510.90" font-size="6.0" fill="#111" stroke="#111" stroke-width="0.16" text-anchor="middle" textLength="16.30" lengthAdjust="spacingAndGlyphs">Insm1</text>
<rect x="210.4" y="509.2" width="18.4" height="8.1" rx="1.4" fill="#fff" stroke="#2a2a2a" stroke-width="0.75"/>
<text x="219.60" y="515.70" font-size="6.0" fill="#111" stroke="#111" stroke-width="0.16" text-anchor="middle" textLength="14.20" lengthAdjust="spacingAndGlyphs">Pdgfa</text>
<rect x="236.9" y="505.8" width="16.1" height="8.5" rx="1.4" fill="#fff" stroke="#2a2a2a" stroke-width="0.75"/>
<text x="244.95" y="512.70" font-size="6.0" fill="#111" stroke="#111" stroke-width="0.16" text-anchor="middle" textLength="11.90" lengthAdjust="spacingAndGlyphs">Vldlr</text>
<rect x="149.2" y="504.3" width="21.2" height="8.3" rx="1.4" fill="#fff" stroke="#2a2a2a" stroke-width="0.75"/>
<text x="159.80" y="511.00" font-size="6.0" fill="#111" stroke="#111" stroke-width="0.16" text-anchor="middle" textLength="17.00" lengthAdjust="spacingAndGlyphs">Tceal1</text>
<rect x="118.9" y="504.3" width="25.6" height="8.8" rx="1.4" fill="#fff" stroke="#2a2a2a" stroke-width="0.75"/>
<text x="131.70" y="511.50" font-size="6.0" fill="#111" stroke="#111" stroke-width="0.16" text-anchor="middle" textLength="21.40" lengthAdjust="spacingAndGlyphs">Col19a1</text>
<rect x="123.1" y="517.7" width="26.5" height="8.8" rx="1.4" fill="#fff" stroke="#2a2a2a" stroke-width="0.75"/>
<text x="136.35" y="524.90" font-size="6.0" fill="#111" stroke="#111" stroke-width="0.16" text-anchor="middle" textLength="22.30" lengthAdjust="spacingAndGlyphs">Plekha6</text>
<rect x="153.6" y="521.2" width="23.7" height="8.5" rx="1.4" fill="#fff" stroke="#2a2a2a" stroke-width="0.75"/>
<text x="165.45" y="528.10" font-size="6.0" fill="#111" stroke="#111" stroke-width="0.16" text-anchor="middle" textLength="19.50" lengthAdjust="spacingAndGlyphs">Hoxa11</text>
<rect x="182.3" y="522.1" width="26.3" height="8.7" rx="1.4" fill="#fff" stroke="#2a2a2a" stroke-width="0.75"/>
<text x="195.45" y="529.20" font-size="6.0" fill="#111" stroke="#111" stroke-width="0.16" text-anchor="middle" textLength="22.10" lengthAdjust="spacingAndGlyphs">Camk2d</text>
<rect x="224.2" y="521.9" width="19.6" height="8.1" rx="1.4" fill="#fff" stroke="#2a2a2a" stroke-width="0.75"/>
<text x="234.00" y="528.40" font-size="6.0" fill="#111" stroke="#111" stroke-width="0.16" text-anchor="middle" textLength="15.40" lengthAdjust="spacingAndGlyphs">Nr4a3</text>
<rect x="143.5" y="534.3" width="17.5" height="7.7" rx="1.4" fill="#fff" stroke="#2a2a2a" stroke-width="0.75"/>
<text x="152.25" y="540.40" font-size="6.0" fill="#111" stroke="#111" stroke-width="0.16" text-anchor="middle" textLength="13.30" lengthAdjust="spacingAndGlyphs">Speg</text>
<rect x="156.4" y="547.4" width="15.6" height="9.0" rx="1.4" fill="#fff" stroke="#2a2a2a" stroke-width="0.75"/>
<text x="164.20" y="554.80" font-size="6.0" fill="#111" stroke="#111" stroke-width="0.16" text-anchor="middle" textLength="11.40" lengthAdjust="spacingAndGlyphs">Mgll</text>
<rect x="177.4" y="542.2" width="15.6" height="8.2" rx="1.4" fill="#fff" stroke="#2a2a2a" stroke-width="0.75"/>
<text x="185.20" y="548.80" font-size="6.0" fill="#111" stroke="#111" stroke-width="0.16" text-anchor="middle" textLength="11.40" lengthAdjust="spacingAndGlyphs">Sall1</text>
<rect x="199.3" y="535.4" width="21.7" height="8.5" rx="1.4" fill="#fff" stroke="#2a2a2a" stroke-width="0.75"/>
<text x="210.15" y="542.30" font-size="6.0" fill="#111" stroke="#111" stroke-width="0.16" text-anchor="middle" textLength="17.50" lengthAdjust="spacingAndGlyphs">Cacnb2</text>
<rect x="212.9" y="549.2" width="17.5" height="8.1" rx="1.4" fill="#fff" stroke="#2a2a2a" stroke-width="0.75"/>
<text x="221.65" y="555.70" font-size="6.0" fill="#111" stroke="#111" stroke-width="0.16" text-anchor="middle" textLength="13.30" lengthAdjust="spacingAndGlyphs">Asb2</text>
<rect x="192.2" y="555.2" width="16.7" height="8.0" rx="1.4" fill="#fff" stroke="#2a2a2a" stroke-width="0.75"/>
<text x="200.55" y="561.60" font-size="6.0" fill="#111" stroke="#111" stroke-width="0.16" text-anchor="middle" textLength="12.50" lengthAdjust="spacingAndGlyphs">Sobp</text>
<line x1="158.80" y1="436.85" x2="165.00" y2="443.50" stroke="#1a1a1a" stroke-width="0.75"/>
<line x1="173.75" y1="446.70" x2="172.50" y2="457.50" stroke="#1a1a1a" stroke-width="0.75"/>
<line x1="190.00" y1="443.10" x2="183.80" y2="468.00" stroke="#1a1a1a" stroke-width="0.75"/>
<line x1="189.95" y1="460.10" x2="183.80" y2="467.50" stroke="#1a1a1a" stroke-width="0.75"/>
<line x1="203.40" y1="460.45" x2="187.70" y2="478.50" stroke="#1a1a1a" stroke-width="0.75"/>
<line x1="218.60" y1="473.45" x2="192.00" y2="483.00" stroke="#1a1a1a" stroke-width="0.75"/>
<line x1="245.60" y1="473.65" x2="234.50" y2="483.00" stroke="#1a1a1a" stroke-width="0.75"/>
<line x1="162.50" y1="480.60" x2="170.50" y2="488.40" stroke="#1a1a1a" stroke-width="0.75"/>
<line x1="175.95" y1="484.80" x2="175.40" y2="491.00" stroke="#1a1a1a" stroke-width="0.75"/>
<line x1="188.90" y1="486.75" x2="186.20" y2="488.40" stroke="#1a1a1a" stroke-width="0.75"/>
<line x1="226.50" y1="486.75" x2="219.00" y2="495.50" stroke="#1a1a1a" stroke-width="0.75"/>
<line x1="163.10" y1="494.25" x2="171.00" y2="488.60" stroke="#1a1a1a" stroke-width="0.75"/>
<line x1="175.20" y1="498.80" x2="182.60" y2="534.00" stroke="#1a1a1a" stroke-width="0.75"/>
<line x1="205.10" y1="500.00" x2="200.00" y2="506.00" stroke="#1a1a1a" stroke-width="0.75"/>
<line x1="194.75" y1="512.50" x2="189.00" y2="521.60" stroke="#1a1a1a" stroke-width="0.75"/>
<line x1="210.40" y1="513.25" x2="200.00" y2="521.00" stroke="#1a1a1a" stroke-width="0.75"/>
<line x1="236.90" y1="510.05" x2="228.80" y2="513.00" stroke="#1a1a1a" stroke-width="0.75"/>
<line x1="170.40" y1="508.45" x2="175.00" y2="509.00" stroke="#1a1a1a" stroke-width="0.75"/>
<line x1="144.50" y1="508.70" x2="174.60" y2="509.40" stroke="#1a1a1a" stroke-width="0.75"/>
<line x1="149.60" y1="522.10" x2="173.90" y2="518.70" stroke="#1a1a1a" stroke-width="0.75"/>
<line x1="177.30" y1="525.45" x2="180.00" y2="527.00" stroke="#1a1a1a" stroke-width="0.75"/>
<line x1="224.20" y1="525.95" x2="211.00" y2="519.00" stroke="#1a1a1a" stroke-width="0.75"/>
<line x1="161.00" y1="538.15" x2="176.30" y2="533.30" stroke="#1a1a1a" stroke-width="0.75"/>
<line x1="172.00" y1="551.90" x2="174.00" y2="537.60" stroke="#1a1a1a" stroke-width="0.75"/>
<line x1="185.20" y1="542.20" x2="178.50" y2="533.50" stroke="#1a1a1a" stroke-width="0.75"/>
<line x1="199.30" y1="539.65" x2="185.00" y2="532.50" stroke="#1a1a1a" stroke-width="0.75"/>
<line x1="212.90" y1="553.25" x2="187.50" y2="537.00" stroke="#1a1a1a" stroke-width="0.75"/>
<line x1="192.20" y1="559.20" x2="184.00" y2="540.00" stroke="#1a1a1a" stroke-width="0.75"/>
<rect x="411.2" y="453.4" width="20.7" height="7.8" rx="1.4" fill="#fff" stroke="#2a2a2a" stroke-width="0.75"/>
<text x="421.55" y="459.60" font-size="6.0" fill="#111" stroke="#111" stroke-width="0.16" text-anchor="middle" textLength="16.50" lengthAdjust="spacingAndGlyphs">Cpt1a</text>
<rect x="386.9" y="467.2" width="23.8" height="7.9" rx="1.4" fill="#fff" stroke="#2a2a2a" stroke-width="0.75"/>
<text x="398.80" y="473.50" font-size="6.0" fill="#111" stroke="#111" stroke-width="0.16" text-anchor="middle" textLength="19.60" lengthAdjust="spacingAndGlyphs">Cdkn2c</text>
<rect x="444.2" y="453.4" width="23.0" height="8.5" rx="1.4" fill="#fff" stroke="#2a2a2a" stroke-width="0.75"/>
<text x="455.70" y="460.30" font-size="6.0" fill="#111" stroke="#111" stroke-width="0.16" text-anchor="middle" textLength="18.80" lengthAdjust="spacingAndGlyphs">Cnnm1</text>
<rect x="476.5" y="454.4" width="25.9" height="8.2" rx="1.4" fill="#fff" stroke="#2a2a2a" stroke-width="0.75"/>
<text x="489.45" y="461.00" font-size="6.0" fill="#111" stroke="#111" stroke-width="0.16" text-anchor="middle" textLength="21.70" lengthAdjust="spacingAndGlyphs">Neurod2</text>
<rect x="432.7" y="466.5" width="19.6" height="8.3" rx="1.4" fill="#fff" stroke="#2a2a2a" stroke-width="0.75"/>
<text x="442.50" y="473.20" font-size="6.0" fill="#111" stroke="#111" stroke-width="0.16" text-anchor="middle" textLength="15.40" lengthAdjust="spacingAndGlyphs">Ogdhl</text>
<rect x="463.5" y="467.0" width="23.7" height="8.4" rx="1.4" fill="#fff" stroke="#2a2a2a" stroke-width="0.75"/>
<text x="475.35" y="473.80" font-size="6.0" fill="#111" stroke="#111" stroke-width="0.16" text-anchor="middle" textLength="19.50" lengthAdjust="spacingAndGlyphs">Hoxa11</text>
<rect x="492.3" y="472.0" width="16.2" height="8.3" rx="1.4" fill="#fff" stroke="#2a2a2a" stroke-width="0.75"/>
<text x="500.40" y="478.70" font-size="6.0" fill="#111" stroke="#111" stroke-width="0.16" text-anchor="middle" textLength="12.00" lengthAdjust="spacingAndGlyphs">Dlx2</text>
<rect x="422.6" y="479.6" width="17.0" height="8.2" rx="1.4" fill="#fff" stroke="#2a2a2a" stroke-width="0.75"/>
<text x="431.10" y="486.20" font-size="6.0" fill="#111" stroke="#111" stroke-width="0.16" text-anchor="middle" textLength="12.80" lengthAdjust="spacingAndGlyphs">Ank2</text>
<rect x="460.4" y="480.3" width="16.7" height="8.0" rx="1.4" fill="#fff" stroke="#2a2a2a" stroke-width="0.75"/>
<text x="468.75" y="486.70" font-size="6.0" fill="#111" stroke="#111" stroke-width="0.16" text-anchor="middle" textLength="12.50" lengthAdjust="spacingAndGlyphs">Sall1</text>
<rect x="478.6" y="485.0" width="20.2" height="8.5" rx="1.4" fill="#fff" stroke="#2a2a2a" stroke-width="0.75"/>
<text x="488.70" y="491.90" font-size="6.0" fill="#111" stroke="#111" stroke-width="0.16" text-anchor="middle" textLength="16.00" lengthAdjust="spacingAndGlyphs">Esrp2</text>
<rect x="419.4" y="493.0" width="26.0" height="7.8" rx="1.4" fill="#fff" stroke="#2a2a2a" stroke-width="0.75"/>
<text x="432.40" y="499.20" font-size="6.0" fill="#111" stroke="#111" stroke-width="0.16" text-anchor="middle" textLength="21.80" lengthAdjust="spacingAndGlyphs">Col19a1</text>
<rect x="393.7" y="497.0" width="21.3" height="8.4" rx="1.4" fill="#fff" stroke="#2a2a2a" stroke-width="0.75"/>
<text x="404.35" y="503.80" font-size="6.0" fill="#111" stroke="#111" stroke-width="0.16" text-anchor="middle" textLength="17.10" lengthAdjust="spacingAndGlyphs">Tceal1</text>
<rect x="453.1" y="496.5" width="20.3" height="8.5" rx="1.4" fill="#fff" stroke="#2a2a2a" stroke-width="0.75"/>
<text x="463.25" y="503.40" font-size="6.0" fill="#111" stroke="#111" stroke-width="0.16" text-anchor="middle" textLength="16.10" lengthAdjust="spacingAndGlyphs">Insm1</text>
<rect x="477.1" y="503.4" width="17.3" height="8.0" rx="1.4" fill="#fff" stroke="#2a2a2a" stroke-width="0.75"/>
<text x="485.75" y="509.80" font-size="6.0" fill="#111" stroke="#111" stroke-width="0.16" text-anchor="middle" textLength="13.10" lengthAdjust="spacingAndGlyphs">Sobp</text>
<rect x="417.0" y="511.3" width="25.3" height="8.3" rx="1.4" fill="#fff" stroke="#2a2a2a" stroke-width="0.75"/>
<text x="429.65" y="518.00" font-size="6.0" fill="#111" stroke="#111" stroke-width="0.16" text-anchor="middle" textLength="21.10" lengthAdjust="spacingAndGlyphs">Adamts2</text>
<rect x="382.3" y="510.4" width="16.6" height="8.1" rx="1.4" fill="#fff" stroke="#2a2a2a" stroke-width="0.75"/>
<text x="390.60" y="516.90" font-size="6.0" fill="#111" stroke="#111" stroke-width="0.16" text-anchor="middle" textLength="12.40" lengthAdjust="spacingAndGlyphs">Lzts2</text>
<rect x="404.4" y="511.3" width="24.2" height="8.5" rx="1.4" fill="#fff" stroke="#2a2a2a" stroke-width="0.75"/>
<text x="416.50" y="518.20" font-size="6.0" fill="#111" stroke="#111" stroke-width="0.16" text-anchor="middle" textLength="20.00" lengthAdjust="spacingAndGlyphs">Plekha6</text>
<rect x="450.6" y="514.4" width="18.4" height="8.2" rx="1.4" fill="#fff" stroke="#2a2a2a" stroke-width="0.75"/>
<text x="459.80" y="521.00" font-size="6.0" fill="#111" stroke="#111" stroke-width="0.16" text-anchor="middle" textLength="14.20" lengthAdjust="spacingAndGlyphs">Pdgfa</text>
<rect x="474.6" y="516.6" width="15.7" height="8.3" rx="1.4" fill="#fff" stroke="#2a2a2a" stroke-width="0.75"/>
<text x="482.45" y="523.30" font-size="6.0" fill="#111" stroke="#111" stroke-width="0.16" text-anchor="middle" textLength="11.50" lengthAdjust="spacingAndGlyphs">Vldlr</text>
<rect x="384.6" y="524.2" width="18.5" height="8.6" rx="1.4" fill="#fff" stroke="#2a2a2a" stroke-width="0.75"/>
<text x="393.85" y="531.20" font-size="6.0" fill="#111" stroke="#111" stroke-width="0.16" text-anchor="middle" textLength="14.30" lengthAdjust="spacingAndGlyphs">Speg</text>
<rect x="429.6" y="524.2" width="16.2" height="8.6" rx="1.4" fill="#fff" stroke="#2a2a2a" stroke-width="0.75"/>
<text x="437.70" y="531.20" font-size="6.0" fill="#111" stroke="#111" stroke-width="0.16" text-anchor="middle" textLength="12.00" lengthAdjust="spacingAndGlyphs">Rgl1</text>
<rect x="453.9" y="529.5" width="19.6" height="8.6" rx="1.4" fill="#fff" stroke="#2a2a2a" stroke-width="0.75"/>
<text x="463.70" y="536.50" font-size="6.0" fill="#111" stroke="#111" stroke-width="0.16" text-anchor="middle" textLength="15.40" lengthAdjust="spacingAndGlyphs">Nr4a3</text>
<rect x="407.3" y="535.5" width="13.5" height="8.0" rx="1.4" fill="#fff" stroke="#2a2a2a" stroke-width="0.75"/>
<text x="414.05" y="541.90" font-size="6.0" fill="#111" stroke="#111" stroke-width="0.16" text-anchor="middle" textLength="9.30" lengthAdjust="spacingAndGlyphs">Mgll</text>
<rect x="382.4" y="542.4" width="20.5" height="7.9" rx="1.4" fill="#fff" stroke="#2a2a2a" stroke-width="0.75"/>
<text x="392.65" y="548.80" font-size="6.9" fill="#e0282e" stroke="#e0282e" stroke-width="0.05" text-anchor="middle" textLength="18.30" lengthAdjust="spacingAndGlyphs">Sept3</text>
<rect x="427.0" y="543.4" width="24.0" height="8.0" rx="1.4" fill="#fff" stroke="#2a2a2a" stroke-width="0.75"/>
<text x="439.00" y="549.80" font-size="6.0" fill="#111" stroke="#111" stroke-width="0.16" text-anchor="middle" textLength="19.80" lengthAdjust="spacingAndGlyphs">Camk2d</text>
<rect x="373.7" y="555.6" width="26.1" height="8.1" rx="1.4" fill="#fff" stroke="#2a2a2a" stroke-width="0.75"/>
<text x="386.75" y="562.20" font-size="6.9" fill="#e0282e" stroke="#e0282e" stroke-width="0.05" text-anchor="middle" textLength="23.90" lengthAdjust="spacingAndGlyphs">Bhlhe41</text>
<rect x="404.6" y="555.6" width="13.5" height="8.1" rx="1.4" fill="#fff" stroke="#2a2a2a" stroke-width="0.75"/>
<text x="411.35" y="562.20" font-size="6.9" fill="#e0282e" stroke="#e0282e" stroke-width="0.05" text-anchor="middle" textLength="11.30" lengthAdjust="spacingAndGlyphs">Snn</text>
<rect x="425.6" y="556.9" width="23.4" height="8.1" rx="1.4" fill="#fff" stroke="#2a2a2a" stroke-width="0.75"/>
<text x="437.30" y="563.40" font-size="6.0" fill="#111" stroke="#111" stroke-width="0.16" text-anchor="middle" textLength="19.20" lengthAdjust="spacingAndGlyphs">Cacnb2</text>
<rect x="399.2" y="569.0" width="17.5" height="8.1" rx="1.4" fill="#fff" stroke="#2a2a2a" stroke-width="0.75"/>
<text x="407.95" y="575.60" font-size="6.9" fill="#e0282e" stroke="#e0282e" stroke-width="0.05" text-anchor="middle" textLength="15.30" lengthAdjust="spacingAndGlyphs">Eno3</text>
<rect x="422.1" y="569.8" width="15.4" height="8.5" rx="1.4" fill="#fff" stroke="#2a2a2a" stroke-width="0.75"/>
<text x="429.80" y="576.70" font-size="6.0" fill="#111" stroke="#111" stroke-width="0.16" text-anchor="middle" textLength="11.20" lengthAdjust="spacingAndGlyphs">Asb2</text>
<line x1="421.55" y1="461.20" x2="416.50" y2="469.50" stroke="#1a1a1a" stroke-width="0.75"/>
<line x1="410.70" y1="471.15" x2="416.00" y2="466.00" stroke="#1a1a1a" stroke-width="0.75"/>
<line x1="455.70" y1="461.90" x2="455.50" y2="483.00" stroke="#1a1a1a" stroke-width="0.75"/>
<line x1="476.50" y1="458.50" x2="462.00" y2="505.00" stroke="#1a1a1a" stroke-width="0.75"/>
<line x1="432.70" y1="470.65" x2="423.00" y2="479.00" stroke="#1a1a1a" stroke-width="0.75"/>
<line x1="463.50" y1="471.20" x2="446.50" y2="500.50" stroke="#1a1a1a" stroke-width="0.75"/>
<line x1="492.30" y1="476.15" x2="478.00" y2="486.00" stroke="#1a1a1a" stroke-width="0.75"/>
<line x1="478.60" y1="489.25" x2="463.50" y2="495.00" stroke="#1a1a1a" stroke-width="0.75"/>
<line x1="432.40" y1="500.80" x2="423.00" y2="502.50" stroke="#1a1a1a" stroke-width="0.75"/>
<line x1="415.00" y1="501.20" x2="424.00" y2="505.00" stroke="#1a1a1a" stroke-width="0.75"/>
<line x1="453.10" y1="500.75" x2="444.50" y2="510.00" stroke="#1a1a1a" stroke-width="0.75"/>
<line x1="477.10" y1="507.40" x2="455.00" y2="508.50" stroke="#1a1a1a" stroke-width="0.75"/>
<line x1="404.40" y1="515.55" x2="398.90" y2="514.00" stroke="#1a1a1a" stroke-width="0.75"/>
<line x1="450.60" y1="518.50" x2="444.00" y2="515.00" stroke="#1a1a1a" stroke-width="0.75"/>
<line x1="474.60" y1="520.75" x2="469.00" y2="517.00" stroke="#1a1a1a" stroke-width="0.75"/>
<line x1="403.10" y1="528.50" x2="420.50" y2="531.00" stroke="#1a1a1a" stroke-width="0.75"/>
<line x1="453.90" y1="533.80" x2="448.00" y2="527.50" stroke="#1a1a1a" stroke-width="0.75"/>
<line x1="399.80" y1="559.65" x2="404.50" y2="551.50" stroke="#1a1a1a" stroke-width="0.75"/>
<line x1="425.60" y1="560.95" x2="418.50" y2="549.00" stroke="#1a1a1a" stroke-width="0.75"/>
<line x1="422.10" y1="574.05" x2="419.50" y2="561.00" stroke="#1a1a1a" stroke-width="0.75"/></svg></body></html>
